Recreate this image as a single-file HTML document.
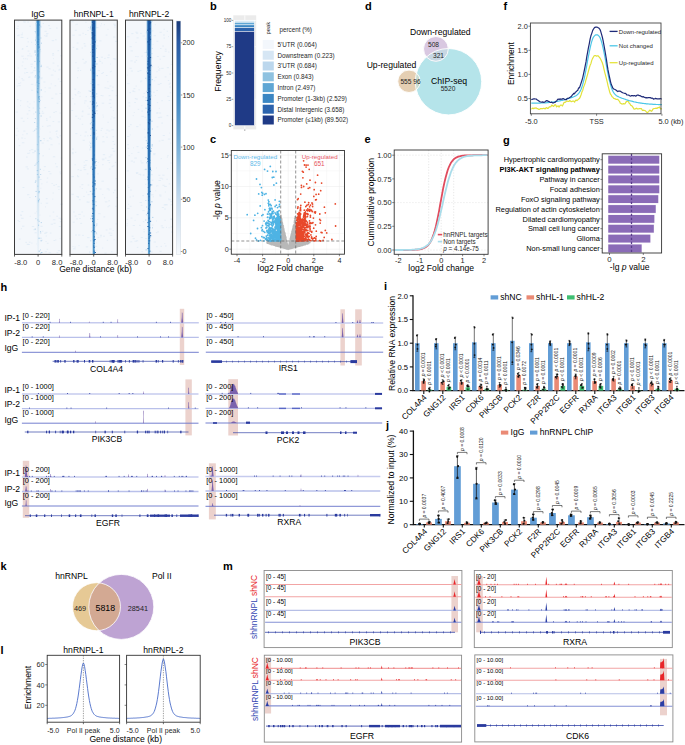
<!DOCTYPE html>
<html><head><meta charset="utf-8"><style>
html,body{margin:0;padding:0;background:#fff;}
body{width:685px;height:745px;overflow:hidden;}
svg{display:block;font-family:"Liberation Sans",sans-serif;}
</style></head><body>
<svg width="685" height="745" viewBox="0 0 685 745">
<defs><linearGradient id="sg0" x1="0" y1="0" x2="0" y2="1"><stop offset="0" stop-color="#3483c2"/><stop offset="0.15" stop-color="#5a9fd0"/><stop offset="0.35" stop-color="#98c6e4"/><stop offset="0.7" stop-color="#cbe1f1"/><stop offset="1" stop-color="#e8f0f8"/></linearGradient>
<linearGradient id="sg1" x1="0" y1="0" x2="0" y2="1"><stop offset="0" stop-color="#1b58a3"/><stop offset="0.6" stop-color="#2a70b4"/><stop offset="1" stop-color="#4f98cb"/></linearGradient>
<linearGradient id="hg0" x1="0" y1="0" x2="0" y2="1"><stop offset="0" stop-color="#9cc6e4"/><stop offset="0.4" stop-color="#d3e5f3"/><stop offset="1" stop-color="#f3f7fb"/></linearGradient>
<linearGradient id="hg1" x1="0" y1="0" x2="0" y2="1"><stop offset="0" stop-color="#86b9df"/><stop offset="1" stop-color="#c2dbef"/></linearGradient>
<linearGradient id="cb" x1="0" y1="0" x2="0" y2="1"><stop offset="0" stop-color="#1b3a78"/><stop offset="0.09" stop-color="#2a5aa3"/><stop offset="0.32" stop-color="#3f86c2"/><stop offset="0.55" stop-color="#7db3da"/><stop offset="0.77" stop-color="#c6dbee"/><stop offset="1" stop-color="#f7fafd"/></linearGradient>
<clipPath id="cbig"><circle cx="448.5" cy="81.7" r="33.2"/></clipPath>
<clipPath id="ctan"><circle cx="96.5" cy="606.7" r="24.0"/></clipPath></defs>
<rect width="685" height="745" fill="#fff"/>
<text x="0.5" y="10" font-size="11" font-weight="bold" fill="#000">a</text>
<rect x="14.5" y="20.1" width="47.3" height="234.3" fill="#f4f7fb"/>
<path d="M30.2 56.1h1.9M18.8 145.6h1.4M18.1 139h0.9M35.1 37.3h1M34.7 213.2h1M25.6 166.9h2.4M41.6 113.2h2.5M17.6 220.5h1.3M22 48.5h1.3M52.5 63.1h1.8M44.4 107.6h1.7M18.3 34.9h1.2M46.3 120.4h1.3M42 126.4h1.3M51.5 183.5h1.2M41.5 143.1h2.3M48.5 88h2.5M20.8 118.2h2.1M22.4 134.7h0.9M45.8 198.7h1.8M55.2 94h2M42.4 155.8h1.6M53.6 240.5h1.6M45.6 35.2h2M44.8 251.8h2.2M28.4 110.7h1.9M16.5 128.4h1.1M20.8 34.8h2.1M21.4 78.6h1.5M55 39.8h1.6M40.4 226.3h2.2M54.6 85.8h1.5M31.8 226.5h2.4M22.3 62h1.2M26.1 133.8h1.8M27.4 22.1h1.5M32.2 152.7h2.4M46.8 140.8h1.8M46.1 33.6h2.3M50.8 224.2h2.2M33.3 113.8h1M44.2 35.6h0.9M25 58.8h1.4M17.9 21.2h1.1M20.1 105.6h0.8M55.1 163.7h1.1M26.9 101.8h1.4M21.1 218.3h2.5M36.6 133.5h0.9M20.1 100.7h1.3M53 58.6h0.8M58.6 143.8h1M40.1 27.4h1.7M59.8 221.7h2M27.3 106.3h1.1M50.5 144.8h2.1M30.4 72.9h2.2M60.1 219.2h2.2M52.6 193h1.2M38.9 103.7h0.8M16.8 86h1.2M46.9 243.3h1.6M57.9 250.6h2.4M32 72.3h1.2M24.4 68.6h1.9M56.3 216.3h1.6M45.1 206.9h0.9M45.4 232.4h2.1M49.5 132.1h1.1M51.2 98.3h2.2M59.5 113.1h1.5M58.4 189.5h1.1M21.3 56.2h2.3M52 55.1h2.2M59.9 173.8h1.4M40.4 51.5h0.8M59.5 172h1.7M57.8 121.9h2.3M52.9 70.1h1.2M28.8 77h1.8M27.2 118.4h1M56.7 103.3h1.6M41.9 231.2h1.5M57.1 137.6h1.7M39.2 25.4h1.5M23.8 22h2.2M23.3 131.1h2M40.7 96.8h1.7M40.7 203.3h1M40.9 78.8h1.3M50.5 139h1.8M49.9 233.1h1.6M43.2 138.5h1.7M46.9 126.2h1.7M37.2 239.8h2M55.2 240h1.2M40.8 240.2h2.2M21.7 49.4h1.6M18.8 77h0.9M45.8 203.2h2.3M22.5 187.5h1.9M22 226.2h2.4M25.4 242.4h1.5M37.6 251h2.2M22.8 121.3h1.7M30.9 66.6h1.3M48.2 25.6h1.7M35.5 25.3h1.4M43.8 140.1h0.9M60.1 204.2h2.5M20.2 82.8h0.9M50.8 83.9h1M34.6 232.8h2.2M27.2 55.8h2.4M41.3 183.8h1M18.1 181h1.5M18.8 239.1h1.9M51.8 40.6h2.3M18.5 221.5h1.6M30.9 149.6h2.4M27.6 51.1h1.7M26.3 46.5h1.1M17.8 68h1.3M29.3 197.5h1.3M38.2 62.4h1.4M16.3 79.3h0.8M48.7 149.1h1.1M37 238.2h1M52.6 121.5h1.6M53.3 112.4h1.7M46.7 249.3h1.4M53.2 185.3h1.9M33.8 101.8h0.9M21.4 37.5h2.1M27.1 59h0.9M53.6 223.3h1.9M28.3 77.4h1.3M36.3 57.7h1.6M27.4 244.5h2.5M40.3 77.9h2.4M29.5 103.9h0.8M32.8 131.4h1.7M24.6 138.4h0.8M27.5 41.9h1.5M17.4 26.3h1.3M26 157.1h1.7M49.5 173.8h2M55.3 111.6h1.4M60.1 55.8h2M44.6 31.3h2.2M55.9 166.8h2M52.3 53.5h1.7M38.3 215.1h2.2M52.9 156.8h2.3M46.4 182.2h1.2M16.9 52h1.4M20.3 215.3h1.7M43.9 166.6h2M37.7 21.9h2.2M49.4 137.9h1.7M45.4 36.4h2.1M26.9 38.4h1.3M48.5 68.8h2.1M59.7 135.8h1.5M37.2 179.9h2.1M43.4 170.4h0.9M22.2 80.1h2.1M29.3 153h0.8M18.2 83.5h1.9M46.9 178.1h1.3M38.9 129h1.6M20.9 228.7h1.1M59.8 238.6h0.8M36.3 211.6h2.4M35.9 83.5h1.2M58.3 70h1.8M21.9 142.8h2.4M21.5 211.6h1.7M55.7 184.5h1.2M56.2 134h0.8M15.7 135.3h1.6M29.2 53.8h1.4M29.8 216.3h0.8M49.5 216h1M57.5 186.7h2.3M28.6 107.6h1.5M60.7 158h1.4M34.9 85h0.9M20.1 215h1.3M57.9 79h1.3M38.6 65.2h1.4M58.8 226.5h2.2M44.1 233.3h2.4M40.4 188.3h0.9M48.7 125.8h2.1M44.7 87.6h0.9M57.5 50.7h1.6M31.1 90.3h2.1M59.7 81.5h1.9M29.1 150.6h1.5M23.1 58.7h1.2M56.5 136.6h1.2M56.6 252.6h1.6M21.8 65.8h1M31 42.3h1.2M27.2 153.4h2.3M49.5 117h1.5M39.2 108.6h1.4M18.3 85.6h2.4M21.2 138h1.9M54.6 71.3h1.3M26.8 114h1.6M58.7 218.2h2.3M16.5 28.6h2M56.1 131h1.8M15.5 112.1h2.4M52.9 219.8h2.5M26.8 46.4h1.1M39.2 179.5h2.4M48.2 171.5h2.1M36.2 149.2h0.9M50.9 75.1h2.4M44.7 91.7h1M26.9 168.9h2M20.6 37.4h1.7M41.9 111.3h1.2M42.7 23.5h1.3M36.4 243.9h1.9M55.5 131.5h1.2M26.7 244.3h2M29.4 26.2h1.6M46.1 118.7h1.2M45.7 236h1.2M17 99.6h1.5M46.4 67.1h2.2M49 138.4h1.1M59.4 93.5h2.2M26 72.5h2.1M28.9 242.2h1.6M24 73h1.5M45.6 241.5h1M33.3 70.6h2.5M21.9 33.1h0.9M33.3 229.7h2.3M48.7 252.8h2.4M30.4 64.2h2.4M49.3 28.5h1.9M32.7 108h1.4M23.2 21.8h1.3M31.4 243.1h1M59.2 69.3h1.4M52.7 212.1h1.5M17.7 131.1h1.4M57.2 65.9h1.4M56.1 28.1h1.5M52.3 199.2h0.9M17.1 35.6h2.4M27.1 194.7h2.3M30.9 84.4h2.4M43.4 82h2" stroke="#e2ecf6" stroke-width="0.9"/>
<path d="M35.8 20.1 L40.5 20.1 L39.4 254.4 L36.9 254.4Z" fill="url(#hg0)"/>
<path d="M36.9 20.1 L39.4 20.1 L38.6 254.4 L37.6 254.4Z" fill="url(#sg0)"/>
<rect x="37.3" y="20.6" width="0.8" height="1" fill="#3a86c4"/>
<rect x="35.5" y="23.2" width="1.4" height="1" fill="#b9d5ec"/>
<rect x="38.3" y="24.5" width="1.4" height="1" fill="#3a86c4"/>
<rect x="39.9" y="25.8" width="1.4" height="1" fill="#b9d5ec"/>
<rect x="37.4" y="29.7" width="1.1" height="1" fill="#3a86c4"/>
<rect x="37.1" y="31" width="1.3" height="1" fill="#3a86c4"/>
<rect x="34.7" y="31" width="1.2" height="1" fill="#b9d5ec"/>
<rect x="37.1" y="32.3" width="1.1" height="1" fill="#3a86c4"/>
<rect x="35.3" y="32.3" width="0.9" height="1" fill="#b9d5ec"/>
<rect x="37.7" y="33.6" width="1.3" height="1" fill="#3a86c4"/>
<rect x="37.6" y="34.9" width="1.2" height="1" fill="#3a86c4"/>
<rect x="40.1" y="37.5" width="1.3" height="1" fill="#b9d5ec"/>
<rect x="38.2" y="38.8" width="0.9" height="1" fill="#3a86c4"/>
<rect x="35.3" y="38.8" width="1" height="1" fill="#b9d5ec"/>
<rect x="35.1" y="40.1" width="1.6" height="1" fill="#b9d5ec"/>
<rect x="37.2" y="41.4" width="1.4" height="1" fill="#3a86c4"/>
<rect x="41" y="42.7" width="1" height="1" fill="#b9d5ec"/>
<rect x="37.5" y="44" width="1.4" height="1" fill="#3a86c4"/>
<rect x="35.4" y="44" width="1.6" height="1" fill="#b9d5ec"/>
<rect x="38.5" y="46.6" width="1.1" height="1" fill="#3a86c4"/>
<rect x="37.9" y="49.2" width="1.2" height="1" fill="#6aaad6"/>
<rect x="40.2" y="49.2" width="0.8" height="1" fill="#b9d5ec"/>
<rect x="34.4" y="50.5" width="1.5" height="1" fill="#b9d5ec"/>
<rect x="37.5" y="51.8" width="1.2" height="1" fill="#6aaad6"/>
<rect x="34.5" y="51.8" width="1.2" height="1" fill="#b9d5ec"/>
<rect x="37" y="53.1" width="1.1" height="1" fill="#6aaad6"/>
<rect x="35.1" y="54.4" width="1" height="1" fill="#b9d5ec"/>
<rect x="36.9" y="57" width="1.3" height="1" fill="#6aaad6"/>
<rect x="36.8" y="58.3" width="1.3" height="1" fill="#6aaad6"/>
<rect x="38.6" y="60.9" width="1.1" height="1" fill="#6aaad6"/>
<rect x="34.4" y="60.9" width="1.1" height="1" fill="#b9d5ec"/>
<rect x="36.8" y="63.5" width="1.2" height="1" fill="#6aaad6"/>
<rect x="40.8" y="64.8" width="0.9" height="1" fill="#b9d5ec"/>
<rect x="37.1" y="66.1" width="0.9" height="1" fill="#6aaad6"/>
<rect x="40.4" y="66.1" width="1.4" height="1" fill="#b9d5ec"/>
<rect x="34.4" y="67.4" width="0.8" height="1" fill="#b9d5ec"/>
<rect x="38.2" y="71.3" width="1.3" height="1" fill="#6aaad6"/>
<rect x="37.7" y="75.2" width="1.2" height="1" fill="#6aaad6"/>
<rect x="35.1" y="75.2" width="0.9" height="1" fill="#b9d5ec"/>
<rect x="38.2" y="76.5" width="1.4" height="1" fill="#6aaad6"/>
<rect x="34.6" y="76.5" width="1.1" height="1" fill="#b9d5ec"/>
<rect x="37.7" y="77.8" width="1.4" height="1" fill="#6aaad6"/>
<rect x="37.5" y="80.4" width="1.1" height="1" fill="#6aaad6"/>
<rect x="36.8" y="81.7" width="1.5" height="1" fill="#6aaad6"/>
<rect x="38" y="83" width="1.4" height="1" fill="#6aaad6"/>
<rect x="37.5" y="85.6" width="1.1" height="1" fill="#6aaad6"/>
<rect x="37" y="88.2" width="1.4" height="1" fill="#6aaad6"/>
<rect x="40.6" y="89.5" width="1.4" height="1" fill="#b9d5ec"/>
<rect x="36.9" y="90.8" width="1.2" height="1" fill="#6aaad6"/>
<rect x="37" y="92.1" width="1.4" height="1" fill="#6aaad6"/>
<rect x="38.4" y="96" width="1.2" height="1" fill="#6aaad6"/>
<rect x="38" y="97.3" width="1.4" height="1" fill="#6aaad6"/>
<rect x="38.7" y="98.6" width="1.1" height="1" fill="#6aaad6"/>
<rect x="39.7" y="99.9" width="0.9" height="1" fill="#b9d5ec"/>
<rect x="38.6" y="101.2" width="1.3" height="1" fill="#6aaad6"/>
<rect x="38.3" y="102.5" width="0.9" height="1" fill="#a6cde9"/>
<rect x="38.7" y="107.7" width="1.2" height="1" fill="#a6cde9"/>
<rect x="38.3" y="111.6" width="1.1" height="1" fill="#a6cde9"/>
<rect x="35.2" y="111.6" width="1.2" height="1" fill="#b9d5ec"/>
<rect x="38.7" y="112.9" width="1.4" height="1" fill="#a6cde9"/>
<rect x="40.6" y="115.5" width="1.1" height="1" fill="#b9d5ec"/>
<rect x="37.2" y="118.1" width="1.3" height="1" fill="#a6cde9"/>
<rect x="34.8" y="118.1" width="1" height="1" fill="#b9d5ec"/>
<rect x="37.5" y="122" width="1.4" height="1" fill="#a6cde9"/>
<rect x="34.2" y="122" width="1" height="1" fill="#b9d5ec"/>
<rect x="36.9" y="123.3" width="1.2" height="1" fill="#a6cde9"/>
<rect x="36.8" y="125.9" width="1.3" height="1" fill="#a6cde9"/>
<rect x="38" y="127.2" width="1.1" height="1" fill="#a6cde9"/>
<rect x="35.6" y="128.5" width="1.2" height="1" fill="#b9d5ec"/>
<rect x="34.3" y="129.8" width="0.9" height="1" fill="#b9d5ec"/>
<rect x="37.6" y="132.4" width="1.2" height="1" fill="#a6cde9"/>
<rect x="38" y="136.3" width="1.5" height="1" fill="#a6cde9"/>
<rect x="39.9" y="140.2" width="1.6" height="1" fill="#b9d5ec"/>
<rect x="38" y="141.5" width="0.9" height="1" fill="#a6cde9"/>
<rect x="36.9" y="144.1" width="1.2" height="1" fill="#a6cde9"/>
<rect x="37.8" y="149.3" width="0.9" height="1" fill="#a6cde9"/>
<rect x="34.5" y="150.6" width="1.1" height="1" fill="#b9d5ec"/>
<rect x="38.6" y="153.2" width="1.2" height="1" fill="#a6cde9"/>
<rect x="38" y="161" width="0.9" height="1" fill="#a6cde9"/>
<rect x="36.8" y="162.3" width="0.9" height="1" fill="#a6cde9"/>
<rect x="35.6" y="163.6" width="0.9" height="1" fill="#b9d5ec"/>
<rect x="34.5" y="164.9" width="0.9" height="1" fill="#b9d5ec"/>
<rect x="39.8" y="168.8" width="1" height="1" fill="#b9d5ec"/>
<rect x="36.8" y="170.1" width="1.4" height="1" fill="#a6cde9"/>
<rect x="36.9" y="174" width="1.3" height="1" fill="#a6cde9"/>
<rect x="40.2" y="174" width="1" height="1" fill="#b9d5ec"/>
<rect x="38.3" y="176.6" width="1.4" height="1" fill="#a6cde9"/>
<rect x="35.1" y="180.5" width="1.4" height="1" fill="#b9d5ec"/>
<rect x="34.8" y="181.8" width="1" height="1" fill="#b9d5ec"/>
<rect x="37.4" y="185.7" width="0.9" height="1" fill="#a6cde9"/>
<rect x="38.4" y="190.9" width="1.5" height="1" fill="#a6cde9"/>
<rect x="35.5" y="190.9" width="1.3" height="1" fill="#b9d5ec"/>
<rect x="38.3" y="192.2" width="1.3" height="1" fill="#a6cde9"/>
<rect x="35.1" y="196.1" width="1" height="1" fill="#b9d5ec"/>
<rect x="38.7" y="198.7" width="1.2" height="1" fill="#a6cde9"/>
<rect x="37.9" y="200" width="1.3" height="1" fill="#a6cde9"/>
<rect x="37.9" y="201.3" width="1.2" height="1" fill="#a6cde9"/>
<rect x="35.4" y="218.2" width="0.9" height="1" fill="#b9d5ec"/>
<rect x="37.4" y="219.5" width="1" height="1" fill="#a6cde9"/>
<rect x="38.6" y="220.8" width="1" height="1" fill="#a6cde9"/>
<rect x="40.7" y="222.1" width="1.2" height="1" fill="#b9d5ec"/>
<rect x="38" y="224.7" width="1.1" height="1" fill="#a6cde9"/>
<rect x="34.6" y="228.6" width="1.3" height="1" fill="#b9d5ec"/>
<rect x="40" y="231.2" width="1.1" height="1" fill="#b9d5ec"/>
<rect x="40.4" y="232.5" width="0.8" height="1" fill="#b9d5ec"/>
<rect x="38.4" y="237.7" width="1.4" height="1" fill="#a6cde9"/>
<rect x="40.5" y="237.7" width="0.9" height="1" fill="#b9d5ec"/>
<rect x="40.5" y="240.3" width="1.4" height="1" fill="#b9d5ec"/>
<rect x="40.2" y="249.4" width="0.8" height="1" fill="#b9d5ec"/>
<rect x="38.6" y="250.7" width="1.2" height="1" fill="#a6cde9"/>
<rect x="40.8" y="252" width="1.6" height="1" fill="#b9d5ec"/>
<rect x="40.3" y="253.3" width="0.9" height="1" fill="#b9d5ec"/>
<rect x="14.5" y="20.1" width="47.3" height="234.3" fill="none" stroke="#3a3a3a" stroke-width="1"/>
<text x="38.1" y="16.6" font-size="8.6" text-anchor="middle">IgG</text>
<line x1="14.5" y1="254.4" x2="14.5" y2="256.6" stroke="#3a3a3a" stroke-width="0.8"/>
<text x="14.2" y="264.9" font-size="7.6" fill="#1f1f1f">-8.0</text>
<line x1="38.1" y1="254.4" x2="38.1" y2="256.6" stroke="#3a3a3a" stroke-width="0.8"/>
<text x="38.1" y="264.9" font-size="7.6" text-anchor="middle" fill="#1f1f1f">0</text>
<line x1="61.8" y1="254.4" x2="61.8" y2="256.6" stroke="#3a3a3a" stroke-width="0.8"/>
<text x="62.4" y="264.9" font-size="7.6" text-anchor="end" fill="#1f1f1f">8.0</text>
<rect x="70" y="20.1" width="47.3" height="234.3" fill="#f4f7fb"/>
<path d="M113.1 37.1h2.2M79.8 170.3h2M107.9 55.1h1.9M108.6 205.8h1.5M116.1 197.6h1.9M106.3 130.1h2.1M81.4 184.7h2M115.5 178.8h1.6M107.5 206.7h1.4M100.6 95.5h1.6M99.2 40.9h2.3M77.9 91.5h1.5M74.9 152.3h1.4M113.7 144.4h1.4M97.4 173.8h1.2M74.3 89.2h1.8M97.2 219.5h1.1M91.5 203.4h1.2M89.2 145.3h1.8M102.2 248.1h1M111.8 148.5h1.9M84.5 136h1.2M74.6 216.1h1.9M76.3 48.6h1.5M108.5 131h1.7M92.9 231.4h2M82.2 59.3h1.8M104.3 58.4h1.3M102.5 136.7h1.3M92.1 120h2.5M101.6 63h1.4M100.3 25.9h0.9M104.4 253.2h2.2M75.3 133.6h2.1M77.5 70.7h1.5M76.7 43h1.9M86.5 202h1.7M112.3 87.1h1.4M82.4 33.3h1.3M87.1 135.8h1.4M115.6 223.9h1.4M80.2 135.4h1M79.7 186.8h1M115.1 41.4h2.5M89.1 149.9h1.5M97 113.7h1M73.1 212h1.6M105.7 35.1h1.7M95.6 108.5h1M101.5 181.2h2.3M74.8 30.3h1.9M99.3 61.5h1.9M110.4 119h1M113.2 24.2h2.3M77.3 93h2M110.1 64h0.9M71.9 152.7h1.8M112.4 136.7h1.7M108.4 200.8h1.5M102.5 115.1h0.9M101.8 159.1h2.5M100.9 57.2h2.1M95.9 40.4h1.6M111.6 166.7h1.5M71.4 176.6h2.5M109.9 71.8h1M92.4 85.1h1.8M91.4 194h2.4M87.6 194.7h2M77.6 197.5h1.3M96.3 136.8h1.9M111.3 233.3h0.9M72.4 35.2h2.3M102.1 164.7h1.5M85.2 160.5h2.4M108.8 162.6h1.3M114 190.2h1.6M78.5 245.6h1M114.2 59.2h2.2M92.6 201.9h1.6M83.3 196.4h1.4M83.7 165.6h1.9M107.3 160.5h2.3M103.9 24.7h1.1M108.7 156.9h2.5M82.1 111.1h1.4M105.9 75.5h1.6M102.2 95.8h1.3M78.1 235h2.1M106.5 88.1h1M111.3 251.7h1M115.2 206.3h1.7M106.2 137.2h1.7M95.5 133.7h1.4M106.7 188.9h2.5M85 34.5h1.5M103.1 236.2h1.8M71.4 110.5h1.7M95.3 103.6h0.9M89 142.1h1.2M108.7 95.7h1.7M80.1 70.5h1M107.5 88.4h1.8M87.3 202.2h2.3M82.2 235.4h1.6M110.2 107.4h1.6M74.7 94.5h0.9M83.7 162.1h1M80.3 223.4h1.8M97.6 70.7h2.4M83.7 43.7h1.6M97.9 162.5h1M109.2 99.8h2.5M88.1 27.5h0.9M87.7 185h1.6M109.3 229h2.3M100 235.3h2M75.1 95.1h1.2M75.1 235h1.7M79.3 218.5h1.4M81.7 188.5h1.1M113.7 239.7h0.9M96 27.6h2.4M82.7 140.3h2.1M105.5 133.4h1M85.4 22.4h1.1M104.9 158.1h1.6M100.6 130.4h1.4M88.7 108.2h1.4M91 208.7h2.4M111.4 129.8h2.4M107.2 57.6h2.2M74.5 164.8h1.4M104.9 201.9h2.4M112.9 110.6h0.8M74.4 247h1.3M81.6 48h1.4M86 192.1h1.1M91.4 227.7h1.5M77.8 118.3h1.2M72.2 153.7h1.3M107.4 81.7h1M91.7 133.2h1.1M94.3 167.7h2.1M112.9 151.2h2.2M76.4 196.5h2.5M90.6 81.9h1.2M81.8 111.7h1.5M78.3 214.4h2.5M77.5 169.7h1.6M94 139.8h1.6M106.8 240.3h1.3M87.3 30.5h1.5M83.5 63.1h2.2M94.6 74.6h1.1M98.2 213.7h2.3M104.1 197.9h1.1M77.2 176.7h1.9M79.7 92.7h0.8M102.4 141.8h2.2M112.5 141.5h1.4M83.8 169.6h2.4M75.1 116.2h2.1M77 175.7h1.2M96.5 250.1h0.9M102.8 154.7h2.3M87.1 237.6h2.4M74.2 104h1.2M108.6 233.1h2.1M110.3 155h2.3M84.2 46.1h2M91.2 27.1h2.2M77.1 77.7h1M99 60.1h1.3M96.2 243h0.8M113 192.7h1.2M108.9 169h1.6M81.8 124.3h1.4M75.3 62.7h1.3M92.1 157.2h2.1M76 49.3h2.3M95.5 73.9h1.2M101.3 128.4h1.5M114 25.4h1.9M102.4 159.8h1.8M72.6 246.5h0.9M87.5 114.2h2.2M103.4 216.9h1.8M115.7 95.6h1.5M96.4 96.6h1M101.8 103.2h2.3M101 23.8h1M79.5 96.4h1.1M101.3 73.5h1.5M89 252.8h1.6M73.1 248.8h2.5M72.8 222.2h1.9M112.6 165.9h1.9M107.5 29.4h1M76.5 24.3h1.2M72.8 47.4h1.4M78.6 35.1h2.4M112.7 230.5h0.9M97.7 237.6h1.5M94.2 226.7h2.4M97.2 84.8h2.1M104.5 87.8h1.6M102.5 72.6h1.5M95.9 106.3h2.3M84.8 132.1h2.2M72.4 98.6h1.1M95.7 246.3h1.5M112.9 58.8h2.4M85.7 96.7h1.3M110.8 71.3h0.9M72 149.1h1.8M86.8 173.9h1.7M108.8 103.4h2.1M94.6 250.9h2M113.3 117.9h1.9M77.4 68.1h1.8M83.5 216h1M109.8 235.3h2.5M83.2 167.6h1.9M102.9 117h1M89.6 148.9h1M89 251.8h1.1M109.5 86h1.9M76 218.9h2M84 103h1.4M94.8 159.4h1.9M71.3 194.3h2.5M88.2 90.8h1.7M107.4 122.3h1.4M81.5 212h1.4M114.9 162.4h1.2M85.8 246.9h2.3M114.3 27h1.2M111.6 90.7h1.7M85.2 165.1h1.5M108.4 190h1.5M92 30.6h1.9M91.5 23.5h0.9M81.4 116.2h1.7M100.4 236.8h1.1M79.5 119h1.5M105.8 230h1.8M102.3 194.5h1M87.4 106.3h0.9M85.1 61.9h1.9M84.4 100.9h2.4M94.1 246.7h1.9M94.7 210.7h1.2M111.5 116.9h0.9M96.6 45.9h1.8M99.6 189h2M71.5 21.7h2M96 234.1h1.5M75.5 24.7h0.9M78.9 199.7h1.8" stroke="#e2ecf6" stroke-width="0.9"/>
<path d="M91.2 20.1 L96.2 20.1 L95 254.4 L92.4 254.4Z" fill="url(#hg1)"/>
<path d="M92.1 20.1 L95.2 20.1 L94.5 254.4 L92.9 254.4Z" fill="url(#sg1)"/>
<rect x="92.1" y="21.9" width="1" height="1" fill="#1a4f96"/>
<rect x="93.2" y="23.2" width="1.3" height="1" fill="#1a4f96"/>
<rect x="90.9" y="23.2" width="1.2" height="1" fill="#b9d5ec"/>
<rect x="90.1" y="25.8" width="1.3" height="1" fill="#b9d5ec"/>
<rect x="92.3" y="27.1" width="1.1" height="1" fill="#1a4f96"/>
<rect x="89.9" y="27.1" width="1.6" height="1" fill="#b9d5ec"/>
<rect x="92.2" y="28.4" width="1.4" height="1" fill="#1a4f96"/>
<rect x="89.8" y="28.4" width="1.3" height="1" fill="#b9d5ec"/>
<rect x="90.9" y="31" width="1.3" height="1" fill="#b9d5ec"/>
<rect x="91.7" y="32.3" width="1.7" height="1" fill="#1a4f96"/>
<rect x="92.4" y="33.6" width="1.7" height="1" fill="#1a4f96"/>
<rect x="93.6" y="34.9" width="1.5" height="1" fill="#1a4f96"/>
<rect x="92.8" y="36.2" width="1.5" height="1" fill="#1a4f96"/>
<rect x="91" y="36.2" width="0.9" height="1" fill="#b9d5ec"/>
<rect x="91.7" y="37.5" width="1.7" height="1" fill="#1a4f96"/>
<rect x="92.6" y="38.8" width="1.7" height="1" fill="#1a4f96"/>
<rect x="94.3" y="41.4" width="1.4" height="1" fill="#1a4f96"/>
<rect x="92.6" y="42.7" width="1.2" height="1" fill="#1a4f96"/>
<rect x="94" y="44" width="1" height="1" fill="#1a4f96"/>
<rect x="90.7" y="44" width="1.5" height="1" fill="#b9d5ec"/>
<rect x="92.9" y="45.3" width="1.6" height="1" fill="#1a4f96"/>
<rect x="92.7" y="46.6" width="1.5" height="1" fill="#1a4f96"/>
<rect x="95.9" y="47.9" width="1" height="1" fill="#b9d5ec"/>
<rect x="92" y="49.2" width="1.5" height="1" fill="#1a4f96"/>
<rect x="92.4" y="51.8" width="1.4" height="1" fill="#1a4f96"/>
<rect x="90.1" y="51.8" width="0.9" height="1" fill="#b9d5ec"/>
<rect x="90.7" y="54.4" width="1.1" height="1" fill="#b9d5ec"/>
<rect x="92.2" y="55.7" width="1.7" height="1" fill="#1a4f96"/>
<rect x="96.4" y="57" width="1.4" height="1" fill="#b9d5ec"/>
<rect x="93.7" y="58.3" width="0.9" height="1" fill="#1a4f96"/>
<rect x="94.1" y="60.9" width="1.3" height="1" fill="#1a4f96"/>
<rect x="96.2" y="63.5" width="1.3" height="1" fill="#b9d5ec"/>
<rect x="92.8" y="64.8" width="1.5" height="1" fill="#1a4f96"/>
<rect x="94.1" y="66.1" width="1.2" height="1" fill="#1a4f96"/>
<rect x="92" y="67.4" width="1.7" height="1" fill="#1a4f96"/>
<rect x="90.2" y="68.7" width="1.1" height="1" fill="#b9d5ec"/>
<rect x="90.3" y="70" width="1.3" height="1" fill="#b9d5ec"/>
<rect x="93.1" y="72.6" width="1.3" height="1" fill="#1a4f96"/>
<rect x="96.5" y="75.2" width="1.5" height="1" fill="#b9d5ec"/>
<rect x="92.6" y="79.1" width="1.6" height="1" fill="#1a4f96"/>
<rect x="90.6" y="83" width="1.6" height="1" fill="#b9d5ec"/>
<rect x="92.6" y="84.3" width="1.3" height="1" fill="#1a4f96"/>
<rect x="93.6" y="86.9" width="1" height="1" fill="#1a4f96"/>
<rect x="92.2" y="89.5" width="1.8" height="1" fill="#1a4f96"/>
<rect x="89.7" y="90.8" width="1.3" height="1" fill="#b9d5ec"/>
<rect x="92.4" y="92.1" width="0.9" height="1" fill="#1a4f96"/>
<rect x="92.2" y="93.4" width="1.1" height="1" fill="#1a4f96"/>
<rect x="96.2" y="93.4" width="1" height="1" fill="#b9d5ec"/>
<rect x="93.1" y="94.7" width="1.2" height="1" fill="#1a4f96"/>
<rect x="92.5" y="96" width="1.7" height="1" fill="#1a4f96"/>
<rect x="90.6" y="96" width="1.5" height="1" fill="#b9d5ec"/>
<rect x="93.9" y="97.3" width="1" height="1" fill="#1a4f96"/>
<rect x="92.5" y="101.2" width="1.2" height="1" fill="#1a4f96"/>
<rect x="89.8" y="101.2" width="1" height="1" fill="#b9d5ec"/>
<rect x="92.5" y="102.5" width="1.8" height="1" fill="#1a4f96"/>
<rect x="95.9" y="102.5" width="1.1" height="1" fill="#b9d5ec"/>
<rect x="91.9" y="103.8" width="0.8" height="1" fill="#1a4f96"/>
<rect x="96.6" y="105.1" width="1.3" height="1" fill="#b9d5ec"/>
<rect x="93.1" y="106.4" width="1.2" height="1" fill="#1a4f96"/>
<rect x="95.2" y="106.4" width="1.5" height="1" fill="#b9d5ec"/>
<rect x="92.4" y="110.3" width="0.9" height="1" fill="#1a4f96"/>
<rect x="96.4" y="110.3" width="1" height="1" fill="#b9d5ec"/>
<rect x="93.5" y="111.6" width="1.6" height="1" fill="#1a4f96"/>
<rect x="93.9" y="112.9" width="1.6" height="1" fill="#1a4f96"/>
<rect x="92.2" y="114.2" width="1.6" height="1" fill="#1a4f96"/>
<rect x="93.2" y="115.5" width="1.2" height="1" fill="#1a4f96"/>
<rect x="91.8" y="116.8" width="1.4" height="1" fill="#1a4f96"/>
<rect x="93.1" y="120.7" width="1" height="1" fill="#1a4f96"/>
<rect x="90.9" y="122" width="1.2" height="1" fill="#b9d5ec"/>
<rect x="89.9" y="123.3" width="1.2" height="1" fill="#b9d5ec"/>
<rect x="92.7" y="124.6" width="0.8" height="1" fill="#1a4f96"/>
<rect x="91.9" y="127.2" width="0.9" height="1" fill="#1a4f96"/>
<rect x="90.2" y="128.5" width="1.5" height="1" fill="#b9d5ec"/>
<rect x="95.2" y="129.8" width="1.4" height="1" fill="#b9d5ec"/>
<rect x="93.2" y="132.4" width="1.3" height="1" fill="#1a4f96"/>
<rect x="93.5" y="133.7" width="1" height="1" fill="#1a4f96"/>
<rect x="90.1" y="135" width="1.1" height="1" fill="#b9d5ec"/>
<rect x="92.7" y="137.6" width="1.5" height="1" fill="#2a6fb3"/>
<rect x="95.9" y="137.6" width="1.3" height="1" fill="#b9d5ec"/>
<rect x="96.2" y="138.9" width="0.9" height="1" fill="#b9d5ec"/>
<rect x="92.9" y="142.8" width="1.1" height="1" fill="#2a6fb3"/>
<rect x="90.3" y="142.8" width="0.9" height="1" fill="#b9d5ec"/>
<rect x="93.2" y="145.4" width="1.1" height="1" fill="#2a6fb3"/>
<rect x="90" y="146.7" width="1.5" height="1" fill="#b9d5ec"/>
<rect x="93.1" y="150.6" width="1.3" height="1" fill="#2a6fb3"/>
<rect x="93.6" y="154.5" width="1.3" height="1" fill="#2a6fb3"/>
<rect x="93" y="155.8" width="0.9" height="1" fill="#2a6fb3"/>
<rect x="91.8" y="158.4" width="1.5" height="1" fill="#2a6fb3"/>
<rect x="92" y="159.7" width="0.9" height="1" fill="#2a6fb3"/>
<rect x="94.5" y="161" width="1" height="1" fill="#2a6fb3"/>
<rect x="95.4" y="161" width="1.4" height="1" fill="#b9d5ec"/>
<rect x="93.9" y="162.3" width="1.5" height="1" fill="#2a6fb3"/>
<rect x="92.7" y="163.6" width="1.5" height="1" fill="#2a6fb3"/>
<rect x="95.3" y="164.9" width="1.2" height="1" fill="#b9d5ec"/>
<rect x="90.8" y="166.2" width="1" height="1" fill="#b9d5ec"/>
<rect x="94.1" y="167.5" width="1.4" height="1" fill="#2a6fb3"/>
<rect x="90.4" y="167.5" width="0.9" height="1" fill="#b9d5ec"/>
<rect x="92.1" y="168.8" width="1.7" height="1" fill="#2a6fb3"/>
<rect x="92.9" y="174" width="0.8" height="1" fill="#2a6fb3"/>
<rect x="93.1" y="175.3" width="0.8" height="1" fill="#2a6fb3"/>
<rect x="93.4" y="176.6" width="1.4" height="1" fill="#2a6fb3"/>
<rect x="94.4" y="180.5" width="1.3" height="1" fill="#2a6fb3"/>
<rect x="92.6" y="181.8" width="0.9" height="1" fill="#2a6fb3"/>
<rect x="94" y="183.1" width="1.5" height="1" fill="#2a6fb3"/>
<rect x="94.4" y="184.4" width="1.1" height="1" fill="#2a6fb3"/>
<rect x="92.3" y="185.7" width="1" height="1" fill="#2a6fb3"/>
<rect x="95.6" y="188.3" width="1.2" height="1" fill="#b9d5ec"/>
<rect x="93.3" y="189.6" width="1.3" height="1" fill="#2a6fb3"/>
<rect x="89.8" y="190.9" width="1.4" height="1" fill="#b9d5ec"/>
<rect x="92.5" y="193.5" width="1.6" height="1" fill="#2a6fb3"/>
<rect x="93.9" y="196.1" width="1.5" height="1" fill="#2a6fb3"/>
<rect x="92.6" y="200" width="1.1" height="1" fill="#2a6fb3"/>
<rect x="92.7" y="201.3" width="1" height="1" fill="#2a6fb3"/>
<rect x="95.4" y="201.3" width="1" height="1" fill="#b9d5ec"/>
<rect x="92.8" y="203.9" width="1.6" height="1" fill="#2a6fb3"/>
<rect x="95.5" y="205.2" width="1.3" height="1" fill="#b9d5ec"/>
<rect x="92.2" y="207.8" width="1.7" height="1" fill="#2a6fb3"/>
<rect x="92.7" y="209.1" width="1.3" height="1" fill="#2a6fb3"/>
<rect x="92.2" y="213" width="1.7" height="1" fill="#2a6fb3"/>
<rect x="91.7" y="215.6" width="0.8" height="1" fill="#2a6fb3"/>
<rect x="91.9" y="218.2" width="1" height="1" fill="#2a6fb3"/>
<rect x="90.2" y="218.2" width="0.9" height="1" fill="#b9d5ec"/>
<rect x="92" y="220.8" width="1" height="1" fill="#2a6fb3"/>
<rect x="96.5" y="223.4" width="0.8" height="1" fill="#b9d5ec"/>
<rect x="93.4" y="224.7" width="1.6" height="1" fill="#2a6fb3"/>
<rect x="96.3" y="224.7" width="0.9" height="1" fill="#b9d5ec"/>
<rect x="92.6" y="229.9" width="1.5" height="1" fill="#2a6fb3"/>
<rect x="93.7" y="231.2" width="1.6" height="1" fill="#2a6fb3"/>
<rect x="90.9" y="231.2" width="0.9" height="1" fill="#b9d5ec"/>
<rect x="95.8" y="232.5" width="1.2" height="1" fill="#b9d5ec"/>
<rect x="93.8" y="236.4" width="1.1" height="1" fill="#2a6fb3"/>
<rect x="93.9" y="239" width="1.8" height="1" fill="#2a6fb3"/>
<rect x="93.2" y="240.3" width="1.7" height="1" fill="#2a6fb3"/>
<rect x="90.3" y="240.3" width="0.9" height="1" fill="#b9d5ec"/>
<rect x="93.5" y="242.9" width="1.2" height="1" fill="#2a6fb3"/>
<rect x="93.2" y="245.5" width="1" height="1" fill="#2a6fb3"/>
<rect x="93.4" y="246.8" width="1.5" height="1" fill="#2a6fb3"/>
<rect x="93.7" y="250.7" width="1.2" height="1" fill="#2a6fb3"/>
<rect x="94.3" y="252" width="1.7" height="1" fill="#2a6fb3"/>
<rect x="93.9" y="253.3" width="0.8" height="1" fill="#2a6fb3"/>
<rect x="70" y="20.1" width="47.3" height="234.3" fill="none" stroke="#3a3a3a" stroke-width="1"/>
<text x="93.7" y="16.6" font-size="8.6" text-anchor="middle">hnRNPL-1</text>
<line x1="70" y1="254.4" x2="70" y2="256.6" stroke="#3a3a3a" stroke-width="0.8"/>
<text x="69.7" y="264.9" font-size="7.6" fill="#1f1f1f">-8.0</text>
<line x1="93.7" y1="254.4" x2="93.7" y2="256.6" stroke="#3a3a3a" stroke-width="0.8"/>
<text x="93.7" y="264.9" font-size="7.6" text-anchor="middle" fill="#1f1f1f">0</text>
<line x1="117.3" y1="254.4" x2="117.3" y2="256.6" stroke="#3a3a3a" stroke-width="0.8"/>
<text x="117.9" y="264.9" font-size="7.6" text-anchor="end" fill="#1f1f1f">8.0</text>
<rect x="125.5" y="20.1" width="47.1" height="234.3" fill="#f4f7fb"/>
<path d="M127.2 208.5h2.4M156.9 102.6h1.2M143.5 231.8h1.4M156.1 221h0.9M127.4 185.9h1.2M142.5 96.8h1.5M139.1 225.4h1.6M170.8 204.8h1.6M168.6 199.8h2.4M132.7 90.8h1M126.7 223.7h1.2M140.9 162.9h2.4M136.1 33.2h2.1M164.9 192h0.9M161.4 123.1h1.5M132.8 238.6h2M162.8 56.4h2.4M132.5 91.4h1.7M142.4 195.6h1.6M144.4 117.3h1.9M156.5 113.2h1.4M166.9 157.1h1.1M154.8 24.7h1M153.3 154.6h2M159.4 32.3h2.3M129.4 46.7h2.4M170.3 143.2h0.8M136.6 146.6h1.9M151.1 251.9h1.7M164.4 243.5h0.9M170.3 219.3h2.5M136.6 37.9h2M127.2 83.6h2.4M135.4 32.2h2.1M169.4 83.2h1.4M128.4 126.5h1.3M141.4 116.4h2.5M160.1 83.5h1.5M150.9 110.1h1.1M160.8 225.9h2.2M167 168.6h1.2M149.1 250.8h2M159.4 251.3h2.2M156.4 41.3h1.9M128 187.5h1.5M151.7 180.2h1.6M156.6 126.9h1.8M147.9 171.5h1.6M141.9 148h1.4M163.7 204.9h2.3M142.5 36h2.5M138.5 174.3h2.2M129.7 206.3h1.9M168.2 198.9h1.2M164.4 220.3h1.4M153.1 153.7h2.5M129.5 197h1.4M135.7 60.4h1.4M156.9 56.5h1.9M134.5 241.2h2.3M155.9 232.6h1.3M142.8 221.7h1.5M145 184.3h1.4M143 175.1h1.7M140.1 174.9h1.3M139.6 124.8h1M155.1 190.8h1.1M149.8 22.5h1M148.5 174.5h1.9M150.1 207.3h1.2M151.6 21.3h1.2M153.1 92.3h1.7M167.9 80.5h1.3M146.3 143.1h1.6M130.5 50.9h2.4M139.6 202.5h2.4M158.9 108.4h0.9M160.5 246.4h1.5M153.9 80.8h1.2M164.8 51.2h1.9M170.6 219h1.8M129.4 68.3h2.3M130.1 124.6h1.5M145.2 238.5h1.9M162.2 46.1h1.8M168.7 183.9h1.5M171.4 62h0.9M144.4 52.5h2.1M126.9 75.1h1.1M150.9 236.2h1.3M141.4 111.1h1.6M130.6 218.1h1.8M127.2 136.5h2.2M136.2 126.6h2.2M135.5 99.1h2.3M151.3 194.8h2.2M132.8 115.6h0.9M154.8 95.5h1.1M170.8 64.3h1.7M150 41.2h1.5M156.4 90.5h1.5M166.4 179.3h1.3M137.7 109.4h1.5M150.8 91.9h1M135.9 172.6h2.4M156.1 186h1M168.5 100.5h1.6M158.4 175.3h2M126.9 36.8h2.4M163.6 29.3h1.2M146.3 67.7h1.2M170.4 163h1.5M159.3 68.5h1.1M134.6 220.4h1M132.7 225.5h2.2M148.9 24.4h2M159.7 59.2h1.2M159 195h2.2M150.6 58h2.1M158.8 141h1.6M135.6 42.4h0.9M136.6 214.7h2M146.5 119.7h2.3M168.2 52.1h1.1M146.6 197.2h2.3M162.5 185.3h2M140.5 81h1.7M136.2 240.8h1.9M136.9 247.4h1.4M133.5 88.7h1.9M157.8 67.1h1.1M134.8 98.5h1.5M128.3 102.8h1.9M136 173.5h1.7M129.8 134.9h0.8M161.7 227.7h2.4M135.5 86.1h1.3M152.8 196.8h1.1M147.7 199.5h2.1M167.3 155.6h1.3M152.7 44.5h0.8M135.3 56.5h1.3M134.3 102.5h1.6M141.4 105.7h1M164 209h2M147 194.6h1M133.8 112.5h0.9M128.3 155.7h1.5M157.9 117.6h2.2M129.9 190.1h2M142.7 175.1h1M126.7 170.9h2.2M140.2 81.8h1M137.3 56.7h1.3M150.9 96.4h1.2M152.1 30.9h1.2M169.3 87h1.7M171.1 232.1h2M150.6 76.8h1M131.3 33.6h2.1M158.1 70.1h2.1M130.4 60.9h2.2M171.5 119.6h1.9M131.4 153.5h1M156.4 71.7h1.2M161.5 140.3h2.2M163.5 38.1h1.4M130.9 71h2.1M134.4 91.6h0.9M160.7 158.6h1.1M140.8 237.5h2.1M128 204.3h1.1M149.6 59.9h2.2M161.2 68.4h2.4M157.4 185.7h0.9M126.6 225.7h0.9M150.2 97.8h0.9M153.7 35.7h2.3M128.8 106h1.5M155.9 246.7h1.8M162.7 135.5h2.1M148.9 81.3h2M140.2 33.4h1.6M162.1 179.1h1.1M143.9 169.7h2.4M149.6 194.9h1.8M156 168h0.9M161.8 207.5h2.1M164.7 76.9h1.8M151.8 225h1.8M168.6 227.7h0.9M156.4 112.8h1.9M161.4 100.7h1.4M169.3 74.1h1.9M162.2 175.2h2.3M145.7 91.9h1.3M153.7 242h2.3M147.9 116.5h1.3M133.1 147.8h0.9M144.3 129.3h0.9M141.6 251.6h1.1M166.6 115.7h1.7M137.4 71.4h1.9M143.4 229.4h1.5M141.5 56.2h1.1M142.4 210.6h2.3M169.8 92.8h1.3M166 204.8h1.8M165.1 246h1.5M126.9 219.4h1M137.6 152.4h1.9M159.7 178.2h2.5M159.6 196.1h1.9M132.6 196.1h1.2M145.3 140.6h1.4M138.5 89.8h1.3M158.5 180.5h2.4M163 35h1.9M148.7 181.8h0.8M166 227.4h1M143.5 93.4h1.7M133.4 162.1h1.6M169.3 133.2h0.8M168.7 84.2h1.1M167.9 139.1h2.5M134.3 158.1h2.5M154.8 77.3h2.1M127.7 148.4h1.5M130.3 241.8h1.9M148.7 247.5h1.4M167.2 96.4h2.2M148.9 32.3h1.7M166.8 67.7h2.2M129.3 92.6h1.7M157.2 231.9h1.8M170.3 201.6h1.4M157.8 84.4h2.3M147.9 165.3h2.4M144.7 179.4h1.4M140.9 205.4h1.6M131.6 236.2h1.9M149.1 115.9h1.1M166.7 31.3h1.3M150.7 174.7h2.2M145.1 38.9h1.5M158.9 113h2.2M164.9 49.2h1.6M127 144.7h2M140.3 161h1.4M170.7 226.9h2.3M130.8 161.1h2.2M164.1 186.4h2.4M134 62.1h2M160 48.5h1.5M164.5 204.6h2.2M144.5 137.2h1.4M165.5 186.5h1M159.7 117.2h2.4M139.5 70.6h2M168.2 36.6h0.8" stroke="#e2ecf6" stroke-width="0.9"/>
<path d="M146.6 20.1 L151.6 20.1 L150.4 254.4 L147.8 254.4Z" fill="url(#hg1)"/>
<path d="M147.5 20.1 L150.7 20.1 L149.9 254.4 L148.2 254.4Z" fill="url(#sg1)"/>
<rect x="151.2" y="20.6" width="1.3" height="1" fill="#b9d5ec"/>
<rect x="149.5" y="21.9" width="1.6" height="1" fill="#1a4f96"/>
<rect x="149" y="23.2" width="1.6" height="1" fill="#1a4f96"/>
<rect x="149.1" y="28.4" width="1.5" height="1" fill="#1a4f96"/>
<rect x="147.2" y="29.7" width="1.4" height="1" fill="#1a4f96"/>
<rect x="147.7" y="31" width="1" height="1" fill="#1a4f96"/>
<rect x="146" y="31" width="1.4" height="1" fill="#b9d5ec"/>
<rect x="149.5" y="32.3" width="1.1" height="1" fill="#1a4f96"/>
<rect x="145.9" y="32.3" width="1.2" height="1" fill="#b9d5ec"/>
<rect x="150.7" y="34.9" width="1" height="1" fill="#b9d5ec"/>
<rect x="148.7" y="37.5" width="1" height="1" fill="#1a4f96"/>
<rect x="149.5" y="38.8" width="1.6" height="1" fill="#1a4f96"/>
<rect x="149.3" y="40.1" width="0.8" height="1" fill="#1a4f96"/>
<rect x="147.2" y="41.4" width="1.4" height="1" fill="#1a4f96"/>
<rect x="148.8" y="44" width="1" height="1" fill="#1a4f96"/>
<rect x="151.4" y="47.9" width="1.1" height="1" fill="#b9d5ec"/>
<rect x="146.4" y="50.5" width="0.9" height="1" fill="#b9d5ec"/>
<rect x="145.9" y="51.8" width="1" height="1" fill="#b9d5ec"/>
<rect x="150.9" y="53.1" width="1.4" height="1" fill="#b9d5ec"/>
<rect x="146.5" y="55.7" width="1" height="1" fill="#b9d5ec"/>
<rect x="149.6" y="57" width="1.5" height="1" fill="#1a4f96"/>
<rect x="148.1" y="58.3" width="1" height="1" fill="#1a4f96"/>
<rect x="147.6" y="60.9" width="1.2" height="1" fill="#1a4f96"/>
<rect x="147.4" y="63.5" width="1" height="1" fill="#1a4f96"/>
<rect x="149.9" y="64.8" width="1.7" height="1" fill="#1a4f96"/>
<rect x="149.4" y="66.1" width="0.9" height="1" fill="#1a4f96"/>
<rect x="151.3" y="66.1" width="1" height="1" fill="#b9d5ec"/>
<rect x="147.1" y="67.4" width="1.7" height="1" fill="#1a4f96"/>
<rect x="149.2" y="70" width="1.2" height="1" fill="#1a4f96"/>
<rect x="146.4" y="71.3" width="1.4" height="1" fill="#b9d5ec"/>
<rect x="147.1" y="72.6" width="1.6" height="1" fill="#1a4f96"/>
<rect x="149.3" y="73.9" width="1" height="1" fill="#1a4f96"/>
<rect x="148.7" y="76.5" width="1.3" height="1" fill="#1a4f96"/>
<rect x="145.2" y="77.8" width="1.1" height="1" fill="#b9d5ec"/>
<rect x="148.8" y="79.1" width="0.9" height="1" fill="#1a4f96"/>
<rect x="151.4" y="79.1" width="1.5" height="1" fill="#b9d5ec"/>
<rect x="148.9" y="84.3" width="1.7" height="1" fill="#1a4f96"/>
<rect x="148.5" y="88.2" width="1.2" height="1" fill="#1a4f96"/>
<rect x="148.7" y="90.8" width="1.5" height="1" fill="#1a4f96"/>
<rect x="146.2" y="90.8" width="1.5" height="1" fill="#b9d5ec"/>
<rect x="147.1" y="92.1" width="1.3" height="1" fill="#1a4f96"/>
<rect x="150.9" y="94.7" width="0.9" height="1" fill="#b9d5ec"/>
<rect x="149.2" y="96" width="0.9" height="1" fill="#1a4f96"/>
<rect x="145.6" y="97.3" width="1.1" height="1" fill="#b9d5ec"/>
<rect x="149.8" y="98.6" width="1.2" height="1" fill="#1a4f96"/>
<rect x="147.1" y="99.9" width="1.4" height="1" fill="#1a4f96"/>
<rect x="145.5" y="99.9" width="1.3" height="1" fill="#b9d5ec"/>
<rect x="147.6" y="103.8" width="1.3" height="1" fill="#1a4f96"/>
<rect x="149.1" y="105.1" width="1.5" height="1" fill="#1a4f96"/>
<rect x="148.6" y="107.7" width="1.5" height="1" fill="#1a4f96"/>
<rect x="145.3" y="107.7" width="1.5" height="1" fill="#b9d5ec"/>
<rect x="148.1" y="109" width="1.1" height="1" fill="#1a4f96"/>
<rect x="148.8" y="110.3" width="1.8" height="1" fill="#1a4f96"/>
<rect x="147.3" y="111.6" width="0.9" height="1" fill="#1a4f96"/>
<rect x="148.2" y="114.2" width="1.4" height="1" fill="#1a4f96"/>
<rect x="149" y="119.4" width="1.6" height="1" fill="#1a4f96"/>
<rect x="151.2" y="120.7" width="1.4" height="1" fill="#b9d5ec"/>
<rect x="147.9" y="122" width="1.1" height="1" fill="#1a4f96"/>
<rect x="148.3" y="123.3" width="1.8" height="1" fill="#1a4f96"/>
<rect x="148.2" y="128.5" width="0.8" height="1" fill="#1a4f96"/>
<rect x="151.9" y="128.5" width="1.1" height="1" fill="#b9d5ec"/>
<rect x="147.4" y="132.4" width="1.6" height="1" fill="#1a4f96"/>
<rect x="149.9" y="135" width="1" height="1" fill="#1a4f96"/>
<rect x="146.2" y="140.2" width="1.4" height="1" fill="#b9d5ec"/>
<rect x="147.4" y="142.8" width="1.7" height="1" fill="#2a6fb3"/>
<rect x="151.7" y="144.1" width="1" height="1" fill="#b9d5ec"/>
<rect x="147.1" y="145.4" width="1.5" height="1" fill="#2a6fb3"/>
<rect x="151.5" y="145.4" width="1.3" height="1" fill="#b9d5ec"/>
<rect x="145.7" y="146.7" width="1.4" height="1" fill="#b9d5ec"/>
<rect x="147.2" y="148" width="0.9" height="1" fill="#2a6fb3"/>
<rect x="150.7" y="148" width="1.2" height="1" fill="#b9d5ec"/>
<rect x="149.6" y="150.6" width="1.7" height="1" fill="#2a6fb3"/>
<rect x="149.1" y="153.2" width="1" height="1" fill="#2a6fb3"/>
<rect x="148" y="155.8" width="1" height="1" fill="#2a6fb3"/>
<rect x="145.3" y="157.1" width="1.3" height="1" fill="#b9d5ec"/>
<rect x="147.1" y="158.4" width="1" height="1" fill="#2a6fb3"/>
<rect x="149" y="159.7" width="1.4" height="1" fill="#2a6fb3"/>
<rect x="147.5" y="161" width="0.9" height="1" fill="#2a6fb3"/>
<rect x="148.9" y="162.3" width="1.4" height="1" fill="#2a6fb3"/>
<rect x="146.1" y="162.3" width="1" height="1" fill="#b9d5ec"/>
<rect x="148.6" y="164.9" width="1" height="1" fill="#2a6fb3"/>
<rect x="149" y="167.5" width="1.7" height="1" fill="#2a6fb3"/>
<rect x="149.3" y="168.8" width="1.7" height="1" fill="#2a6fb3"/>
<rect x="145.2" y="168.8" width="1.4" height="1" fill="#b9d5ec"/>
<rect x="150.9" y="170.1" width="0.8" height="1" fill="#b9d5ec"/>
<rect x="148.1" y="171.4" width="1.2" height="1" fill="#2a6fb3"/>
<rect x="148.5" y="172.7" width="0.9" height="1" fill="#2a6fb3"/>
<rect x="148.2" y="174" width="1.3" height="1" fill="#2a6fb3"/>
<rect x="147.6" y="176.6" width="1.1" height="1" fill="#2a6fb3"/>
<rect x="148" y="177.9" width="0.9" height="1" fill="#2a6fb3"/>
<rect x="147.7" y="179.2" width="1.4" height="1" fill="#2a6fb3"/>
<rect x="148.3" y="181.8" width="0.9" height="1" fill="#2a6fb3"/>
<rect x="148" y="183.1" width="0.9" height="1" fill="#2a6fb3"/>
<rect x="149.8" y="184.4" width="1.6" height="1" fill="#2a6fb3"/>
<rect x="151.5" y="184.4" width="0.9" height="1" fill="#b9d5ec"/>
<rect x="149.3" y="185.7" width="0.9" height="1" fill="#2a6fb3"/>
<rect x="147.8" y="187" width="1.3" height="1" fill="#2a6fb3"/>
<rect x="148.9" y="190.9" width="1.6" height="1" fill="#2a6fb3"/>
<rect x="148.1" y="192.2" width="1.2" height="1" fill="#2a6fb3"/>
<rect x="147.2" y="193.5" width="1.7" height="1" fill="#2a6fb3"/>
<rect x="148.4" y="196.1" width="1.5" height="1" fill="#2a6fb3"/>
<rect x="148" y="200" width="1" height="1" fill="#2a6fb3"/>
<rect x="145.5" y="200" width="0.8" height="1" fill="#b9d5ec"/>
<rect x="151.1" y="201.3" width="1.5" height="1" fill="#b9d5ec"/>
<rect x="149.7" y="203.9" width="1" height="1" fill="#2a6fb3"/>
<rect x="149.3" y="205.2" width="1.1" height="1" fill="#2a6fb3"/>
<rect x="146" y="206.5" width="1.3" height="1" fill="#b9d5ec"/>
<rect x="148.1" y="207.8" width="1" height="1" fill="#2a6fb3"/>
<rect x="148.8" y="209.1" width="1.1" height="1" fill="#2a6fb3"/>
<rect x="147.7" y="211.7" width="0.9" height="1" fill="#2a6fb3"/>
<rect x="147.4" y="213" width="1.3" height="1" fill="#2a6fb3"/>
<rect x="145.9" y="214.3" width="0.9" height="1" fill="#b9d5ec"/>
<rect x="148.7" y="216.9" width="1" height="1" fill="#2a6fb3"/>
<rect x="152" y="216.9" width="1.4" height="1" fill="#b9d5ec"/>
<rect x="148.3" y="218.2" width="1.6" height="1" fill="#2a6fb3"/>
<rect x="145.2" y="219.5" width="1.1" height="1" fill="#b9d5ec"/>
<rect x="149.5" y="220.8" width="1.6" height="1" fill="#2a6fb3"/>
<rect x="147.4" y="222.1" width="1" height="1" fill="#2a6fb3"/>
<rect x="147.3" y="226" width="1.7" height="1" fill="#2a6fb3"/>
<rect x="149.1" y="227.3" width="1.1" height="1" fill="#2a6fb3"/>
<rect x="152" y="227.3" width="1" height="1" fill="#b9d5ec"/>
<rect x="149" y="229.9" width="1" height="1" fill="#2a6fb3"/>
<rect x="149.3" y="232.5" width="1.8" height="1" fill="#2a6fb3"/>
<rect x="148" y="233.8" width="1.8" height="1" fill="#2a6fb3"/>
<rect x="149.9" y="235.1" width="1.3" height="1" fill="#2a6fb3"/>
<rect x="149.2" y="236.4" width="1.2" height="1" fill="#2a6fb3"/>
<rect x="148.5" y="237.7" width="1.2" height="1" fill="#2a6fb3"/>
<rect x="148.5" y="240.3" width="1.7" height="1" fill="#2a6fb3"/>
<rect x="148" y="242.9" width="1.3" height="1" fill="#2a6fb3"/>
<rect x="147.4" y="248.1" width="1.4" height="1" fill="#2a6fb3"/>
<rect x="145.5" y="249.4" width="1.6" height="1" fill="#b9d5ec"/>
<rect x="149.3" y="250.7" width="1.1" height="1" fill="#2a6fb3"/>
<rect x="125.5" y="20.1" width="47.1" height="234.3" fill="none" stroke="#3a3a3a" stroke-width="1"/>
<text x="149.1" y="16.6" font-size="8.6" text-anchor="middle">hnRNPL-2</text>
<line x1="125.5" y1="254.4" x2="125.5" y2="256.6" stroke="#3a3a3a" stroke-width="0.8"/>
<text x="125.2" y="264.9" font-size="7.6" fill="#1f1f1f">-8.0</text>
<line x1="149.1" y1="254.4" x2="149.1" y2="256.6" stroke="#3a3a3a" stroke-width="0.8"/>
<text x="149.1" y="264.9" font-size="7.6" text-anchor="middle" fill="#1f1f1f">0</text>
<line x1="172.6" y1="254.4" x2="172.6" y2="256.6" stroke="#3a3a3a" stroke-width="0.8"/>
<text x="173.2" y="264.9" font-size="7.6" text-anchor="end" fill="#1f1f1f">8.0</text>
<text x="95.5" y="272.3" font-size="8.6" text-anchor="middle">Gene distance (kb)</text>
<rect x="176.3" y="21" width="4.5" height="233.6" fill="url(#cb)" stroke="#cfd6df" stroke-width="0.4"/>
<line x1="180.8" y1="251.5" x2="182.3" y2="251.5" stroke="#555" stroke-width="0.6"/>
<text x="182.6" y="254" font-size="7.2" fill="#1f1f1f">0</text>
<line x1="180.8" y1="199.3" x2="182.3" y2="199.3" stroke="#555" stroke-width="0.6"/>
<text x="182.6" y="201.8" font-size="7.2" fill="#1f1f1f">50</text>
<line x1="180.8" y1="147.1" x2="182.3" y2="147.1" stroke="#555" stroke-width="0.6"/>
<text x="182.6" y="149.6" font-size="7.2" fill="#1f1f1f">100</text>
<line x1="180.8" y1="95" x2="182.3" y2="95" stroke="#555" stroke-width="0.6"/>
<text x="182.6" y="97.5" font-size="7.2" fill="#1f1f1f">150</text>
<line x1="180.8" y1="42.8" x2="182.3" y2="42.8" stroke="#555" stroke-width="0.6"/>
<text x="182.6" y="45.3" font-size="7.2" fill="#1f1f1f">200</text>
<text x="210" y="10" font-size="11" font-weight="bold" fill="#000">b</text>
<rect x="233.3" y="15.3" width="22.9" height="114.1" fill="#ebebeb"/>
<line x1="244.8" y1="15.3" x2="244.8" y2="129.4" stroke="#ffffff" stroke-width="0.8"/>
<line x1="233.3" y1="125.6" x2="256.2" y2="125.6" stroke="#ffffff" stroke-width="0.6"/>
<line x1="233.3" y1="99.3" x2="256.2" y2="99.3" stroke="#ffffff" stroke-width="0.6"/>
<line x1="233.3" y1="73" x2="256.2" y2="73" stroke="#ffffff" stroke-width="0.6"/>
<line x1="233.3" y1="46.7" x2="256.2" y2="46.7" stroke="#ffffff" stroke-width="0.6"/>
<line x1="233.3" y1="20.4" x2="256.2" y2="20.4" stroke="#ffffff" stroke-width="0.6"/>
<rect x="234.7" y="20.4" width="19.6" height="0.1" fill="#f3f7fc" stroke="#ffffff" stroke-width="0.5"/>
<rect x="234.7" y="20.5" width="19.6" height="0.2" fill="#d6e6f4" stroke="#ffffff" stroke-width="0.5"/>
<rect x="234.7" y="20.7" width="19.6" height="0.7" fill="#bcd7ed" stroke="#ffffff" stroke-width="0.5"/>
<rect x="234.7" y="21.4" width="19.6" height="0.9" fill="#8fc2e0" stroke="#ffffff" stroke-width="0.5"/>
<rect x="234.7" y="22.3" width="19.6" height="2.6" fill="#5fa6d4" stroke="#ffffff" stroke-width="0.5"/>
<rect x="234.7" y="24.9" width="19.6" height="2.7" fill="#3b86c3" stroke="#ffffff" stroke-width="0.5"/>
<rect x="234.7" y="27.6" width="19.6" height="3.8" fill="#2c63ad" stroke="#ffffff" stroke-width="0.5"/>
<rect x="234.7" y="31.4" width="19.6" height="94.2" fill="#1f3a86" stroke="#ffffff" stroke-width="0.5"/>
<line x1="231.8" y1="125.6" x2="233.3" y2="125.6" stroke="#444" stroke-width="0.5"/>
<text x="231.4" y="127.2" font-size="4.6" text-anchor="end" fill="#1f1f1f">0</text>
<line x1="231.8" y1="99.3" x2="233.3" y2="99.3" stroke="#444" stroke-width="0.5"/>
<text x="231.4" y="100.9" font-size="4.6" text-anchor="end" fill="#1f1f1f">25</text>
<line x1="231.8" y1="73" x2="233.3" y2="73" stroke="#444" stroke-width="0.5"/>
<text x="231.4" y="74.6" font-size="4.6" text-anchor="end" fill="#1f1f1f">50</text>
<line x1="231.8" y1="46.7" x2="233.3" y2="46.7" stroke="#444" stroke-width="0.5"/>
<text x="231.4" y="48.3" font-size="4.6" text-anchor="end" fill="#1f1f1f">75</text>
<line x1="231.8" y1="20.4" x2="233.3" y2="20.4" stroke="#444" stroke-width="0.5"/>
<text x="231.4" y="22" font-size="4.6" text-anchor="end" fill="#1f1f1f">100</text>
<line x1="244.8" y1="129.4" x2="244.8" y2="130.9" stroke="#444" stroke-width="0.5"/>
<text x="221.3" y="71.5" font-size="8.6" text-anchor="middle" transform="rotate(-90 221.3 71.5)">Frequency</text>
<text x="270.3" y="28.2" font-size="5.8" text-anchor="middle" fill="#1f1f1f" transform="rotate(-90 270.3 28.2)">peak</text>
<text x="279.4" y="32.4" font-size="6.3" fill="#1f1f1f">percent (%)</text>
<rect x="262.7" y="39.9" width="11.1" height="9" fill="#f3f7fc"/>
<text x="277.5" y="46.7" font-size="6.3" fill="#1f1f1f">5'UTR (0.064)</text>
<rect x="262.7" y="50.7" width="11.1" height="9" fill="#d6e6f4"/>
<text x="277.5" y="57.5" font-size="6.3" fill="#1f1f1f">Downstream (0.223)</text>
<rect x="262.7" y="61.5" width="11.1" height="9" fill="#bcd7ed"/>
<text x="277.5" y="68.3" font-size="6.3" fill="#1f1f1f">3'UTR (0.684)</text>
<rect x="262.7" y="72.3" width="11.1" height="9" fill="#8fc2e0"/>
<text x="277.5" y="79.1" font-size="6.3" fill="#1f1f1f">Exon (0.843)</text>
<rect x="262.7" y="83.1" width="11.1" height="9" fill="#5fa6d4"/>
<text x="277.5" y="89.9" font-size="6.3" fill="#1f1f1f">Intron (2.497)</text>
<rect x="262.7" y="93.9" width="11.1" height="9" fill="#3b86c3"/>
<text x="277.5" y="100.7" font-size="6.3" fill="#1f1f1f">Promoter (1-3kb) (2.529)</text>
<rect x="262.7" y="104.7" width="11.1" height="9" fill="#2c63ad"/>
<text x="277.5" y="111.5" font-size="6.3" fill="#1f1f1f">Distal Intergenic (3.658)</text>
<rect x="262.7" y="115.5" width="11.1" height="9" fill="#1f3a86"/>
<text x="277.5" y="122.3" font-size="6.3" fill="#1f1f1f">Promoter (≤1kb) (89.502)</text>
<text x="210" y="142.5" font-size="11" font-weight="bold" fill="#000">c</text>
<rect x="231.3" y="150.5" width="113.2" height="103.7" fill="#ffffff"/>
<line x1="237" y1="150.5" x2="237" y2="254.2" stroke="#ebebeb" stroke-width="0.5"/>
<line x1="249.8" y1="150.5" x2="249.8" y2="254.2" stroke="#f4f4f4" stroke-width="0.5"/>
<line x1="262.6" y1="150.5" x2="262.6" y2="254.2" stroke="#ebebeb" stroke-width="0.5"/>
<line x1="275.4" y1="150.5" x2="275.4" y2="254.2" stroke="#f4f4f4" stroke-width="0.5"/>
<line x1="288.2" y1="150.5" x2="288.2" y2="254.2" stroke="#ebebeb" stroke-width="0.5"/>
<line x1="301" y1="150.5" x2="301" y2="254.2" stroke="#f4f4f4" stroke-width="0.5"/>
<line x1="313.8" y1="150.5" x2="313.8" y2="254.2" stroke="#ebebeb" stroke-width="0.5"/>
<line x1="326.6" y1="150.5" x2="326.6" y2="254.2" stroke="#f4f4f4" stroke-width="0.5"/>
<line x1="339.4" y1="150.5" x2="339.4" y2="254.2" stroke="#ebebeb" stroke-width="0.5"/>
<line x1="231.3" y1="249.2" x2="344.5" y2="249.2" stroke="#ebebeb" stroke-width="0.5"/>
<line x1="231.3" y1="233.5" x2="344.5" y2="233.5" stroke="#f4f4f4" stroke-width="0.5"/>
<line x1="231.3" y1="217.8" x2="344.5" y2="217.8" stroke="#ebebeb" stroke-width="0.5"/>
<line x1="231.3" y1="202.2" x2="344.5" y2="202.2" stroke="#f4f4f4" stroke-width="0.5"/>
<line x1="231.3" y1="186.5" x2="344.5" y2="186.5" stroke="#ebebeb" stroke-width="0.5"/>
<line x1="231.3" y1="170.8" x2="344.5" y2="170.8" stroke="#f4f4f4" stroke-width="0.5"/>
<line x1="231.3" y1="155.1" x2="344.5" y2="155.1" stroke="#ebebeb" stroke-width="0.5"/>
<path d="M289.7 247.9h0M292.9 245.6h0M296.7 242.8h0M282 245.1h0M294.9 228h0M288.1 248.2h0M289.2 247.5h0M295.6 245.7h0M287.1 245.8h0M284.2 246.1h0M295.3 241.4h0M288.5 248.9h0M277.1 242.1h0M281.9 247.3h0M283.1 247.4h0M283.1 247.5h0M286.1 248.1h0M286.9 248h0M297.2 244.3h0M297.1 245.4h0M279.2 245h0M294.1 242.4h0M286.8 245.1h0M287 247.7h0M304.6 241.6h0M280.6 243.7h0M280.8 235.3h0M295.5 246.3h0M283.7 247.4h0M294.8 245.4h0M295.1 243.5h0M278.3 243.6h0M281.3 220.7h0M295.6 230.7h0M284.3 245.8h0M291.1 246.1h0M271 243.5h0M290.4 247.9h0M283.7 246.2h0M293.5 247.7h0M297.3 245.7h0M285.4 241.5h0M280.4 245.6h0M291.4 242.1h0M297.8 245.9h0M290.2 243.9h0M290.9 239.5h0M288.9 248.8h0M288.6 247.8h0M292.5 247.2h0M295.9 245.5h0M292.2 234.9h0M294.2 247.2h0M294.1 246h0M289.2 245.8h0M286.3 245.6h0M286.3 246.4h0M285.4 245.2h0M284.4 248h0M293.3 226.2h0M294.3 244.6h0M287.9 248.2h0M282.4 241.6h0M288.1 249h0M296.8 245.6h0M289.1 247h0M297.8 245.8h0M293.5 247.7h0M301.3 244.7h0M293.6 241.9h0M285.4 248.1h0M286.1 246.6h0M294 246.5h0M282.8 246.2h0M293.3 236.1h0M290.1 244.5h0M299.1 245.5h0M294.3 235.9h0M289 248.6h0M286.8 246h0M288.7 247.8h0M298.3 241.4h0M285.1 247.5h0M283.9 243.5h0M290.5 238.6h0M288.2 248.9h0M296.4 245.6h0M281.3 243.2h0M283.8 246.9h0M289.3 246.9h0M283.4 236.6h0M285 247.3h0M289.1 248.7h0M286.9 247.1h0M283.5 247.8h0M286.1 248h0M295 241h0M295 223.3h0M291.5 238h0M282.5 247.5h0M283.7 230.2h0M291.5 235h0M294.5 245.7h0M289.7 248.6h0M292.6 234.3h0M276.9 243.8h0M274.3 244.5h0M285.9 247.9h0M293.6 227.9h0M277 245.3h0M279.7 245.4h0M293.5 245.5h0M282.8 246h0M274.7 245.2h0M278.5 245.9h0M291.7 248.1h0M295.1 238.3h0M290.9 248.2h0M288.8 248.2h0M286.6 243.1h0M295.4 244.8h0M290.7 244.4h0M286.9 247.9h0M287.8 248.6h0M286.7 247.9h0M284.8 247.7h0M291.6 238.4h0M292.7 240.4h0M296.4 246.1h0M288.6 248.9h0M295.9 245.6h0M292.8 243.7h0M287.5 248h0M286.6 247.3h0M284.2 241.1h0M283.9 245.5h0M276 243.1h0M299.5 245.5h0M288.7 248.5h0M285.2 247.7h0M290.4 248.2h0M280.9 245.3h0M292.9 246.5h0M287.3 246.4h0M300.5 241.1h0M296.6 246.1h0M283 247.4h0M289.3 245.4h0M294.1 244.5h0M285.4 247.4h0M292.5 234.1h0M291 247.5h0M288.6 248.8h0M287.8 248.8h0M295.1 246.7h0M293.3 239.3h0M298.3 245.3h0M290 247.1h0M286.7 246.8h0M294.5 229.6h0M287.8 249h0M294.3 246.9h0M290.4 246.4h0M292.9 239.5h0M293.5 246.9h0M289.7 246.1h0M293.4 247.4h0M281.9 246.7h0M292.2 247.3h0M295.6 246.9h0M289.3 246.8h0M300.2 245h0M289 248.8h0M288.1 248.4h0M292.4 235.1h0M285.7 247.9h0M283.4 247.1h0M292.7 246.5h0M292.7 247h0M281.8 229.3h0M286.6 245h0M294.8 241.8h0M292.4 246.5h0M287 247.9h0M287.6 248.5h0M288.3 248.8h0M283.2 247.6h0M278 244h0M289.9 247.5h0M281.6 224h0M285.4 247.9h0M286.4 248.2h0M291.4 241.7h0M293.8 246.7h0M295.1 246.8h0M287 244h0M286.9 248.5h0M289 248.3h0M292.8 247.7h0M275.9 243.7h0M282.6 234h0M278.3 245.6h0M285.7 243.2h0M285.5 247.7h0M285.4 245.9h0M286.2 247.3h0M291.9 244.7h0M287.8 248.9h0M290.4 246.4h0M285.4 248.1h0M289 246.9h0M289.1 248.3h0M290.6 240.9h0M275.8 245.7h0M290.2 246.5h0M284.6 244.6h0M282.8 247.2h0M280.3 246.2h0M289.3 247.3h0M291.6 244h0M289.2 248.2h0M277.1 242h0M281.2 245.1h0M298.8 243.4h0M288.3 249.1h0M279.8 244.6h0M290.2 247.5h0M288.2 248.4h0M291.6 242.2h0M282.9 227.5h0M281.4 219.4h0M288.2 249.1h0M296.8 241.6h0M289.3 247.5h0M295.6 236h0M284.5 247.2h0M289.8 247.9h0M291.4 247.7h0M291.7 247.8h0M291.6 247.7h0M283.9 248h0M278.3 244.9h0M280.9 247h0M282.9 233.1h0M286.1 248.2h0M291.5 236.1h0M284.7 237.1h0M295.2 246.7h0M284.7 247.1h0M285.8 247.1h0M281.3 238.2h0M289.4 247.3h0M291.2 248h0M288.2 248.6h0M282.5 247.1h0M281.9 237.1h0M286.3 248.5h0M281.3 226.2h0M277 245.6h0M271.1 243.6h0M276.4 243h0M288.7 246.9h0M285.5 247.9h0M287.3 248.6h0M287.6 247.6h0M281.3 220.9h0M277.8 244.3h0M285.2 237.7h0M289.8 247.6h0M292.1 247.8h0M292.6 235.7h0M291.8 243h0M292.8 241.4h0M282.7 246.9h0M300.6 245.7h0M284.2 238.4h0M287.3 248.2h0M299.6 244.2h0M290.9 247.7h0M296.6 241.8h0M282.1 247.4h0M294.5 234.4h0M282 244h0M288.3 248.2h0M290.5 246.8h0M292.7 241.1h0M286.9 245.4h0M277.9 246.1h0M283.2 246.1h0M302.9 244.1h0M297.2 243h0M281.8 247h0M286.7 247.9h0M281.1 246.5h0M294.5 239.1h0M288.2 248.4h0M283.9 247.7h0M287.1 245.1h0M294.3 246.4h0M291 246.9h0M289.8 248h0M289.3 248.8h0M296.9 246.3h0M293.7 239.4h0M298.3 241.4h0M291.5 239.4h0M287.2 247.2h0M277.9 245.8h0M282.6 238.7h0M283 246.7h0M286 246.7h0M286.9 247h0M279.8 243.5h0M292.1 247.3h0M282.1 227.3h0M287.5 245.7h0M293.2 246.9h0M285.3 245.4h0M285 248.1h0M280.1 246.4h0M302.1 245h0M288.5 248.8h0M281.1 237.1h0M288.4 247.5h0M298.6 243.2h0M294 233.5h0M294 247.3h0M287.6 248.5h0M289.6 243.7h0M291.5 239.8h0M294.5 228.1h0M286.6 242.2h0M290.6 242.9h0M292.4 244.6h0M282.1 242.1h0M293.8 245.3h0M284.2 241.8h0M283.3 247.7h0M290.7 245.6h0M293.6 246.1h0M281.6 220.6h0M285.7 248.3h0M276 245.2h0M282.7 238.8h0M285.5 243.2h0M288.3 248h0M303.2 243.7h0M294.3 243.5h0M289.6 248.1h0M295.7 245.7h0M285.6 241h0M285.1 239.8h0M285.9 244.7h0M282.5 235.8h0M295.2 228.2h0M282.2 244.9h0M283.4 246.1h0M291.7 247.9h0M299.4 245.3h0M288.3 248.9h0M292.9 239.5h0M276.9 242.5h0M283.7 238.9h0M294.2 246.4h0M285.1 245.9h0M285.2 241.4h0M275.5 244.1h0M296.7 246.4h0M287.6 248.7h0M276 245.9h0M301.8 244.8h0M280.7 246.1h0M292.4 233.7h0M286.7 242.5h0M296.5 245.1h0M283.1 246.8h0M286.2 244.7h0M279.3 246.2h0M285.8 247.9h0M294.5 233h0M280 245.2h0M290.7 247.6h0M285.4 246.7h0M293.3 244.8h0M281.2 217h0M296.2 246.1h0M281.5 224.7h0M296.3 246.6h0M278.6 246.2h0M286.9 245.5h0M281 226.5h0M287.4 248h0M291 247.6h0M297.5 246.2h0M283.8 233.4h0M295.6 218.7h0M289.8 241.9h0M293 235.8h0M280.2 245.2h0M295.4 229h0M294 242.2h0M280.9 243h0M284.1 244.6h0M287.7 248.8h0M292.6 233.7h0M292.4 246.1h0M277.2 243.2h0M285.8 247.8h0M281.9 245.3h0M293.5 241.9h0M291.1 247.4h0M290.9 246.6h0M280.8 241.3h0M290.1 244.5h0M287.2 245.1h0M289.4 246.1h0M292.8 239.8h0M285.6 248.1h0M305.3 243.9h0M287.4 246.1h0M294.4 245.2h0M290.7 242.4h0M294.1 239.4h0M285 245.6h0M287.4 248.1h0M285.8 246.9h0M293 247.1h0M290.3 240.2h0M291.4 247.4h0M285 240.5h0M285.4 248.1h0M287.3 247.5h0M294.4 237.1h0M294.7 245.9h0M285.2 238.1h0M294 234.1h0M290.7 237.8h0M278.2 243.3h0M295.7 236.5h0M296.4 246.1h0M284.8 245h0M289.9 242.8h0M276.8 241.1h0M282.9 247.1h0M286.2 247.2h0M286.9 248.5h0M286.9 245.1h0M278.6 246.2h0M292.2 247.9h0M292.3 245.7h0M283 243.9h0M291.5 234.6h0M289.2 247.1h0M284.8 247.6h0M287.3 247h0M282.5 245.2h0M289.4 246h0M288.8 248.9h0M282.3 246.3h0M289.7 248.3h0M285.9 248.2h0M281.9 246.8h0M288.1 248.9h0M300.4 241.2h0M289.6 247.1h0M282.5 231.9h0M285.5 245.7h0M288.7 248.9h0M287.3 247.8h0M290.6 247.9h0M278 245.3h0M291.9 244.6h0M291.7 247.8h0M292.9 242.4h0M292.9 243.8h0M294.1 240.7h0M295.3 245.4h0M295.3 237.2h0M291.8 247.6h0M300.1 243.2h0M297 246.3h0M291.2 247.4h0M298.4 243.2h0M274.4 241.9h0M295.9 243h0M292.6 245.3h0M277.8 245h0M289.4 248.5h0M282.6 224.1h0M283.1 239.5h0M284.8 242.5h0M284.8 234.3h0M283.5 243.6h0M292.2 245h0M289.1 248.5h0M288.4 248.2h0M280.8 240.9h0M284 241h0M283.1 229h0M290.2 245.6h0M284.1 244.2h0M287.3 248.3h0M281.5 246.8h0M292.3 239.6h0M287.6 245.6h0M280.3 246.4h0M281.4 245.8h0M291.9 247.3h0M283.6 246.1h0M284.6 246.2h0M290.9 237.8h0M285.8 248.3h0M289.6 248.1h0M291.7 247.8h0M287.5 247.4h0M283.9 234.2h0M284.7 245.3h0M285.3 240.9h0M282.8 227h0M284.3 246.5h0M304.8 244.7h0M293.6 245.3h0M285.1 246.3h0M288 248.1h0M285.4 245.3h0M285.4 247.2h0M285.1 244.9h0M292.7 231.5h0M300.1 245.4h0M286.5 247.5h0M286 243.3h0M284.5 247.5h0M288.3 248.9h0M283 246.7h0M294.4 245.9h0M288.6 248.2h0M296 243.8h0M284.6 247.6h0M287.4 248.6h0M275.4 244h0M285.7 248.4h0M278.9 246.3h0M280.9 241h0M289.8 243.1h0M283.9 233.8h0M304.5 242.5h0M286.1 244.8h0M292.6 245.8h0M295.2 236.5h0M299.2 243.8h0M289.2 248.7h0M289.7 243.2h0M288.1 248.3h0M293.9 244.9h0M287.9 248.5h0M275.4 242.8h0M283.1 247h0M280 246.5h0M291 239.6h0M290.7 247.4h0M286.1 240.3h0M293.7 246.8h0M293.3 246.9h0M292 231.5h0M288.3 249.1h0M288.8 248.6h0M270.3 243.3h0M286.2 240.1h0M291.1 247.3h0M283.4 247.1h0M291.4 246.9h0M287.3 245.3h0M276.7 245.1h0M285.2 245.3h0M281.1 233.2h0M292.7 232.7h0M293 241.1h0M284.1 246.9h0M292.8 232.2h0M292.2 232.4h0M284.8 239.5h0M291.4 247.9h0M283.4 244.9h0M304.5 243.7h0M299.5 241.7h0M290.6 248.4h0M291.9 247.9h0M285.1 248h0M296.9 246.3h0M287.4 248.7h0M295.7 247h0M284.5 247.8h0M289.7 247.8h0M289.2 245.7h0M281 245.5h0M281 244.4h0M276.5 245.5h0M296.4 241.4h0M292.8 244.1h0M288.5 249.1h0M292.5 246.8h0M281.4 233.3h0M281.8 245.8h0M286 248.3h0M274.3 241.9h0M293 247.2h0M291.8 247.9h0M278.7 245.9h0M291.6 242.5h0M284.3 242.7h0M282 246.4h0M293.6 227.3h0M293.7 245.3h0M297.9 244.4h0M287.5 248.2h0M293.5 232.3h0M287.2 246h0M286.9 248h0M291.7 248h0M293.3 244.5h0M275.8 245.3h0M291.5 244.8h0M287 246.8h0M293.6 227h0M294.9 246h0M289.7 245.2h0M283.9 247.7h0M280.9 237.4h0M293.1 246.8h0M283.4 245.4h0M291.1 242.7h0M289.7 243h0M281.1 243.5h0M286.4 248.4h0M287.7 249h0M284.6 247.1h0M287.9 248.3h0M283.2 241h0M274.3 244.3h0M284.7 247.9h0M288.3 248.6h0M287.3 245.5h0M281.7 242.2h0M286.2 245.4h0M284.8 246.1h0M293.2 241.2h0M285.2 247h0M278.2 246.2h0M282.9 240h0M287.5 248.6h0M288.6 248.6h0M287.4 247.7h0M296.8 244h0M281.8 246.5h0M304.1 243.9h0M282.2 247.3h0M286.7 248.1h0M294.8 246.7h0M298.6 245.9h0M293.5 246.7h0M274.8 244.5h0M294.2 240.4h0M269 242.4h0M285.6 246.6h0M293.1 247.3h0M274.6 242.5h0M286.7 246h0M289.6 247.9h0M287.4 248.3h0M285.7 245.3h0M298.2 241.2h0M284.2 233.1h0M268.5 243.3h0M284.3 238.2h0M283.1 225.6h0M281.6 246.6h0M288.6 249h0M285.8 247.1h0M293.9 226.8h0M278.4 245.4h0M277.8 245.8h0M281.1 246h0M289.5 243h0M294.3 245.7h0M290.4 244h0M283.6 240.2h0M294.5 244.3h0M277.4 242.5h0M291.5 238.8h0M287.7 249h0M294.3 236.3h0M288 248.2h0M299.4 245.6h0M289.2 248.6h0M282.2 246.8h0M302.5 244.2h0M287.8 247.8h0M290.4 247.5h0M279.6 246.2h0M294.8 243.2h0M284.4 247.3h0M292.5 247h0M285.2 241.9h0M291.1 247.5h0M292.4 237.3h0M291.2 247.6h0M291.3 246h0M292.4 232.2h0M288.6 248.9h0M292.4 247.5h0M290.6 243.2h0M284.1 240.7h0M283 243.5h0M292.2 248h0M282.5 246.6h0M289.7 247.9h0M267.2 242.6h0M277.3 246h0M286.9 248.2h0M283.8 244.7h0M291.3 246.4h0M289.7 245.9h0M295.3 245.1h0M291.2 244.2h0M278.3 245.6h0M291.9 235.1h0M283.2 244.8h0M290 242.6h0M286.9 248h0M281.2 246.4h0M285.8 248.3h0M287.3 248.5h0M295.6 246h0M277.7 241.7h0M297 245.4h0M295.1 240.9h0M289.1 247.5h0M291.5 240.7h0M282.5 226.6h0M293.3 228.5h0M291.7 247.4h0M288.5 248.5h0M295.8 242.2h0M301.4 243.3h0M283.2 245.8h0M292.1 240.1h0M291.2 247.1h0M286.3 244.9h0M290 247.1h0M291.8 246.6h0M284.3 243.8h0M299.2 245.9h0M290.5 247.3h0M283 246.9h0M284.5 236.3h0M292.7 246.8h0M291.3 245.4h0M284.8 246.9h0M295.5 225.1h0M287.7 248.6h0M288.3 248.7h0M286.4 241.6h0M287.2 248.5h0M295.1 243.8h0M271.3 242.4h0M275.9 245.6h0M287 248.8h0M290.8 246.7h0M289.6 244.1h0M295.4 244.6h0M294.2 226.1h0M287.1 245.7h0M289.5 248.7h0M291.3 246.9h0M282.1 231.1h0M289.6 246.1h0M291.3 247.8h0M285.4 245.7h0M305.5 243.7h0M286.2 245.6h0M291.2 242.8h0M275.7 245.4h0M268.4 241.4h0M288.5 248.1h0M282.7 239.3h0M290.6 246.1h0M286.6 247.6h0M299.5 244.2h0M292.9 240h0M285.3 246.1h0M288.8 247.2h0M290.1 247.9h0M292.2 247.6h0M282.2 242.8h0M289 246.5h0M288.9 246.8h0M293.6 239.7h0M286.6 248h0M289.7 244h0M285.9 241.4h0M283.6 239.5h0M292.2 247.9h0M301.9 241.9h0M294.2 247.1h0M290.7 243.6h0M283.7 240.3h0M285.3 248.1h0M283.3 234.8h0M283.2 246.6h0M298.4 241.6h0M279.9 243.7h0M288.5 248.4h0M288.4 249h0M295.1 241.7h0M294 240h0M300.2 245.4h0M286.6 242.9h0M295.5 219h0M286.3 248.3h0M289.1 247.6h0M286.4 246.3h0M286 243.6h0M289.5 248h0M269.9 243.1h0M300.3 241.6h0M294.8 245.1h0M290.3 247.5h0M286.2 248.2h0M280.3 246.4h0M291.3 247.7h0M293.3 245.4h0M283.7 245.4h0M284.1 244.3h0M290.3 244.7h0M292.5 235.8h0M292.4 243.1h0M293 246.9h0M287.1 248.1h0M282.7 242.7h0M284 247.9h0M285 245.1h0M281.1 246.4h0M289.1 248.5h0M302.4 245.2h0M295.4 240.6h0M291 245.6h0M297.8 244.3h0M292.1 247h0M285.5 240.7h0M274.7 242.2h0M278 245.7h0M287.6 248.7h0M274.4 244.2h0M286.3 240.1h0M290.3 248.3h0M306.4 243.6h0M285.4 247.9h0M276.2 243.1h0M295.6 228h0M286.4 248.1h0M292.8 245.2h0M273.7 243.6h0M293.2 239.7h0M286.6 247.7h0M287 247.3h0M292.3 247.4h0M297.3 246.2h0M293.3 245.4h0M282.8 246.7h0M283.7 246h0M280 244.2h0M286.5 246.1h0M296.7 246.2h0M288 248.7h0M288.8 246.6h0M293.9 246.9h0M282.7 246.9h0M283.6 247.7h0M286.3 242.8h0M286.2 245.7h0M276.9 244.6h0M283.7 246.2h0M288.6 248.7h0M277.3 245.7h0M285.4 247.7h0M289.2 247.5h0M281.9 247h0M297.2 245.9h0M280 246.7h0M300.7 244.1h0M289.4 247.6h0M288.7 248.1h0M280.8 247.1h0M291.7 245.7h0M287.9 249h0M297.2 245.8h0M290.7 247.8h0M290.9 236.9h0M287.7 248.2h0M283.4 244.5h0M280.9 215.3h0M296.8 241.3h0M289.6 248h0M291 242.9h0M294.6 232.3h0M294.1 247.3h0M294.8 234.2h0M291 244.9h0M283 246.5h0M285.8 240.2h0M298.6 245.9h0M287.8 247.1h0M285.2 243h0M284 247.8h0M291.9 242.8h0M292.8 236.2h0M288.2 248.2h0M305.3 241.5h0M293.2 242.4h0M290.6 247.4h0M292.6 236.1h0M270.2 243.6h0M280.7 245.3h0M287.2 248.6h0M293.8 247.2h0M283.1 247.2h0M289.3 248.4h0M291.6 235.2h0M287.2 246.8h0M300.1 245.2h0M294 232.3h0M286.8 248h0M282 235.3h0M284.5 238.2h0M287.6 248.8h0M289.8 248.2h0M294.3 247.2h0M283.7 230.4h0M289.1 245.7h0M289.9 247.9h0M279.4 246.6h0M284.1 247.2h0M292.6 242.8h0M291.5 248.2h0M285.8 248.1h0M290.4 248h0M291.5 243.5h0M293.9 245.3h0M287.3 248.4h0M287.7 248.1h0M289.8 244.5h0M288.2 249.1h0M293 241.7h0M283.2 247.1h0M289 247.1h0M282.5 245.3h0M286.4 241.2h0M271.8 244.1h0M293.7 246.3h0M287.3 247.9h0M283.9 241.3h0M294.2 245.9h0M288.4 248.6h0M284.7 247.6h0M304.2 241.9h0M287 247.4h0M284.3 240.3h0M293.6 246.8h0M294.6 232.2h0M287.4 248.7h0M278.5 244.4h0M290.6 248.2h0M290 241.1h0M293.2 229.3h0M292.4 230.7h0M286 247.1h0M293.6 241.5h0M284.7 243h0M286.9 247.5h0M282.4 246.1h0M289.9 248.3h0M297.6 243.7h0M287.3 248.1h0M295.2 229.5h0M289.3 248.2h0M283.6 237.2h0M293.1 244.8h0M288.7 248.2h0M290.3 243.9h0M281.3 232.5h0M300.5 245h0M285.7 239.3h0M286.1 246.1h0M288.5 248.7h0M295.1 246.6h0M294 228.1h0M290.7 246.7h0M290.6 237.8h0M288.5 248.5h0M281 240.8h0M285.4 247.8h0M282.8 242.3h0M296 244.2h0M292.9 237h0M283.7 247.1h0M289 248.6h0M283.3 240.2h0M287.8 247.3h0M278.5 245h0M292.8 242h0M283.1 246.8h0M285.1 235.4h0M282.8 234.3h0M286.4 247.2h0M279.1 241.6h0M299.3 243.9h0M296.6 246.2h0M284.8 246.9h0M284.8 234.7h0M281.3 220.2h0M288.9 248.8h0M283.1 246.9h0M298.4 246.1h0M290.5 238.5h0M293.1 244.3h0M286.8 246.9h0M284.7 244.3h0M298.1 246h0M287 248.1h0M289.9 247.5h0M292.8 246.3h0M294.5 247.2h0M292.1 247h0M292.3 234.5h0M283.1 247.3h0M289.9 248.5h0M291 247.3h0M282.7 247.1h0M276.1 245h0M278.9 246.1h0M294.6 243.5h0M289.2 248.5h0M291.2 241.7h0M285.9 243.5h0M284.9 245.9h0M294.4 238.1h0M286.5 247h0M294.2 235.8h0M296.3 246.1h0M275.3 243.9h0M277.7 245.8h0M283.2 245.2h0M291.5 235.4h0M292.4 241.3h0M288 248.6h0M284.8 246.6h0M292.5 238.8h0M294.2 243.6h0M286.9 247.9h0M278.8 246.4h0M293 247.5h0M287.7 248.3h0M294.3 235h0M280.1 245.3h0M288.4 248.3h0M284.2 243.5h0M284.3 246.8h0M287.3 245.2h0M283 247.1h0M289.7 244h0M293.6 239.3h0M304.2 243.8h0M291.2 247.6h0M291.4 247.9h0M286.2 241.6h0M281.5 237.7h0M291.7 247.7h0M289 245.6h0M285.2 242.1h0M288.6 248.7h0M291.2 244.5h0M276.8 245.3h0M283.4 247.4h0M282.3 246.5h0M287.5 247.5h0M286.7 246.9h0M287.9 248h0M284.1 242.1h0M293 246.9h0M278.5 245.3h0M301.9 243.9h0M293.5 238.6h0M285.1 242.5h0M267.1 242.6h0M291.6 246.8h0M293.7 244.4h0M293.8 238.6h0M294.3 244.8h0M291.6 241.7h0M295.7 245.9h0M295 245.8h0M272.9 244.7h0M294.9 239.8h0M287.1 245.3h0M283.7 234.3h0M281.2 238.4h0M297.6 245.7h0M290 245.6h0M292.6 235.4h0M295.3 246.4h0M287.4 245.3h0M288.7 248.9h0M285.1 246.9h0M287.3 248.9h0M290 244.2h0M284.9 237.1h0M285.6 247.6h0M285.9 248.1h0M281.9 230.5h0M288 249.1h0M297.8 246.3h0M283.3 237.7h0M292.4 246.2h0M284.5 243h0M287.2 247.9h0M282.1 243.2h0M287.1 245.1h0M286.1 248h0M295.8 246.3h0M281.7 225.6h0M285.2 247.5h0M291.8 241.6h0M282.2 222.8h0M288.4 248.1h0M292.2 240.1h0M290.7 241.6h0M285.9 241h0M284.7 248h0M283.7 235.9h0M279 246.1h0M283.2 247h0M286.8 245.7h0M293.3 231h0M300.3 245.9h0M292.4 239.2h0M295.9 246.6h0M289.8 248.4h0M284.4 243.8h0M286 247.8h0M280 242.6h0M286.1 247.6h0M285.4 236.5h0M282.2 227.9h0M299 245.3h0M302.4 245.4h0M286.4 245.9h0M282.2 239.4h0M279 246.5h0M291.8 247.1h0M300.2 244.5h0M291.8 244.2h0M286.2 247.4h0M289.1 247.4h0M291.4 246.8h0M285.5 244.9h0M280.2 246.5h0M289.8 246.9h0M287.8 247.9h0M283.7 239.1h0M292.9 244.3h0M293.9 237.1h0M290.4 247.8h0M284.5 244h0M294.5 221.3h0M294.6 222.4h0M267.1 242.8h0M290.3 240.8h0M289.2 245.4h0M295.2 243h0M295.6 229.5h0M283.4 247.1h0M289.6 246.2h0M290.5 243h0M301.3 242.3h0M283.2 237.4h0M290.5 248h0M292 246h0M292.7 246.9h0M291.3 248.3h0M289 248.7h0M282.8 247.6h0M271.5 244.3h0M281 240.7h0M289.4 248.6h0M279.9 245.7h0M282 247h0M284.3 242h0M287.8 247.9h0M291.3 237.6h0M282.6 247.4h0M294.2 243.6h0M292.4 236.6h0M284.5 245h0M283.9 245.1h0M289.1 246.5h0M289 248h0M289.3 248.2h0M285.2 243.7h0M288.5 248.6h0M295.2 243.2h0M291.5 235.3h0M295.3 246.6h0M284.2 247.3h0M285.2 245.8h0M279.1 245.6h0M282.3 245.9h0M295.1 216.9h0M297.1 246.3h0M295.7 245.4h0M292.7 243.1h0M288.5 248.7h0M282.4 247h0M287.1 248.5h0M282.8 239h0M278.6 245.9h0M284.2 247.2h0M302 241.1h0M289.8 247.8h0M289.5 248h0M287.1 245.4h0M298.7 241.6h0M291.3 240.1h0M281.1 245.7h0M295.8 246.1h0M293.4 231.7h0M295.3 246.4h0M281.9 240.9h0M288.8 248.1h0M290.2 247.5h0M294.7 240.8h0M288.8 248.6h0M284.7 236.2h0M289.2 248h0M292.5 244.9h0M291.3 247.7h0M293.3 232.7h0M272.4 244.2h0M283.1 243.6h0M292.1 247h0M292.8 247.8h0M299.2 245.7h0M282.1 246.7h0M294.8 246.8h0M280.6 245.4h0M284.5 240.7h0M290.9 247.6h0M295.2 231.3h0M282.1 243.4h0M274.4 241.3h0M291.9 233h0M285.7 247.8h0M281.3 244.3h0M283.4 245.1h0M278.9 245.6h0M281.6 239.3h0M279.9 244.3h0M294.7 246.5h0M294.4 247.1h0M276.7 245.2h0M293.5 247.2h0M288.1 248.4h0M284.4 232.4h0M296.9 242h0M293.5 247h0M284.8 247.6h0M286.9 247.5h0M303.8 244.8h0M284.1 236.9h0M289.9 248.3h0M287 248.9h0M294.1 246.4h0M285.1 245.6h0M278.1 246h0M294.4 238.4h0M291.4 247.6h0M289.1 246.7h0M287.2 248.1h0M288.6 248.4h0M291.6 246.7h0M294.7 225.1h0M285.7 247.5h0M282.4 246.6h0M280.2 246.5h0M290.5 243.2h0M291.5 248h0M290.5 246.6h0M286.8 247.9h0M282.1 246.8h0M297.4 246.2h0M294.4 242.5h0M294.4 246.2h0M284.9 241.6h0M287.6 247.8h0M292.3 244.3h0M293.4 247.2h0M280.4 246.2h0M297.2 244.1h0M292.6 242.5h0M280.8 244h0M286.9 247.6h0M291.8 238.7h0M281.6 245.5h0M291.4 247.6h0M291.8 246.9h0M294.2 243.5h0M294.3 246.1h0M288.4 248.6h0M293.7 241.1h0M294.6 247.4h0M286.5 246.8h0M294.2 247.4h0M288.1 248.7h0M289.3 246.5h0M290.5 247.6h0M282.8 247.4h0M287.8 246.7h0M282.4 238.2h0M297.9 245.7h0M290.9 247.7h0M295.5 222.5h0M291.3 242.7h0M287.6 248h0M285.5 243.1h0M285.8 247.2h0M284 231.7h0M283.7 242.3h0M283.2 237.4h0M287.5 248.4h0M285.7 242.7h0M293.2 246.9h0M278.6 242.9h0M278.9 246h0M296.7 245.6h0M289.5 247.8h0M279.3 245.8h0M286.1 241.7h0M288.1 248.2h0M289.8 248.5h0M279.7 244.7h0M292.9 230.1h0M299.9 244.7h0M299.3 244.9h0M291.9 236.9h0M293.4 245.3h0M281.1 234.9h0M286.5 247h0M273.4 244.3h0M289.5 246.3h0M281.1 246.3h0M280.9 240.5h0M290.9 241.5h0M283.3 236.8h0M276.4 244.1h0M279.3 246h0M288.1 248.8h0M282.6 241.1h0M281.7 221.3h0M290.3 238.5h0M288.3 249h0M299.4 245.7h0M281 246.6h0M286.2 248.3h0M290 242.1h0M287.9 248.9h0M272 241.3h0M285.4 239.1h0M282.1 246h0M285.6 242.1h0M307.3 242.8h0M280.7 236.9h0M299.9 245.2h0M283.6 236.2h0M284.8 247.4h0M282.5 246.7h0M281.7 237.6h0M285.3 242.9h0M293.4 243.1h0M285.9 247.4h0M286.5 247.6h0M291.2 246.6h0M287.5 248.6h0M291.2 248.1h0M273.1 242.9h0M298.3 245.3h0M290.7 247.6h0M289.6 247h0M293.6 246.1h0M290.2 241.4h0M281.5 242.9h0M289.7 246.7h0M292 246.6h0M281.8 241.1h0M290 247.5h0M284.2 247.5h0M278.9 244.4h0M286.8 247.1h0M292.6 247h0M283 230.7h0M287.2 248.7h0M293.3 247.4h0M296.9 246.3h0M296.1 245.6h0M276.3 244.5h0M287 246.8h0M284.5 248.1h0M284.3 236.8h0M291.8 246.5h0M295.9 245.3h0M289.8 242.1h0M297.7 246.3h0M305.7 243h0M295.8 247.1h0M281.1 242.6h0M286.1 248.3h0M292.8 246.6h0M282 239h0M288.4 248.7h0M289 247.7h0M278.4 245.7h0M282.1 247h0M282.3 242.2h0M293.9 242.7h0M290.1 248.6h0M288 248.3h0M284.7 247.3h0M283.2 242.3h0M293.3 243.8h0M289.9 245.3h0M285.3 240.6h0M282.8 240.1h0M292.6 242.8h0M282.7 244.4h0M295.7 232.6h0M285 247.1h0M303.1 241.4h0M284.1 244h0M302.3 245.2h0M282 242.1h0M275.8 245.5h0M290.2 247.3h0M271.1 244.5h0M286.3 247.7h0M294.9 228.7h0M290.3 244.5h0M296.5 245.8h0M281.6 238.9h0M286 247.4h0M285.8 241.5h0M288.5 248.1h0M288.1 248.4h0M297.5 245.8h0M293.4 247h0M294.4 237.1h0M285.5 243.9h0M293.3 247.3h0M287.1 246.4h0M292.9 246.4h0M283.7 246.2h0M293.7 247h0M292.3 239.7h0M296.3 246.9h0M297.1 245.8h0M279.2 245.1h0M285.4 247.2h0M306.6 241.3h0M280.6 244.5h0M288.4 249h0M292.5 242h0M288.9 246.7h0M290 247.2h0M298.3 246.3h0M287.1 245.8h0M282.5 227.7h0M293.4 246h0M281.4 246.4h0M297.2 242.7h0M295.3 247.2h0M295.6 218.4h0M283.5 244.1h0M285.8 243.5h0M295 242.4h0M282.8 241.4h0M301.5 243.8h0M288.6 247.6h0M292.7 247.5h0M295.3 246.8h0M295.2 232.7h0M285.9 247.1h0M301.5 243.9h0M290.1 247.2h0M286.7 248h0M294.4 244.3h0M295.1 232.8h0M283.1 247.4h0M282 246.4h0M282.3 222.8h0M281.5 243.6h0M286.6 242.8h0M291.6 247.8h0M293.8 246.9h0M290.3 239.4h0M300.9 245.7h0M289.8 247.1h0M285.5 244.6h0M289.8 248.4h0M292.5 235.4h0M292.1 236.3h0M290.9 248.3h0M281.1 246.3h0M281 232.1h0M293.5 242.8h0M294.8 228.5h0M289.5 246.6h0M294.1 231.1h0M297 243.7h0M269.6 243.6h0M282.3 246.9h0M289.3 248.7h0M287.2 245.4h0M286.3 244.8h0M294.2 230.1h0M290.1 241h0M286.3 244.8h0M284.5 245.8h0M284.9 246.4h0M282.4 231.2h0M303.8 242.6h0M284.4 241.5h0M280.7 240.1h0M290.2 248.2h0M295.5 239h0M284.4 240.2h0M287.3 248.6h0M291.3 245.9h0M294 246.8h0M291.7 236.6h0M284 247h0M275.6 242.2h0M283.6 246.7h0M295.4 233.3h0M284.3 246.6h0M289.3 245.4h0M306 241.7h0M283.6 247.8h0M286.8 244.4h0M290.2 243.7h0M288.7 247.9h0M284.1 234.4h0M284.5 239.8h0M291 240.7h0M289.3 247.6h0M288 248.6h0M294.3 226h0M289.5 248.1h0M291.2 235h0M295.9 246.4h0M289.9 248.1h0M288.4 248.5h0M287.7 248.8h0M284.8 240.9h0M292.2 247.5h0M294.2 234.5h0M293.7 241.2h0M287.1 248.3h0M287.1 246.8h0M288.2 248.6h0M285.6 236.7h0M284.6 247.7h0M285.9 240.6h0M294.3 226.8h0M294 246.4h0M280.9 236.4h0M288.2 248.4h0M292.9 246.1h0M290.4 248.5h0M282.5 233.2h0M302.1 244.8h0M281 231.1h0M288.2 248.8h0M291.3 234.7h0M282.4 247h0M287.2 246.3h0M288.7 248.5h0M300.3 244.2h0M294.9 246.5h0M291 246.4h0M282.2 243.7h0M284.3 247.6h0M278.7 244.8h0M294 247.3h0M299.3 245.6h0M289.1 247.2h0M290.8 247.6h0M281.8 244h0M297.4 245.4h0M287.4 247h0M286 247.7h0M290.7 241.3h0M291.2 247.2h0M296.4 242.1h0M287.4 245.7h0M294.5 245.3h0M283.7 229.4h0M286.8 247.3h0M292.5 233.2h0M289.5 247.3h0M287.1 246.4h0M283.9 242.5h0M281.4 246.3h0M282.2 245h0M293.1 244.5h0M292.1 241.5h0M293.2 230h0M285.6 238h0M289.7 245h0M285 247.6h0M300.1 241.7h0M293 246.5h0M309.7 242h0M289.4 246.7h0M297.9 244.4h0M282.3 245.9h0M297.3 246.6h0M288.2 248.3h0M285.8 248h0M291.9 231.9h0M281.4 244.3h0M281.3 246.8h0M283.5 236.2h0M269.5 243h0M290.8 244.6h0M288.4 249h0M281 246.8h0M286.5 248.7h0M283.5 244h0M288.6 248.1h0M295.4 246.7h0M295.4 236.1h0M288.1 248.8h0M286.2 243h0M289.1 248.2h0M280.1 245.2h0M275.6 245h0M296.2 246h0M293.4 244.6h0M293.1 247.4h0M291.3 246.9h0M292.4 246.5h0M283.3 236.9h0M294.8 242h0M294.7 241.9h0M285.7 242.4h0M278.1 245.5h0M288.6 248.4h0M279 245.1h0M291.2 239.8h0M290.1 247.2h0M300 245.5h0M302.4 244.8h0M296.2 246.9h0M287.6 247.3h0M286.3 245.1h0M285.9 240.3h0M298 246.4h0M287.6 247.7h0M283.5 247.1h0M289.9 243.6h0M292.3 243.8h0M297.5 243h0M288.3 248.8h0M294.4 246.6h0M285.4 247.9h0M298.5 242.4h0M294.5 229.3h0M282.4 247.4h0M291.3 242.2h0M293.3 246.2h0M288.3 249.1h0M293.5 246.6h0M277.8 245.8h0M278.2 246h0M287.8 248h0M286 247.7h0M281.5 246.7h0M290 246.1h0M296.2 244.5h0M290.4 247.6h0M282.8 232.2h0M292.6 247.1h0M290.9 240.2h0M304.9 242.3h0M286.6 247.6h0M284.3 242.8h0M295 234.7h0M292.9 246.1h0M290 248.3h0M288.9 248.2h0M292.9 235.2h0M291.7 237.5h0M281.8 227.8h0M293.3 246.9h0M283.1 235.4h0M277.8 244h0M292.4 247.2h0M287.4 248.8h0M290.2 248.3h0M285.3 247.6h0M276.5 242.4h0M288.3 249h0M281.2 223h0M273 244.4h0M286 247.8h0M280.2 243.2h0M293 242.9h0M290.9 236.3h0M288.4 248.3h0M278.5 246.3h0M295.1 223.3h0M287.4 246.4h0M281.8 225.5h0M291.4 247.5h0M290.1 241.9h0M299.4 245h0M290.1 242.3h0M292 247.5h0M286.3 247.5h0M283.1 247.7h0M304.4 244h0M291.8 247.3h0M288.2 248.4h0M281.6 235.9h0M272.4 243.5h0M292 247.4h0M285.1 244.6h0M286.9 247.2h0M282.8 245.8h0M283.8 247.9h0M283 244.7h0M286.7 246.9h0M271.4 244h0M290 247.1h0M292.5 245.9h0M293.2 247.5h0M292.5 234h0M281.7 246.8h0M285.1 245.6h0M283.9 241.8h0M291.6 244.3h0M286.5 244.5h0M293 247.5h0M287.5 246.2h0M287.8 248.3h0M291.1 248.1h0M284.8 242.6h0M292 232.8h0M286.9 247.9h0M283.6 247.7h0M301.3 242h0M290.9 247.9h0M285.6 237h0M300.7 243.1h0M271.7 243.2h0M293.5 246.7h0M288.5 248.6h0M284.2 246.8h0M296.8 244.8h0M297.4 245.8h0M292.4 246.3h0M294 240.3h0M282.5 235.6h0M290.5 245.9h0M277.7 245.3h0M290.8 247.9h0M299.3 245.5h0M283.3 239.8h0M281.6 226.7h0M298.8 243.6h0M282.2 247h0M283.7 239h0M283.9 233.5h0M286.8 244.1h0M290.2 247.8h0M289.2 248h0M289 247.9h0M287.5 248h0M293.6 244.9h0M281.4 221.9h0M288.9 246.4h0M294.3 225.4h0M284 245.1h0M279 246.1h0M285 248.1h0M284.6 235.7h0M292.4 247.5h0M287.4 246.5h0M284.1 247.1h0M288.7 247.1h0M295.2 238.7h0M293.4 235.9h0M293.6 245.7h0M286.8 247.4h0M295.5 246.5h0M290 244.4h0M281.7 244.8h0M281.3 243.7h0M299 243.2h0M281.2 246.1h0M290.1 247.5h0M288.2 248.9h0M290.1 244.6h0M288.9 246.1h0M293.2 236.6h0M292.5 243.6h0M288.3 249.1h0M284.2 232.5h0M287.5 248.3h0M283.7 243.7h0M288.8 248.1h0M267.2 243.1h0M283.7 247.3h0M284.6 240.6h0M283.3 243.6h0M289.6 243.2h0M282.8 246.8h0M283.1 236.1h0M282.3 227.5h0M281.5 233.3h0M281.3 241.3h0M296 243.5h0M286.9 244.7h0M287.3 248.8h0M289.1 248.5h0M284.1 247.3h0M283.1 237.4h0M283.7 247.3h0M302.5 243h0M284.9 235.3h0M296.5 246.2h0M269.5 243.3h0M295.4 246.4h0M288.7 248.1h0M290.2 243.8h0M277.6 244.1h0M287.3 246.9h0M282.5 232.1h0M272.3 243.4h0M285.2 242.3h0M291.9 242.4h0M285.3 244.6h0M279 242.3h0M282.9 247.5h0M283.8 248h0M290.5 248.3h0M282.2 223.3h0M296.3 246.1h0M286.7 248.8h0M289.9 246.4h0M282.4 237h0M289 248.8h0M288.3 248.4h0M282.2 239.8h0M279.6 245.9h0M291.9 245.6h0M281.5 247.2h0M290.7 238.2h0M292.2 247.2h0M286.6 245.7h0M281.5 246.2h0M283.3 247.3h0M294.9 235.7h0M291 247.1h0M284.5 247.7h0M287.5 248.3h0M284.2 243.8h0M287.5 246.1h0M281.8 245.5h0M289.3 248.6h0M286.3 247.1h0M293.2 243.5h0M286.2 248.1h0M288.4 248.4h0M297.2 246.2h0M284.1 242.1h0M287.6 248.4h0M293.9 247.1h0M280 246.3h0M292.2 246.4h0M288.5 248h0M278.4 244.1h0M289.3 245.4h0M283.4 247.8h0M282.9 229.3h0M304.2 244.1h0M281.3 226.9h0M269.2 242.9h0M297.5 246.4h0M279.9 246.6h0M285.5 247.4h0M283.4 237.7h0M292 237.5h0M287.1 244.7h0M294 246.6h0M295.4 246.6h0M292.2 245.4h0M275.3 245h0M294.4 245.9h0M286.6 247.4h0M284.7 244.2h0M288.6 248.6h0M293 236.4h0M283.4 247.2h0M285.6 247.7h0M279.5 242.8h0M284.6 247.7h0M283.3 247.8h0M290 248.3h0M271.9 244h0M299.7 241.8h0M274.3 243h0M290.8 240.8h0M289.8 245.1h0M286.1 241.6h0M294 242.4h0M286.3 245.2h0M291.1 247.6h0M292.5 238.5h0M286.8 248.4h0M282.6 225.9h0M296 246.9h0M297.5 242.2h0M283.9 245.9h0M278.9 245.8h0M300.8 245.2h0M288.1 248.3h0M287.5 245.1h0M289 248.2h0M294.4 234.6h0M277.6 241.3h0M296 244.6h0M291.3 245.2h0M288.2 248.4h0M293.7 243.1h0M291.4 237.8h0M283.2 239.4h0M279.2 246.4h0M286.9 245.8h0M273.7 244.2h0M290.9 238.8h0M293.9 230.8h0M298.7 245.2h0M288.7 248.6h0M287.1 247.5h0M297.3 246.3h0M286.8 247.3h0M283.5 245.2h0M293.8 245.2h0M287 247h0M293.7 241.2h0M284.9 246.5h0M294.1 247.3h0M294.9 233.8h0M292.3 245.5h0M290.2 244.7h0M272.8 244.5h0M290 246.4h0M306.1 243.1h0M294.1 227.6h0M290.8 246.9h0M300.3 245h0M281.1 239.8h0M284.3 246.4h0M277.3 245.9h0M289.5 248.2h0M289.7 247.9h0M284.9 247.3h0M282.6 246h0M289.9 243.1h0M282 222.1h0M279 245.5h0M278.1 245h0M287.2 247.3h0M291.9 234.2h0M288.9 248.2h0M281.8 238.3h0M292.8 247.2h0M293.9 237.3h0M287.5 247.9h0M300.3 244.3h0M300.4 245.5h0M289.7 245.5h0M290.5 247h0M292.6 238.3h0M293.2 239.1h0M272.1 244.5h0M306 243.6h0M290.2 247.6h0M286.3 247.9h0M294.6 230.4h0M285.8 248.5h0M286.9 246.4h0M293 229.8h0M287.1 248.1h0M289.3 248.6h0M280.3 245.3h0M300.3 245.1h0M285.7 247.4h0M292 234h0M286.1 240.1h0M277.4 242h0M292.5 245.3h0M283.7 241.8h0M283.5 244.1h0M283.2 246.1h0M302.3 243.1h0M277.7 245.3h0M285.2 248.2h0M281.7 242.9h0M291.3 248h0M283.8 247.2h0M280.6 244.7h0M287.9 248.9h0M281.9 239.1h0M295 246h0M291 247.6h0M273.8 243.6h0M290 246.5h0M286 247.8h0M291.6 247.8h0M289.1 247.1h0M295.2 246.8h0M289.9 248.1h0M281.2 246.1h0M295.3 225.5h0M284.2 246.6h0M299.2 241.5h0M287.7 248.1h0M284.4 245.8h0M287.7 246.7h0M288 247.8h0M288 247.7h0M295.6 239.5h0M294.2 247.1h0M284 247.9h0M286.7 248h0M284 243.8h0M299.6 241.7h0M306.6 242h0M280.2 246.2h0M284.6 243h0M287.2 248.3h0M288.3 248.3h0M295.4 222.4h0M277.8 243.2h0M289.4 244.1h0M300.8 244.2h0M287.3 247.3h0M293.2 245.5h0M288 248.9h0M291.5 247.3h0M294.5 239.6h0M286.8 247.2h0M284.5 239.2h0M298.1 245.7h0M283.3 235.8h0M293.1 247.6h0M292.5 247.2h0M287.9 247.9h0M287.3 246.4h0M281.9 245.5h0M282.6 244.3h0M293.6 245.3h0M296.6 245.9h0M293.3 237.4h0M286.5 246.8h0M290 247.4h0M288.4 247.4h0M280.6 242.9h0M296.3 246h0M289.8 243.1h0M292.7 242.8h0M285.5 240.8h0M284.7 241.6h0M271.7 242.8h0M286.5 245.9h0M288.5 248.4h0M286.2 240.3h0M292 245.4h0M287.8 248.4h0M284.5 243.1h0M284.8 240.6h0M283.6 247.7h0M282 244.9h0M294.9 247.2h0M293.7 242.5h0M290.4 247.2h0M283.6 247.2h0M290.2 242h0M290.1 245.4h0M291.3 235.8h0M296.8 244.4h0M292.7 245.1h0M288.6 247.4h0M294.7 231.8h0M292.1 245.6h0M300.3 244.8h0M294.3 247h0M295.2 238.6h0M287.8 247.4h0M280.4 245.7h0M286.8 247.9h0M295.4 216.8h0M287.3 246.4h0M281.1 246.4h0M281.9 246h0M285.4 247.1h0M295 238.8h0M288.8 246.8h0M289.9 246.5h0M275.7 244.7h0M294.9 247.3h0M294.1 245.4h0M305.1 243.6h0M281.4 222h0M285.2 243.8h0M281 246.4h0M293.8 246.5h0M295.3 246.8h0M292.3 247.9h0M287.6 248.4h0M289.7 246.9h0M288.8 248.6h0M294.8 229.9h0M286.5 242.3h0M292.1 238.5h0M283.6 236.2h0M282.1 236.1h0M292.9 245.2h0M282.1 235.5h0M282 239.5h0M285.3 244.6h0M274.4 243.9h0M288.6 248.6h0M280.7 218.4h0M291.2 247.4h0M286.1 245.2h0M285.1 243.4h0M284.9 235.5h0M287.8 248.8h0M286.4 247.3h0M288.7 249h0M294.2 231.3h0M290.3 246.8h0M277.3 244.3h0M293.4 247.1h0M280.6 245.7h0M290.4 243.9h0M288.6 247.7h0M286.2 244.8h0M290.5 245h0M286 247.1h0M302 244h0M293.4 234.1h0M285.4 247.5h0M283.4 247h0M294.7 242.2h0M298.4 245.4h0M300.6 245.2h0M295.2 227.3h0M286.2 245.6h0M294.6 246.7h0M278.8 246.5h0M291.2 245.9h0M299.6 245.6h0M286.9 248.5h0M289.9 245.5h0M286.2 246h0M288.8 248.8h0M289.7 246h0M295.2 241.2h0M288 249.1h0M292.1 241.9h0M287.3 248.1h0M285.7 246.8h0M290.1 248h0M301.2 245h0M288.3 248.3h0M284.8 247.4h0M282 238.8h0M290.2 245.1h0M292.2 247.3h0M285.3 242.6h0M283.7 243.1h0M295.1 236.2h0M288 248.4h0M293.7 241.5h0M297.1 244.1h0M294.1 246.9h0M290.2 240.3h0M283.3 247.4h0M293 241.1h0M288.4 248.6h0M284.4 248h0M291.8 243h0M291.6 242.7h0M291.5 247.4h0M286.4 247.8h0M281.7 245.1h0M292.9 230.1h0M282.7 245.9h0M288 248.5h0M288 248.8h0M288.2 248.3h0M295.1 246.7h0M289.8 243.8h0M287.8 247.3h0M289.2 248.1h0M277.4 244.6h0M292.8 234.3h0M293.3 246.6h0M286.6 245h0M289.1 248.4h0M280.1 246.9h0M290.8 244.2h0M285.5 244h0M274.8 244.8h0M292.7 233.7h0M286.1 248.3h0M291.4 247.9h0M277 245.3h0M291.4 245.8h0M284.4 247.1h0M281.7 220.5h0M289.6 248.2h0M284 247.3h0M295.3 246.3h0M289.4 246.2h0M289 248.5h0M273.8 243.2h0M283.6 246.5h0M291.6 240.8h0M298.7 244.1h0M286 246.3h0M280.1 241.1h0M284.3 246h0M298.6 244.1h0M274.3 244.5h0M288.5 248.7h0M285.7 248.3h0M294 246.7h0M287.3 246.8h0M290 248h0M297 244.6h0M288.5 248.6h0M288.3 248.6h0M306 242.8h0M276.5 245.4h0M267.4 242.1h0M284.3 245.5h0M286 248h0M292.9 244.4h0M278.9 243.8h0M286.7 245.2h0M292.8 246.4h0M286.2 240.7h0M288.8 246.6h0M296.1 242.6h0M295.3 246h0M289.4 248.1h0M282 246.2h0M286.9 246.7h0M287.4 245.8h0M291.1 248.1h0M288.8 246.4h0M294.8 246.8h0M283.3 243.7h0M286.7 246.1h0M293.4 243.5h0M295.7 246.3h0M290.2 240.5h0M290.9 243.7h0M288.6 247.5h0M293.8 233.2h0M287.7 247.6h0M285.3 237.2h0M287.8 248.5h0M293.6 242.8h0M293 247.1h0M279.9 246.2h0M289.1 245.9h0M298.1 242.7h0M288.1 248.4h0M293.3 232.8h0M287.3 247.9h0M291.9 243.1h0M298.1 245.7h0M280.2 243.5h0M299.7 245.9h0M294 224.6h0M292.5 235.4h0M282.5 247.6h0M295.2 242.7h0M281.7 219.2h0M304.1 244.6h0M289.9 242.7h0M290.3 242h0M296.1 241.5h0M280.3 243.4h0M288.1 248.2h0M290.8 248.2h0M290.1 248.1h0M298.1 241.8h0M297.8 246.3h0M291.4 246.7h0M281.3 246.4h0M283.1 243.3h0M277.3 245.4h0M292.2 237.9h0M299.5 243h0M289.8 244.3h0M282.3 237.3h0M288.8 248.2h0M277.1 245.6h0M287.9 249.1h0M285.8 247.7h0M282.6 241.6h0M283.9 244.1h0M282.9 247h0M291.5 244.9h0M290.1 248.1h0M289.4 245.1h0M288.2 249.1h0M292.9 245.4h0M292.2 247.9h0M291.3 239.4h0M279.9 242.2h0M290.3 248h0M284.2 247.5h0M285.3 247.4h0M283.1 243h0M298.9 245.7h0M301.5 244.7h0M292.2 234.9h0M282.8 233.1h0M286.3 241.2h0M290.5 248.4h0M270.1 242.7h0M286.2 242.1h0M289.4 248h0M281.5 234.9h0M279.7 242.9h0M293.9 236.9h0M294.6 220.7h0M286.7 247.2h0M288.9 247.9h0M286.8 248.2h0M290.9 246.9h0M290.5 247.1h0M285.9 247.4h0M285.1 238.8h0M291.8 243h0M285.2 235.2h0M294.4 222.6h0M281.8 244h0M290.2 247.5h0M285 246.8h0M289.3 248.7h0M284.2 240.2h0M284.6 246.8h0M282.8 247h0M299.2 244.7h0M295.3 246.5h0M280.7 245.4h0M285 247.4h0M289.5 248.3h0M284.4 247.8h0M295.5 216.7h0M280.1 241.8h0M281.4 246.5h0M293.5 246.9h0M271.8 243.1h0M283.4 227.1h0M280.9 247.2h0M295.4 243.2h0M285.6 239.1h0M296.4 243.3h0M287.9 247.9h0M297.1 246h0M280.5 245.6h0M289.1 245.3h0M291.1 246.4h0M290.8 247.5h0M285.8 243.2h0M279.3 246.1h0M289.5 243.9h0M290.4 248h0M293.4 244.4h0M282.4 241.6h0M297.1 246.2h0M289.3 246.1h0M288.3 248.4h0M304.2 243.2h0M287.5 248.4h0M273.7 244.4h0M289 247.2h0M269.9 244h0M292.1 246.5h0M288.2 248.7h0M279.5 246.3h0M287.9 248.3h0M302.5 245.2h0M282.1 233.3h0M291.8 247.1h0M292.3 236.3h0M288.3 248.6h0M305.6 243.9h0M291 248.2h0M282.1 247h0M286.4 247.8h0M290.6 247.5h0M282.8 247.3h0M288.9 248.5h0M292.1 237.4h0M277 246.1h0M285.8 248.2h0M292.6 247.4h0M289.4 247.8h0M292.2 247.7h0M281.6 223.8h0M288.9 246h0M294.6 221.6h0M287.5 247.8h0M285.5 248h0M285.2 246.1h0M282.9 239.2h0M280.3 246.5h0M287.2 246.7h0M279.6 243.1h0M281.5 246.4h0M291.7 246.4h0M278.4 246.4h0M283.8 234.7h0M293.3 231.3h0M282.6 246.3h0M282.5 246.4h0M292.5 247.1h0M277.2 242.1h0M279.2 246h0M295.4 246h0M297 241.7h0M282.9 246.5h0M284.3 247.7h0M307.3 242.6h0M281.4 218.8h0M283.5 245.6h0M295.2 241.6h0M284.5 244.5h0M283.5 247.1h0M295.6 228h0M294.9 245.7h0M291.1 243.6h0M283.9 234.2h0M280 246.3h0M291.6 233.9h0M288.3 248.6h0M293.3 246.3h0M278.9 246.1h0M282.2 246.6h0M299.8 244.9h0M281.8 240.1h0M285.7 248.1h0M287.1 246.2h0M284.7 238.2h0M287.3 248.4h0M284.1 245h0M278.3 243h0M274.3 244h0M290.4 247.7h0M287.6 247.3h0M277.6 244.2h0M284.5 247.1h0M293.2 244.9h0M282.3 231.7h0M275.7 245.6h0M281.4 246.6h0M286.1 240.7h0M284.8 244.1h0M284.3 247.9h0M285.9 245.6h0M289.1 248.3h0M292.3 243.2h0M291.1 248.3h0M299.3 245.4h0M285.5 247.6h0M285 246.9h0M290.6 247.8h0M281.8 245.3h0M291 247.6h0M280.8 217.6h0M290 246.3h0M281.3 235.2h0M288.2 248.4h0M281.6 247.4h0M278.4 246h0M284.8 247.9h0M285.7 247.6h0M275.9 244.7h0M286.5 244.4h0M294.4 228.8h0M284 247.5h0M293.2 227.8h0M280.7 244.2h0M293.3 247h0M277.8 244.2h0M291.5 247.9h0M287.4 248.6h0M289.1 247.2h0M290.3 242.2h0M286.9 248.1h0M287.9 248.2h0M289.6 243.3h0M298.9 245.7h0M285.9 247.9h0M288.5 248.6h0M284.1 247.4h0M287.7 248.1h0M285.3 243.9h0M291.1 243h0M287.2 247.8h0M281.9 227h0M281.2 237.5h0M280.8 242.3h0M287.3 248h0M290.1 247.6h0M301.6 244.8h0M272.4 243.1h0M282.7 245.8h0M291.7 247.9h0M292.1 240.7h0M288.7 246h0M278.3 243.7h0M290.7 246.4h0M286.8 248.4h0M303.5 242.2h0M309.8 242.5h0M290.6 248.4h0M280 246.2h0M290.2 247.6h0M290.4 247.9h0M283.8 243.2h0M286.4 247.4h0M293.9 226.7h0M290.9 238.6h0M294.9 246.3h0M285.2 248.1h0M290.6 248h0M283.7 247.2h0M282.5 247.1h0M302.4 245.2h0M282.5 238.3h0M290.3 246.8h0M287.6 248.7h0M286.7 247.9h0M286.1 247.8h0M290.7 247.7h0M288.3 248.1h0M300.3 242.1h0M292.4 243.7h0M287.9 248.9h0M281.5 220.4h0M287.6 248.5h0M293.4 241.2h0M286.1 244.4h0M288.8 248.4h0M290.7 247.9h0M300.7 244.3h0M279.3 241.7h0M298.9 245.9h0M302.6 245.2h0M288.7 249h0M288.9 247.2h0M289.6 247.4h0M292.7 232.5h0M285.8 242.4h0M286.1 247h0M289.8 246h0M286.5 244.4h0M296.2 246.2h0M278.6 245.2h0M284.2 241h0M295.8 246.5h0M290.7 244.6h0M282.6 237.5h0M292.9 247.1h0M286.7 247.9h0M279.7 246.5h0M285.9 240.5h0M291.6 235.1h0M287 244.9h0M300.8 245.4h0M285.3 247.9h0M281 244.3h0M282.3 235.1h0M292.6 247.6h0M277.9 245.5h0M283.3 247h0M296.7 243.8h0M292.6 243.9h0M285.2 246.3h0M279.5 246h0M307.3 243.2h0M298.7 246h0M287.9 248.6h0M294.1 225.6h0M293.9 231.6h0M288.1 248.5h0M292.5 247.2h0M281.7 229.9h0M289.8 248.2h0M285.9 248.5h0M292.9 247h0M294.2 245.4h0M283 247.2h0M299.1 243h0M285.3 241.3h0M291.6 242h0M292.9 237.5h0M292.8 239.5h0M280.6 241.6h0M284.2 243.7h0M272.5 244.4h0M296.6 245.8h0M295.7 241.8h0M281.7 247.2h0M283.2 245.3h0M285 235.7h0M289.7 247.6h0M285.2 236.4h0M297 244.3h0M286.3 247.9h0M285.2 235.9h0M284.9 248h0M289.8 248.6h0M292.3 245.4h0M281.7 236.6h0M293.4 233.3h0M282 239.3h0M287.5 248.8h0M286.9 246.6h0M291.1 245.3h0M281 243.2h0M288.9 248.1h0M295.3 244.3h0M293.1 246.6h0M293.6 246.9h0M290.8 247.7h0M287.3 247.5h0M282.4 236.7h0M283.9 242.4h0M281.4 246.2h0M278.1 241.4h0M289.5 248.2h0M292 234.7h0M292.9 244.6h0M291.1 235.9h0M288.5 248h0M292.5 247.9h0M288 249.1h0M292.8 246.2h0M293.5 246.6h0M281.3 246.6h0M290.1 248h0M287.4 248.5h0M289.7 247.9h0M299 241.8h0M280.4 242.1h0M285.4 243.4h0M295.7 247.1h0M275.6 245h0M283.8 245.3h0M293.4 246.9h0M293.2 245.2h0M275.3 245.5h0M273.9 242.7h0M294.9 245.2h0M283.3 247.2h0M296.6 246.2h0M288.6 247.1h0M287.8 247.9h0M284.6 238.1h0M290 248h0M282.3 236.4h0M299.3 245.5h0M289.9 246.4h0M292.7 243.1h0M296.5 246.2h0M290.9 239.8h0M295.1 247.1h0M287.5 246.3h0M294.7 246.2h0M287.9 248.1h0M281.5 231.3h0M276.6 244.8h0M290.8 248.2h0M301.8 244h0M292 237.2h0M282.5 233.2h0M283.8 247.5h0M290.6 241.9h0M291.6 246.9h0M289.2 247.2h0M294.1 228.4h0M289.8 248.5h0M294.6 243.4h0M293.7 236.6h0M285.6 247.7h0M272.6 243.7h0M282.5 227h0M300.1 244.6h0M286.3 241.8h0M285.8 248.3h0M296.2 243.2h0M282.2 240.2h0M293.6 228.5h0M290.8 247.8h0M290.7 247.1h0M294.8 246.4h0M288.8 248.4h0M280.7 246.9h0M283.3 243.6h0M293.2 245.9h0M287.4 248h0M287.7 248.4h0M297.3 246.2h0M280.8 246h0M291.1 238.5h0M280 241.2h0M286 248.3h0M288 249.1h0M281.4 247.2h0M304.9 244.4h0M292.1 247.3h0M281.8 226.6h0M284.9 247.9h0M287.2 248h0M289.1 248.1h0M294.2 247.2h0M269.2 242.7h0M290.9 237.4h0M286.2 247.5h0M294.7 218.7h0M295.9 242.8h0M285.8 247.4h0M282.1 243.3h0M285.3 239.7h0M297.5 243.8h0M276.5 245.8h0M284.1 243.4h0M276.9 243.8h0M287.2 247.9h0M281.5 232h0M291.8 240.8h0M280.8 242.7h0M290.9 242.1h0M292.7 247.3h0M296.3 246.1h0M276.9 246.1h0M286 246.4h0M297.3 245.2h0M293.6 233.7h0M290.7 246.8h0M291.6 238.8h0M300.9 241.8h0M300.2 245.1h0M282.1 247.5h0M287.6 247.4h0M282.4 235.1h0M287.1 248.3h0M281.3 234.7h0M294.4 246.9h0M292 247.4h0M291.9 247.2h0M282 246.5h0M302.1 244.2h0M291.5 244.7h0M288.9 246.2h0M292.6 235.3h0M284.6 238.7h0M278.6 244.5h0M295.1 237.5h0M294.6 229.8h0M282.8 243.2h0M294.5 235.7h0M293.3 229.5h0M286.4 245.2h0M284.7 241.9h0M288.4 247.9h0M284.5 235.3h0M281.6 244.2h0M296.8 241.3h0M283 230.2h0M280.9 243.7h0M290.7 243.2h0M284.9 247.5h0M289.4 248.1h0M303.7 241.4h0M283.9 245.6h0M288.3 248.7h0M293.2 227.3h0M280.8 246.5h0M291.7 243.8h0M288.4 249h0M292.9 247.1h0M284.8 247.9h0M283.2 247.3h0M281.8 232.6h0M283.3 245.5h0M289.9 248.5h0M281.5 244h0M290.1 248.4h0M289.3 247.7h0M288.6 247.1h0M282.6 247.2h0M296 245.8h0M295.6 224.8h0M292.6 237.6h0M284 240.1h0M292.2 248h0M281.1 243.8h0M290.7 241.4h0M296.4 244.5h0M293.1 247.1h0M294.9 244.5h0M302.7 241.3h0M287.7 247.3h0M283.6 242h0M293.7 236.1h0M282.3 241.2h0M289.2 248.2h0M291.2 246.1h0M280.4 246.5h0M292.1 247.5h0M285 247.7h0M296.3 246.2h0M285.6 247.6h0M287.5 247.8h0M282.3 246.8h0M293.1 245.3h0M305 242.8h0M282.1 247h0M290 246.5h0M292.2 231.1h0M288.8 246.2h0M288.1 248.4h0M293.6 246.3h0M282 234.8h0M275.7 245h0M280.8 244.1h0M290.9 239.7h0M288.3 249.1h0M286.4 248.5h0M285.4 247.2h0M283.2 227.5h0M286.1 248h0M297.4 242.6h0M291.4 246.6h0M287.3 247.9h0M283 240.9h0M290.2 248.2h0M276.6 245.8h0M286.8 248.2h0M292.5 235.6h0M283 242.6h0M291 247.8h0M304.1 244.1h0M294.8 229.8h0M272 243.8h0M271.8 244.7h0M288.2 248.6h0M293.6 247.3h0M293.7 226.6h0M281.7 240.6h0M283.5 231.3h0M281.7 239.1h0M283.5 246.5h0M282.5 232.8h0M291 246.4h0M286.8 246.4h0M290.7 247.5h0M290.9 246.3h0M291.6 245.4h0M278.2 244.1h0M286.2 244.1h0M279.4 244.8h0M278.8 245.6h0M283.8 240.1h0M278.2 245.1h0M294.1 235.4h0M285.6 247.4h0M284.6 244.8h0M288.6 248.9h0M290.3 245.6h0M294 237h0M294.1 246.4h0M284.4 246.5h0M300.9 243.5h0M290.6 248h0M295.5 229.2h0M299.5 244.3h0M286.6 247.9h0M283.8 234.6h0M287.3 245.3h0M276.6 244.5h0M275.2 244h0M290.5 247h0M285.5 245.9h0M291.4 245.6h0M283 246.7h0M292.4 235.5h0M293.2 245.4h0M293 239h0M286 248.2h0M291.4 247.5h0M284.6 244.4h0M281.8 246.8h0M269.1 243.3h0M282.2 247.1h0M285.3 246.4h0M285.3 246.8h0M284.5 247.9h0M279.8 246.4h0M280.5 247h0M291.6 236h0M296 245.2h0M288 248.1h0M295.2 227.4h0M292.8 246.2h0M287.2 244.2h0M298.6 242.8h0M286.2 247.7h0M291.2 244.2h0M288.6 248.4h0M290.4 245.2h0M289.1 246.4h0M288.3 248.2h0M293.7 242.3h0M295.8 245.5h0M280.5 246.8h0M285.4 246.2h0M283.8 243.6h0M287.4 247.9h0M285 247h0M294.1 242.2h0M293 246.3h0M282.7 245.6h0M276.9 245.7h0M275.7 244.9h0M287.4 245.9h0M281.8 243.5h0M282.6 247.1h0M300.9 244.9h0M291.6 233.9h0M298.5 242.2h0M290.9 247.6h0M278.2 243.4h0M283.6 246.7h0M291.2 244.7h0M284.6 233.2h0M277.5 245.6h0M287.4 248h0M279.9 246.2h0M293.2 245.9h0M295.5 245.4h0M295.7 242.1h0M290.4 247.7h0M281 232.3h0M299 245.9h0M292.8 243.9h0M287.9 248.7h0M280.9 237h0M293.3 247.7h0M286.8 242.5h0M292.3 247.7h0M294.2 246.8h0M298 245.1h0M287.9 248.5h0M281.2 238.5h0M290 240.8h0M285.5 247.6h0M291.7 236.5h0M281.2 221.4h0M290.7 239.7h0M281.1 223.9h0M293.8 238.4h0M289.2 248.4h0M271.2 244.2h0M290.4 245.1h0M284.4 246.3h0M283.1 247.3h0M294.8 240.9h0M288.2 248.7h0M281.9 238.8h0M297.4 245.8h0M273.5 244.1h0M291.3 241.4h0M285.5 247.6h0M296.3 245.5h0M288.3 248.3h0M280.7 246.9h0M286.8 247.4h0M292.3 247.5h0M284.9 247.4h0M284 242.2h0M296.5 243.2h0M284.7 245.4h0M292.1 247.8h0M289.2 247.9h0M294.2 234.5h0M282.1 237.9h0M294.6 245.4h0M283.1 246.9h0M290.8 248.2h0M284.7 248.2h0M299.4 244.6h0M301.5 244.7h0M274.4 243.2h0M288.8 247.1h0M291.9 247.7h0M285.7 246.4h0M294.4 232.6h0M294.2 239.2h0M289.4 247.4h0M298.7 245.6h0M295.1 236.6h0M291.1 238.7h0M293.1 236.7h0M292.8 228.9h0M294.2 247.3h0M287.6 248.7h0M286.6 247.7h0M288.2 248.4h0M291.5 244.6h0M287.3 248.5h0M289.4 247.2h0M286.6 246.9h0M289.3 245.8h0M293 247.1h0M282.4 238.5h0M284.1 237h0M304.4 243.7h0M290.1 248.2h0M296.6 246.1h0M294.9 226.9h0M291.1 246h0M281.5 224.6h0M286.3 247.4h0M296.8 245.9h0M289.3 245.9h0M281.7 245.8h0M288.7 248.4h0M283 246.2h0M286.9 247.8h0M289.9 246.6h0M287.2 247.7h0M288.4 248.7h0M290.8 242.5h0M291.2 246.7h0M288.8 246.5h0M286.9 247.9h0M290.4 247.7h0M287.1 247.8h0M278.6 243.1h0M291.2 241.4h0M288.1 249h0M280.5 245.4h0M291.8 244.4h0M281.6 239.6h0M291 247.8h0M283.3 247.1h0M284.5 240.9h0M285.9 238.9h0M292.5 247.4h0M295.8 245.4h0M289.1 248.4h0M288.5 248.3h0M298.2 245.2h0M286.6 246.4h0M288.4 248.4h0M288.1 248.7h0M293.6 247.3h0M286.8 248h0M293.7 246.6h0M292.8 233.3h0M289 248.4h0M287.1 247h0M280.8 240.2h0M281.6 242.8h0M295.3 245.3h0M272 244h0M290.7 246.6h0M281.2 246.2h0M293.2 246.2h0M287.6 245.9h0M287.7 248.1h0M284.5 247.3h0M285.8 239.3h0M282.5 234.1h0M286.8 248.2h0M289.2 247.9h0M287.4 245.1h0M289.8 245.4h0M269.7 241.9h0M291.4 244.2h0M284.5 247.9h0M308.2 241.6h0M289.6 248.6h0M276.7 241.4h0M274.1 245.2h0M281.2 229.4h0M281.5 220.5h0M284.4 243.2h0M290.8 248.1h0M285.8 247.1h0M281.5 218.6h0M296.3 245.1h0M290.1 247.5h0M289.2 243.9h0M293.8 246.1h0M285.5 239.4h0M291.3 246.4h0M283.9 241.9h0M294.2 240.7h0M288.8 246.8h0M281.3 247h0M291.6 239.8h0M282.6 244.8h0M288.2 248.3h0M291 241.3h0M283.7 246.7h0M281.2 241.3h0M282.8 235.5h0M283.9 248h0M297.1 242.1h0M269.1 243.4h0M290.9 246.7h0M298 245.8h0M293.4 246h0M271.6 244h0M293.4 234.3h0M292.5 237.7h0M295.1 243.9h0M291.9 247.8h0M290.2 244.4h0M289.9 245.3h0M289.8 248.6h0M292.7 246.6h0M288.6 248.8h0M288.7 248.9h0M285.1 248.1h0M295.3 235.2h0M286.7 247.6h0M289.8 247.5h0M282.2 237.9h0M301.2 242.1h0M284.7 245.4h0M291.6 247.6h0M288 248.2h0M282.6 242.9h0M287.8 248.5h0M273.2 244.2h0M294.8 246.1h0M287.4 247.7h0M289.1 248.3h0M295.3 247.2h0M283.3 244.8h0M283.5 244.2h0M282.6 243.6h0M290.2 241.7h0M294.8 243.3h0M287 244.7h0M291.9 247.4h0M272.9 242.5h0M284.4 247.9h0M298.1 245.8h0M290.4 245.5h0M295.4 237.3h0M294 230.2h0M287.8 247.4h0M286.8 248.2h0M293.5 245.2h0M288.3 248.7h0M296.9 246.1h0M298.4 244.5h0M290.1 242.8h0M295.5 246.4h0M277.5 243.9h0M280.8 222.8h0M275 244.4h0M286.1 248.1h0M291.8 247.6h0M285.5 238.1h0M295.3 245h0M284 247.2h0M288 248.3h0M293.3 242.8h0M308.3 242.8h0M292.7 243.8h0M284.2 247.2h0M286.6 246.2h0M295.4 243.3h0M284.6 248.2h0M277.8 243.8h0M293.9 227.2h0M283.2 239.9h0M291 243.5h0M284.6 234.8h0M296.7 246.8h0M290.6 239.6h0M290.7 238h0M296.7 245.5h0M283.1 227.4h0M289.5 248.6h0M292.1 237.4h0M286.8 247.2h0M291.2 246.3h0M288.6 247.9h0M279 245.2h0M276.9 245.1h0M301.8 244.8h0M284.9 246.2h0M283.2 247.4h0M291.5 236.5h0M292.8 247h0M283.1 241.5h0M287 248.1h0M297.3 244.7h0M291 241.7h0M284.2 244.5h0M288.6 248.1h0M286.5 248.7h0M291.2 247.2h0M281.2 240.2h0M294 247.4h0M292.3 246.3h0M294.7 246.8h0M294.6 229.5h0M296.6 246.4h0M287.1 247.1h0M278 244.6h0M292.8 237.7h0M290.1 240.3h0M294.6 237.5h0M282.4 243.3h0M284.8 240.6h0M279.6 246.3h0M284.3 241.8h0M293.4 240.1h0M285.7 245.9h0M284.5 242.6h0M300.3 244.4h0M288.6 247.5h0M276.4 245.1h0M283 247.6h0M298.6 244.6h0M284.5 239h0M286.8 248.3h0M298.7 246.2h0M281.6 236.9h0M290.9 247.5h0M294 246.6h0M297.8 245h0M288.5 248.6h0M282.7 247.4h0M293.6 242.6h0M297.3 245.5h0M292.4 245.8h0M280.8 243.1h0M282.6 228.7h0M284 243.8h0M284.5 232.6h0M280 246.8h0M285.8 244.8h0M292.6 247.1h0M287.6 248.4h0M283.8 228.9h0M293.4 238.7h0M294 247.1h0M295.6 243.6h0M283.9 248h0M289.9 243.8h0M289.2 248.1h0M285.5 246.6h0M291.7 241h0M284.4 247.5h0M284.9 234.5h0M284.6 243.7h0M289.2 248.6h0M282.8 239.9h0M284.1 247h0M290.2 244.6h0M299.8 245.2h0M283.8 242h0M285.2 242.3h0M297.5 242.7h0M281.6 236.8h0M282.9 242.1h0M297.6 243.8h0M291.9 247.6h0M285.1 239.4h0M282.9 247.1h0M292 245h0M294.1 244h0M276.8 245.5h0M296 246.5h0M302.1 244.6h0M289 247.1h0M289.1 244.7h0M293.8 242h0M294.1 232.7h0M289.3 244.3h0M288.3 248.5h0M289.9 243.6h0M290.9 245.3h0M285.9 237.7h0M288.9 245.9h0M290.7 246.9h0M294.7 242.7h0M285.4 247.7h0M279.3 246.2h0M281.8 247.2h0M287.1 248h0M283.1 246.2h0M282.6 237.3h0M290.2 245h0M282.5 243.4h0M292.1 245.7h0M291.2 241.9h0M287.9 248.2h0M282.4 246.6h0M277.6 245.7h0M285.7 248.4h0M289.8 245.7h0M288.4 248.5h0M282.8 235.3h0M295.6 231.3h0M286 241.7h0M284.9 247.4h0M292.9 241.7h0M282 234.4h0M289.9 246.9h0M291.8 248.2h0M284.9 241h0M278.3 242.9h0M281.1 246.8h0M279.6 246.2h0M299.4 244.6h0M305.4 244.4h0M288 248.9h0M283.5 237.8h0M284.3 246.5h0M281.1 246.7h0M283.8 237.7h0M282.1 240.6h0M288.9 247h0M272.5 244.5h0M287.7 248.1h0M293.5 240h0M288.5 248.5h0M286.7 247h0M290.1 240.8h0M296.6 244.7h0M300.5 245h0M292 243.7h0M288.3 248.4h0M285 244.2h0M288.9 248.1h0M285 246.2h0M282.6 244.9h0M295.5 242.2h0M285.1 247.4h0M283.7 246.8h0M289.4 247.2h0M290.9 247.6h0M287 247.1h0M282.5 233.2h0M288.1 248.9h0M284.8 240.2h0M283.2 233.2h0M290.7 246.9h0M285.5 246.7h0M289 246.9h0M295.7 246.3h0M300.3 245.9h0M291.1 237.2h0M287.1 246.2h0M288.5 248.3h0M283.7 247h0M289.8 245.2h0M275.8 243.6h0M306.4 242.1h0M284.8 244.7h0M294.3 239.1h0M285.2 246.7h0M287.5 247.3h0M283.9 236.2h0M285.2 247.9h0M289.9 248.1h0M285.9 247.7h0M286.6 248h0M298.4 244.7h0M281.2 246.6h0M293.8 240.2h0M293.4 233.6h0M293.1 246.1h0M283 247.3h0M282.4 247.1h0M282.4 232.2h0M302.4 242.9h0M304.2 243.9h0M297.5 245.9h0M281.3 247h0M304.9 244h0M289.6 245.2h0M294 247h0M282.9 236h0M281.6 246.7h0M276.7 245.1h0M290.9 247.5h0M307.5 242.7h0M283.7 236.4h0M287.2 245.2h0M282.1 237h0M299.8 244.6h0M282.5 247.1h0M288.4 248.7h0M294.6 244.7h0M284.1 231.5h0M286.3 246.5h0M297 243.9h0M283.3 233.3h0M296.3 246.7h0M271.4 241.1h0M283.6 235.3h0M287.4 248.4h0M292.4 242.1h0M290.4 246.8h0M299.9 246h0M285.5 247.9h0M294.5 245.8h0M290.3 247.2h0M286.1 246.3h0M287 248.1h0M280.4 246.8h0M292.4 244.8h0M289.6 243.7h0M284.1 244.9h0M281.2 247.2h0M290.1 247h0M287.4 248h0M291.8 246.8h0M292.3 246.4h0M293.6 246.6h0M288.8 247.9h0M293.6 244.5h0M289.7 248.5h0M287.5 248.8h0M285.2 246.8h0M290.2 248h0M289.7 243h0M292.6 241.8h0M286.2 246.2h0M287.6 248.1h0M269.9 243.1h0M290.7 245.9h0M282.8 246.8h0M288.7 248.7h0M290.4 242.3h0M281.2 243.8h0M286.8 248.6h0M289.6 244.6h0M287.7 248.4h0M292.9 246.7h0M297.9 245.6h0M289.4 246.3h0M283.1 231.9h0M286.1 247.8h0M290.6 248.3h0M298 245.6h0M298.5 245.6h0M290.1 248.2h0M296 243.2h0M291.2 247.2h0M288.6 248.3h0M279.7 244.2h0M281 240.4h0M290 248h0M283.3 246.9h0M286.3 242.5h0M287.6 247.3h0M293.2 241.8h0M288.1 248.6h0M282.8 245.5h0M288.9 246.9h0M286.8 243.2h0M286.1 248.2h0M297.1 244.4h0M287.2 248.3h0M286.6 248.8h0M285.6 246.4h0M283.9 236.8h0M282.4 247h0M290.1 240.8h0M290 242.5h0M284.7 246.9h0M287.1 248h0M282.1 242.8h0M287.5 248.6h0M289.7 248.6h0M289.8 248.6h0M282 232.9h0M284.6 246.3h0M292.5 229.8h0M284.7 247.3h0M286.5 247.1h0M285.2 246.2h0M285.1 246.9h0M284.3 240.8h0M283.4 247.5h0M286.9 247h0M272.9 243.9h0M287.8 247.7h0M291.8 248.1h0M289.4 247.8h0M288 248.6h0M280.6 245.6h0M299.2 244.7h0M289.9 246.4h0M287.5 248.4h0M284.7 243.5h0M283.9 247.4h0M288 247.8h0M281.5 222.5h0M290.4 248.4h0M277.4 245.8h0M287.3 248.9h0M291 247.6h0M283.8 228.8h0M288.2 248.7h0M290.9 241.4h0M305.1 244h0M292.3 247.2h0M285.1 238.7h0M281.7 246.7h0M284.3 236.8h0M293.5 236.5h0M280.9 227.2h0M286.9 248.6h0M293.6 244.6h0M294.4 246.4h0M287.3 248.6h0M283.6 231.7h0M288.6 248.8h0M292.7 229.3h0M288.3 247.9h0M291.2 240.9h0M294 247.4h0M293.8 245.3h0M287.8 248.5h0M279.7 244.5h0M287.2 248.6h0M283.9 245.6h0M293.5 235.1h0M287.3 246.3h0M282.2 234.2h0M286.8 248.4h0M290.1 244.6h0M284 247.6h0M290 247.8h0M292.2 247.2h0M284.9 233.2h0M287.1 245.7h0M278.5 246h0M272.5 242.3h0M285.4 248.2h0M285.4 247.7h0M282 246h0M286.5 247.2h0M294.9 241.3h0M284 247.9h0M287.7 248.1h0M292.7 247.2h0M293.3 246.8h0M287.2 244.5h0M296.5 244.9h0M286.2 245.8h0M295.2 237.1h0M274.1 244h0M299 245.1h0M278.4 246.1h0M285.9 243.2h0M282.5 240.5h0M292.6 247.2h0M289.1 248.5h0M281.2 244.5h0M287.1 247.5h0M276.2 244.4h0M293.3 247.4h0M284.3 247.3h0M287 248.1h0M304.2 242.1h0M294.3 230.7h0M287 247.2h0M295.3 226.1h0M295 247.1h0M292.1 247.4h0M290.7 242.7h0M288.4 248.1h0M283.9 230.4h0M293.3 243.3h0M282.7 230.8h0M286.2 248.4h0M289.4 247.8h0M274.8 244.5h0M295.3 238.3h0M287.1 247.9h0M308.6 243.5h0M287.4 248.5h0M275.3 245.6h0M275.5 242.7h0M281.6 244.8h0M288.3 248.1h0M290 247.2h0M281.5 246.4h0M281.1 243.8h0M283.1 242.7h0M293.8 246h0M293.4 246.2h0M283.6 241.3h0M292 242.4h0M281.1 218.5h0M287.6 246.9h0M298.9 245.7h0M288.2 249.1h0M285.8 245h0M289.2 248h0M299.9 242.8h0M283.4 246.9h0M282.2 240.3h0M294.4 227.8h0M295.7 245.9h0M296.9 245.8h0M282.9 228.6h0M289.1 247.2h0M290.3 247.4h0M287.2 248.4h0M300 245.4h0M294.1 245.9h0M299.5 245.9h0M285.8 247.8h0M290.2 247.1h0M285.8 248h0M285 248.1h0M281.9 242.2h0M294.9 232h0M286.1 248.1h0M286.7 244.3h0M293.6 246.6h0M291.6 247.3h0M287 247h0M287.6 248.5h0M294.4 247h0M294.3 242.6h0M287.2 246.7h0M290 248.1h0M289.3 245.7h0M288.8 247.8h0M283.4 245.3h0M285.4 248.3h0M289.1 248.1h0M283.9 241.4h0M289.8 248.2h0M289.1 247.9h0M294.8 247.3h0M290.4 242.5h0M270.9 243.4h0M286.1 245.2h0M290.9 247.5h0M289.2 248.1h0M283.3 245.1h0M289.5 246h0M281.2 244.8h0M300.3 245.4h0M307.6 243.8h0M293 240.6h0M291.8 247.1h0M297.8 243.2h0M294.4 246.6h0M286.2 242.4h0M281.5 234.7h0M295.2 246.8h0M286.4 241.9h0M289.4 246h0M293.5 228.9h0M286.2 245h0M291.2 244.3h0M295.4 246h0M289.1 248.5h0M292.9 247.3h0M291.1 238.2h0M281.7 245.1h0M287.5 248.4h0M287.7 248.4h0M281.7 246.5h0M289.8 245.8h0M289.7 247.9h0M284.4 247.1h0M305 243h0M286 242.3h0M280.3 242.4h0M287.6 247.1h0M281.1 241.3h0M286.2 248.4h0M292.1 246.6h0M277.2 245.2h0M277.3 244.9h0M300.1 245.5h0M293.2 245.6h0M302.1 241.9h0M287.5 245.9h0M282.3 244.6h0M292.2 246.4h0M284.4 235h0M291.6 245.5h0M283.8 242.8h0M291.3 246.7h0M298.1 241.2h0M288.6 248.5h0M282.9 246.5h0M288.9 247.3h0M279.5 241.6h0M285.1 247.8h0M278.4 244.8h0M296.1 245.6h0M287.8 247.8h0M286.9 247.6h0M282.7 232.7h0M286.3 246.8h0M285.3 236.2h0M292.5 231.5h0M282.5 245.5h0M282.1 245.9h0M287.6 248.9h0M288.6 248.1h0M281.7 245.5h0M286.1 243.1h0M292.3 247h0M290.3 243.6h0M293.5 242h0M289.4 242.8h0M289.7 244.6h0M282.2 246.2h0M294.6 241.8h0M292.5 245.9h0M295.8 246.6h0M283.8 246h0M289.5 247.9h0M275.6 242.2h0M282.9 230.4h0M288.4 248h0M290.2 245.7h0M284.9 235.2h0M285.4 247.8h0M299.8 243.1h0M283.5 246.1h0M301.6 244.8h0M293.7 247h0M291 237.3h0M276.1 245.2h0M292 244.9h0M292.7 247.2h0M293.4 247h0M286 246.2h0M297.4 241.5h0M301.7 244.4h0M290.6 238.6h0M293.9 246.8h0M287.1 248.4h0M276.9 245.7h0M297.4 245.3h0M290.8 247h0M301.5 244.3h0M283.2 246.3h0M289.4 248.3h0M295.2 219.5h0M285.6 245.5h0M290.5 244.1h0M290.5 247.9h0M284.6 238.9h0M284.7 247.3h0M303.1 243.8h0M288.1 248.3h0M274.3 242.8h0M300.6 244.3h0M290.2 243.2h0M292 247.6h0M294.6 247.3h0M291.3 245.9h0M285 236.7h0M295.2 237.6h0M288.8 248.4h0M291.5 247.5h0M275.5 242.7h0M285 245.5h0M294.9 246.4h0M286.4 248.6h0M284 233.4h0M284.5 236.1h0M290.3 245.7h0M272.2 244.1h0M290.9 239.8h0M289.4 248.5h0M305.5 241.2h0M288.3 248.4h0M279.3 246.2h0M281.3 235.4h0M285 247.6h0M298.5 242.9h0M292 246.3h0M283.2 236.1h0M290.2 246.2h0M295.6 229.6h0M283.5 247.3h0M280.7 238.3h0M291.6 246.3h0M289.3 246.5h0M298.3 246.2h0M283.1 247.3h0M280.6 246.7h0M282.6 238.8h0M304.7 243.9h0M293.8 247.3h0M285.5 248h0M295.3 237.9h0M289.4 245.6h0M282.8 246.3h0M281.1 233.3h0M292.8 247.3h0M287.6 246.7h0M285.7 248.1h0M299.6 246.1h0M284.3 247.3h0M295.4 246.1h0M285.1 236.8h0M283.9 247.2h0M283.6 247.7h0M286.9 247.9h0M298.7 245.6h0M293.5 241.8h0M288.3 248.4h0M292.2 233.5h0M289.7 244.8h0M288.8 247.6h0M294.1 240.4h0M289.9 244.2h0M284.3 235.9h0M292.3 247.2h0M282.9 247.1h0M292.2 233.4h0M290.4 242.6h0M290.2 247.9h0M282.2 242.1h0M283.5 244.9h0M294.7 237.7h0M279.3 246.5h0M288.9 248.8h0M284.1 245.3h0M286.3 245.4h0M294.6 235h0M287.3 248.7h0M297.9 246h0M297.2 244.4h0M283 246.8h0M299.6 243.4h0M293.7 244.7h0M289.9 244.7h0M300.3 243.6h0M293.6 247h0M288 248.8h0M276.5 244.4h0M287.7 248.4h0M283.1 237.9h0M275.2 244.2h0M293.5 237.7h0M296.3 246.4h0M293.2 242.2h0M282.6 236.1h0M285.2 236.8h0M287 246.7h0M286.4 248.5h0M284.2 247.7h0M289 248.8h0M294.6 239.1h0M292.7 247.9h0M298.5 245.1h0M284.7 246.6h0M298.9 245.8h0M306.2 242.6h0M283.5 243.9h0M283.1 228.9h0M284.9 247.7h0M294.1 246.5h0M295.3 236.1h0M278.5 245.3h0M291.2 247.8h0M272.3 242.7h0M299.1 244.4h0M289.6 243h0M300 242.1h0M290.1 244.2h0M296.4 242.6h0M285.9 245.2h0M294.6 225.1h0M286.4 248.5h0M283.7 247.5h0M283.1 225.7h0M293.8 247.4h0M284.2 236.1h0M289.2 248h0M281.1 246.4h0M291.6 247.9h0M290.4 241.5h0M280.1 241.7h0M297.3 246.1h0M281.4 242.2h0M295.1 242.7h0M279.7 244.4h0M283 225.6h0M285.4 241.4h0M293 247.2h0M291.7 243.1h0M289.3 248h0M286.1 248h0M288.6 248.8h0M294.3 246.9h0M289.3 248.6h0M285.1 239h0M286.2 248.3h0M292.1 245.2h0M282.7 236.6h0M274 241.8h0M282.6 245.3h0M293.9 242h0M284.5 247.8h0M291.5 247.4h0M293.2 229.5h0M287.1 248.8h0M287 246.9h0M293.7 246.4h0M285.8 244h0M283.9 246.6h0M285.1 238.3h0M296.5 246.2h0M282.9 243.6h0M283.9 237.2h0M294.8 245.6h0M286.1 247.5h0M281.6 240.6h0M290.4 243.6h0M292.6 246.9h0M283.3 232.6h0M287.9 247.3h0M274.8 244.6h0M282.7 247h0M285.2 237.5h0M284.6 232.9h0M303.9 244.1h0M289 247.4h0M284.7 248.1h0M281.1 243.3h0M284.2 247.6h0M289.5 245.9h0M289.5 248.6h0M294.1 244.8h0M291.6 247.8h0M283.1 247.2h0M287.1 248.7h0M292.2 246.5h0M286.6 247.8h0M285.4 245.3h0M293.4 239.1h0M284.7 244.1h0M295.7 246.3h0M289.9 248.4h0M284.8 234.4h0M285.5 246.3h0M291.4 245.9h0M283.4 242.2h0M295.7 246.6h0M288.5 248.9h0M300.3 245.5h0M285.5 242.4h0M282.4 246.5h0M292.3 247.9h0M284.2 245h0M292.6 232.4h0M290.5 247.8h0M291.1 247.1h0M291.5 234.6h0M276.2 243.3h0M295.2 227.2h0M288 248.7h0M284.4 248h0M289.4 248.4h0M295.4 219.7h0M291.5 245.5h0M281.5 247.4h0M287.8 248.1h0M286.6 247.8h0M290.6 248.2h0M288.6 248.1h0M290.3 245.6h0M293.4 246.1h0M285.8 239h0M281.2 241.8h0M283.8 247.4h0M294.7 246.4h0M282.2 247.1h0M284.5 234.8h0M274.7 244.1h0M288.6 247.8h0M295.5 233.6h0M302 245.4h0M289.7 248.4h0M306.8 243.3h0M282.2 245.1h0M274.8 245.1h0M285.3 246.1h0M280 246.5h0M281.3 246.6h0M290.2 246.7h0M282.2 226.3h0M280.9 244.1h0M292.3 235.3h0M299.7 241.3h0M291.2 247.7h0M286.3 247.3h0M285.8 244.7h0M284.3 241.8h0M288.2 249h0M295.6 246.8h0M293.8 232.5h0M282.4 240.6h0M300 244.3h0M287.1 243.4h0M287.9 248.3h0M295.6 241h0M295.5 236.3h0M281.2 246.1h0M282.9 245.6h0M287.7 248.5h0M289.5 247.3h0M289.1 245.2h0M278.9 243.6h0M284 247.4h0M278.3 244.8h0M282 240.3h0M288.3 248.7h0M286 248.4h0M278.3 244.9h0M292.3 233.4h0M287.7 247.4h0M293.2 244h0M273.8 244.4h0M290.6 239.9h0M290.9 244.5h0M300.6 245.5h0M289.4 247.9h0M281 235.2h0M299.6 242.4h0M297.2 243.7h0M285.5 247.9h0M291 240.7h0M294 240.4h0M285 239.6h0M307.1 244h0M291.8 240.7h0M293.1 247.3h0M285.1 247.7h0M300.4 245.1h0M292.7 245.1h0M290.7 243.6h0M288.3 248.9h0M288.8 247.9h0M301.5 243.6h0M282.9 246.8h0M285.5 246.8h0M295.7 235.7h0M291.6 246.2h0M281.9 246.3h0M294.2 247.2h0M283.1 239.3h0M286.1 246.4h0M282.8 247.3h0M282.3 225.3h0M280.7 246.5h0M294.5 239.3h0M276.7 245.2h0M285.6 237.6h0M289.7 242.2h0M293.8 236.3h0M295.9 244.1h0M298.8 245.6h0M288.3 248.5h0M291.6 243.5h0M282.2 243.1h0M282.2 244.3h0M293.5 247.5h0M289.3 248.2h0M297.1 241.9h0M287.5 246.7h0M300.9 245h0M289.5 243.3h0M282.8 234.9h0M286 248.3h0M282.6 247.2h0M282 233.9h0M295.5 246.7h0M287.5 245.9h0M273.1 244.7h0M293.6 243.6h0M285.1 246.4h0M293.3 247h0M287.5 247.8h0M301 242.1h0M292.6 247.6h0M280.7 247.1h0M284.9 247.6h0M298.5 246.1h0M287.3 245h0M284.6 247.2h0M293 247.2h0M291.5 246.6h0M301.4 245.4h0M291 247.4h0M278.9 245.6h0M290 244.6h0M285 245.5h0M300.5 245.8h0M299.9 246h0M291 242.1h0M294.8 244.8h0M289.2 247h0M284.1 232h0M284.5 247.6h0M292 232.7h0M287.9 247.6h0M291.9 243.9h0M279.3 246.2h0M286.9 246.1h0M302.2 244.7h0M293.5 245.6h0M286.5 245.3h0M283.7 244.1h0M275.9 245h0M280.8 233.7h0M304.7 244.1h0M294.8 246.1h0M290.5 247.9h0M283.9 244.8h0M278.7 245.4h0M283.3 247.7h0M278.8 245.7h0M290.6 243.9h0M281.7 225.9h0M287.8 247.4h0M290.2 247.4h0M280.3 246.1h0M293.4 247.4h0M291 240.5h0M289.3 244.4h0M277.9 244.9h0M283.7 241.1h0M288.1 248.3h0M290.4 246.5h0M282.9 247.3h0M284 234.4h0M289.6 247.6h0M299.4 244.9h0M282.1 246.8h0M289 247.3h0M284.5 239.9h0M309 241.1h0M293.9 247.1h0M281.7 246.6h0M282.3 240.3h0M281.5 225.3h0M281 246.3h0M285.6 248h0M284 233.1h0M293.7 244.9h0M288.2 249.2h0M291.1 238.5h0M308.5 242.5h0M289.9 248.1h0M288.9 247.9h0M289.2 248.6h0M285.4 240h0M285.2 247.5h0M285.2 236.4h0M291.2 247.2h0M278 244.8h0M290.8 237.6h0M271.1 242.9h0M291.1 248.4h0M284.6 244h0M293.9 235.6h0M289.1 247.5h0M275.2 245h0M296.5 246.5h0M278.8 246.2h0M293.4 244.1h0M284.2 246.9h0M291.1 247.6h0M283.5 238.9h0M284.1 245.5h0M283.3 239.8h0M281.5 230.4h0M287.7 248.6h0M294.2 244.7h0M290.8 243.8h0M297.7 245.5h0M284.6 244.5h0M286.3 248.4h0M284 243.2h0M293.5 230.2h0M294.8 247.2h0M295.2 246.9h0M286.5 245.1h0M286.4 248.7h0M295.5 246.2h0M286 248h0M283 229.9h0M292.4 240.1h0M295.6 242.9h0M281.5 247h0M299.1 245.6h0M294.6 225.9h0M285 246.3h0M284 239.9h0M295.1 238h0M291.3 248.2h0M293.5 241.2h0M291.5 241.6h0M294.7 237.1h0M283.8 233.3h0M287.8 248.5h0M283.6 230.4h0M291.7 244.2h0M278.8 241.2h0M295.6 246.3h0" stroke="#b8b8b8" stroke-width="1.7" stroke-linecap="round"/>
<path d="M275.6 228.1h0M279.1 230.3h0M258.7 193.9h0M277.3 234.4h0M267.5 171.1h0M272.6 221.5h0M269.5 204.3h0M278.1 221.2h0M275.5 235.6h0M277.8 221.5h0M277.9 230.9h0M261.8 236.6h0M275.2 236.4h0M278.2 215.5h0M280.5 229h0M268.8 205.8h0M268.9 221.6h0M261.4 187.6h0M277.5 226.2h0M272.3 212.2h0M279.4 227.3h0M275.7 224h0M278.4 235.4h0M279.1 236.8h0M278.5 241h0M278.1 233.6h0M274.2 238.6h0M271.1 240.7h0M276.2 223.4h0M273.8 216.8h0M268.4 231h0M279.8 223.6h0M269.1 231.1h0M273.3 237.4h0M267.6 235.2h0M276.2 238.1h0M266.3 236.1h0M280.5 235.5h0M273.6 236.9h0M279.3 224.6h0M273.8 237h0M272.6 229.7h0M277.7 213.8h0M267.4 232.4h0M270.2 233.9h0M271 228h0M280 234.8h0M278.1 226.3h0M274.1 238.9h0M275 221h0M266.5 227.3h0M270.8 230.1h0M263.4 237.5h0M277.9 221.6h0M277.8 228.8h0M273.4 221.1h0M280.3 230.8h0M265.9 239.4h0M274.5 237.3h0M272 228.1h0M268.3 240.8h0M270.1 239h0M270.4 236.6h0M272.8 211.9h0M279.3 228.3h0M271.1 205.5h0M273.5 211.2h0M279.3 240.4h0M278.6 229.1h0M280.6 233.1h0M277 232.1h0M266 228h0M279.2 217.8h0M279.5 221.4h0M262.6 193.2h0M268.6 223.4h0M264.6 169.4h0M279.4 221.4h0M277 236.3h0M267 222.2h0M276 238.3h0M275.1 219.1h0M276.2 238.4h0M273.8 236.9h0M278.9 231.6h0M277.8 233h0M264.4 194.4h0M269.1 240.3h0M257.7 213.3h0M277.9 240.4h0M272.9 240.6h0M274.6 230.4h0M277.2 215.2h0M276 227.2h0M250.7 233.5h0M278.9 234.1h0M278.7 236.5h0M277.8 231h0M275.7 231.9h0M275.8 239.8h0M277.1 229h0M270.7 238.1h0M273.8 177.2h0M267.8 217.2h0M273.9 234.1h0M272.8 239.7h0M278.6 229h0M279.6 223.9h0M280.3 239h0M273 231.4h0M279.8 236.7h0M279.4 230.6h0M276.4 183.2h0M279.2 230h0M273.3 234.1h0M268.6 229.1h0M272 240.7h0M268.5 225.4h0M272.8 233.5h0M262.2 195.2h0M279.5 225.7h0M276.7 239.3h0M266.8 230.9h0M279.4 231.7h0M279.4 239.4h0M275.3 222.2h0M280.7 239.4h0M268.7 232.8h0M275.3 232.4h0M272 239.1h0M278.4 236.5h0M278.1 239.2h0M273.3 216.8h0M280.3 232.6h0M275.5 234.4h0M275.4 226.6h0M270 240.4h0M273.9 236.6h0M278.2 223.1h0M268.9 237.5h0M278 215.4h0M279.6 236.9h0M275.3 231.2h0M277.2 225h0M280.6 228.9h0M279.6 232.2h0M255.5 238.2h0M270.3 204.3h0M269.4 235.1h0M273.5 240.4h0M274.6 238.9h0M279.5 239.7h0M279 228.7h0M275.1 228.7h0M267.5 214.1h0M260 184.4h0M273.4 222.4h0M274.7 230.1h0M264.4 237.7h0M272.6 219.2h0M278.4 240.3h0M270.1 236.3h0M278.5 240.9h0M273.9 234.9h0M268.1 220.3h0M271.6 234.1h0M276.5 223.2h0M271.5 217.6h0M280.5 231.9h0M279 237.9h0M279 234.9h0M275.2 218.6h0M279.3 229.9h0M280.6 227.5h0M280 240.7h0M277 222.6h0M278 213.4h0M275 240.7h0M277.5 231.7h0M279.2 234.5h0M278.5 218.2h0M276.4 205.2h0M280.1 223.1h0M276.7 238.4h0M258.5 241h0M272.8 225.1h0M276.8 222.2h0M277.9 230.8h0M273.9 241h0M279.8 222h0M280.6 237.1h0M280.3 240.3h0M274.2 236.4h0M267 230.4h0M275.9 221h0M280.4 238.7h0M276.6 228.1h0M276.6 223.8h0M271.6 238.2h0M280.5 223.5h0M272.1 237.2h0M279.1 227.7h0M279.6 234.4h0M277.9 239.6h0M275.7 231.7h0M275.8 232.7h0M274.3 240.1h0M279.5 221.8h0M262 230.7h0M275.5 236.6h0M269.6 218.8h0M275.6 240.9h0M279.1 228.8h0M272.6 228.4h0M277.8 219.8h0M279.1 221h0M276.4 221.5h0M279.2 229h0M280.2 237.7h0M280 223.3h0M278.5 221.6h0M271.4 215.8h0M278.3 232.5h0M275.1 236.1h0M268.5 225.9h0M269.6 221.7h0M269.4 227.5h0M267.5 239.1h0M272.1 209h0M274.2 217.5h0M273.9 240h0M270.1 208.2h0M272.3 239.7h0M279.4 227.5h0M278 221.7h0M270.6 214.3h0M266 223.7h0M275.3 237.2h0M269.5 230.1h0M279.6 230.8h0M270.3 210.2h0M275 240.3h0M275.4 240.6h0M265.8 238.7h0M278.4 215.7h0M273.2 219h0M277.5 240.3h0M267.1 223.2h0M278.6 236.2h0M277.4 228.2h0M254.9 215.2h0M272.2 222.9h0M277.1 240.1h0M278.5 232.8h0M276.4 235.2h0M277.2 219.1h0M278.8 235.9h0M260.2 205.9h0M279.4 233.6h0M269 238.2h0M277.3 238.3h0M276.7 235.7h0M278.8 237.1h0M279.3 233.5h0M276.5 237.9h0M276.2 226.6h0M279 240.4h0M279.7 219.6h0M274.2 232.1h0M263 214.7h0M275 240.6h0M264.1 221.1h0M276.2 237.2h0M274.2 216.2h0M273.5 239.5h0M277 212.1h0M279.1 238.5h0M278.6 216.6h0M275 229.9h0M275.9 224h0M275.6 237.1h0M279.9 236.4h0M277.7 237.8h0M268.5 211.9h0M276.8 238.7h0M279.1 210.7h0M280.4 233.4h0M278.2 233.1h0M268.5 233.4h0M279.5 204.4h0M272.8 233.3h0M272.4 226.1h0M275.6 240.9h0M276.7 240h0M278.4 231.6h0M256.5 239.9h0M276.5 240.9h0M279.5 219.7h0M276.9 235.4h0M276.5 232.7h0M278.5 227.7h0M273.5 221.4h0M267.2 225.4h0M269.8 217.7h0M268.9 204.6h0M275.8 236h0M277.5 216.6h0M277.6 231.3h0M275 239.1h0M277.8 238.3h0M278.4 214.7h0M278.4 237.3h0M278.7 233.9h0M272.7 230.9h0M276 234.5h0M276.4 225.8h0M276.4 233.8h0M269.9 239.1h0M271 231.1h0M272.7 239.8h0M276.3 228.6h0M274.6 234.9h0M272 240.8h0M277.5 226.6h0M277.9 219.9h0M276.6 236.9h0M275.9 226.5h0M275.5 236.3h0M280.3 226.7h0M279.5 229.4h0M278.4 241h0M271.5 215.2h0M276.5 220.2h0M280.5 236.6h0M280.7 225.3h0M278.8 215.8h0M277.8 223.9h0M275.7 239.9h0M271.1 205.7h0M276.9 236.1h0M277.2 220.9h0M277.6 231.2h0M276.6 239h0M278.5 235.7h0M278.9 228.5h0M270.1 238.5h0M273.7 233.1h0M276.1 240.5h0M277.8 212.1h0M272.1 228.2h0M279.3 224.8h0M273.9 231.9h0M275.8 240.5h0M275.5 228.9h0M277.8 212.2h0M277 228.5h0M278.8 219.5h0M277 223.5h0M275.8 225.8h0M280.2 226.4h0M280.2 231.2h0M280.6 229.1h0M271.8 208.2h0M276.6 232.5h0M278 237.5h0M264.9 209.7h0M280.4 240.6h0M270.2 216h0M260.5 240.4h0M272 225.5h0M279.4 221.4h0M280.1 232.7h0M261.8 192.4h0M280.6 225.2h0M280 229.9h0M270.3 208.8h0M276.7 239.7h0M272.1 232.5h0M279.5 222.7h0M267.9 214.1h0M275.6 240.4h0M280.2 219.2h0M277.8 235.6h0M275.9 233.6h0M280.5 224.8h0M277.5 207.6h0M276.3 232.4h0M276.4 239.4h0M278.5 240.1h0M278.8 240.1h0M279.1 229h0M273.7 232.8h0M279.1 232.8h0M280.1 233.3h0M275.7 221.6h0M279.5 222.2h0M274.1 232.9h0M276.7 237.3h0M275.7 223.3h0M273.1 231.3h0M279.2 219.6h0M269.6 213.9h0M269.7 228.2h0M277.6 237.8h0M276.9 237.9h0M269.3 223.9h0M276.8 214.5h0M280 220.6h0M279.2 240.8h0M273.3 224.7h0M276.6 238.1h0M266.8 240.1h0M269.3 229.8h0M266.8 227.3h0M279.5 223h0M261.8 215.6h0M275.5 236.2h0M276 219.1h0M270.8 228.7h0M275.8 234.5h0M275.8 228.4h0M279.7 218.7h0M280.5 229.1h0M271.9 236.3h0M272 235.4h0M267.8 239.3h0M267.5 217.3h0M278.4 239.1h0M274.1 234.9h0M275.8 234.7h0M279.2 238.9h0M263.6 231.4h0M276.7 219.2h0M272.5 238.9h0M275 212.8h0M270.2 239.9h0M268.3 200.1h0M265.7 223.2h0M278.6 225.5h0M274.2 239.7h0M280.3 233.4h0M273.7 237h0M277.8 232.9h0M271.9 222.4h0M280.5 230.1h0M278.3 236.7h0M277.7 211.8h0M273.6 223.8h0M279.7 223.1h0M276 233.7h0M273.3 235.6h0M279.2 206.5h0M280 225.2h0M276.3 228.1h0M264 240.9h0M276.6 219.1h0M275 220.7h0M279.2 231.7h0M279.8 224.7h0M279.8 235.3h0M279.8 234.8h0M277 233.6h0M271.3 236.3h0M278.3 218.4h0M278.8 237.8h0M277.7 221.9h0M271.5 216.6h0M277 233h0M277.3 217.2h0M276.6 225.6h0M274.7 233.5h0M274.6 232.2h0M271.1 224.4h0M277.7 240.9h0M274.9 232.6h0M274.4 235.3h0M279.2 239.5h0M278.5 236.7h0M280.7 235.8h0M276.1 227.3h0M269.5 210.4h0M275.4 240.6h0M279.5 216.6h0M271.1 230.1h0M279.4 236.6h0M276.6 234.8h0M277.8 238.5h0M273.1 218h0M276.1 231.9h0M269.5 232.5h0M268.8 240.8h0M280.1 229.3h0M278.4 240.5h0M279.2 224.8h0M278.3 238.1h0M275.8 214h0M280.2 239.7h0M275.1 234.3h0M275.7 234.8h0M275.1 206.5h0M278.4 239.1h0M274.9 221.4h0M278.8 236.6h0M275.7 235.5h0M279.8 232.3h0M279.3 217.7h0M273.5 229.3h0M279.4 235.1h0M278.8 238.1h0M279 235.8h0M278.2 239.7h0M272.6 220.8h0M276 234h0M275.5 239.4h0M276.9 217.7h0M280.6 224.9h0M266 224.7h0M276.7 239.8h0M277.5 238.9h0M272.3 177.5h0M277.2 240h0M279.7 221.2h0M276.9 232h0M269.4 208.5h0M277 219.2h0M275.8 236.9h0M273.7 238.1h0M275.1 199.9h0M272.2 211.3h0M275.7 235.7h0M271 235.3h0M267 237.5h0M280.3 220h0M273.2 237.2h0M279.1 235.7h0M279.9 240.5h0M274.7 240h0M279 240.5h0M280.7 238.1h0M266 193.7h0M280.4 223.4h0M280.6 232.4h0M280.3 236.8h0M278.3 240.5h0M277.3 229.5h0M279.4 218.7h0M268.7 240.6h0M273.7 222.6h0M279.6 230.4h0M268.9 201.7h0M279.8 232.3h0M279.3 219.1h0M277.9 225h0M273.9 230.6h0M277.1 232.7h0M279.4 240.8h0M279.7 221.3h0M277.8 236.2h0M278.2 225.3h0M280 231.8h0M277.2 231.7h0M271 222.5h0M280.1 226.1h0M271.7 231.6h0M272.9 238.8h0M273.9 185h0M278.9 227.4h0M277.8 229.3h0M271.7 223.2h0M276.3 218.3h0M280.6 236h0M276.7 237.3h0M280.6 236.6h0M262.3 229.6h0M269 229.7h0M262.5 225.7h0M279 233.3h0M280.2 233.2h0M271.6 213.5h0M278.8 223.9h0M279.1 239h0M278.9 221.9h0M256.5 179h0M279.3 220.8h0M276.2 237.5h0M270.2 232.3h0M277.7 232.4h0M276.5 235.9h0M274.8 239.9h0M275.1 221.4h0M274.8 230.2h0M269.3 224.7h0M277.9 239.9h0M277.7 230.2h0M276.4 223.3h0M276.9 224.8h0M275 227.3h0M278.5 218.9h0M276 231.5h0M280.1 225.7h0M273 213.5h0M275.3 218.5h0M277.9 211.7h0M278.5 235.9h0M276.5 235h0M280 235.8h0M276.6 233.8h0M261.4 227.7h0M279.4 221.4h0M279.6 238.1h0M280.1 233.7h0M277.9 237.6h0M278.7 214.2h0M277.5 231.6h0M278.4 227.3h0M276.8 240.3h0M272.3 238.4h0M268.5 240.8h0M273.8 237h0M264.8 232.3h0M278.3 220.2h0M269 225.1h0M271.8 213.8h0M278.6 220.2h0M277.6 227.8h0M271.3 241h0M277.9 222.9h0M279 234.5h0M278.4 226.4h0M278 232h0M275.5 231.2h0M278.5 225.3h0M270.3 241h0M277.6 237h0M280.3 240.9h0M273.2 236.9h0M270.8 237.8h0M280.4 236.7h0M278.6 218.7h0M265.5 239.1h0M279.9 233.7h0M278.3 214.6h0M278 227.2h0M275.8 236.4h0M273 211.5h0M268.3 203.3h0M279.3 201.3h0M270.7 218.2h0M279.5 231.5h0M280.4 222.8h0M247.2 214.7h0M253.6 220.4h0M257.5 228.5h0M270.3 166.4h0M272.8 171.5h0M276 171.5h0" stroke="#4eb3e4" stroke-width="1.8" stroke-linecap="round"/>
<path d="M306.5 235.6h0M309.2 169.3h0M296.5 228.2h0M302.9 219.1h0M300.1 228.3h0M301.2 231.3h0M298.7 221.3h0M297 240h0M296.6 240.2h0M298.7 233.3h0M308 214.4h0M302.6 238.8h0M300.7 222h0M313.4 218.1h0M309.6 206.8h0M296.7 229.1h0M309.7 187.7h0M298.2 234.1h0M297.9 217h0M313.8 196.4h0M297.3 226.2h0M309.5 220.9h0M303.5 217h0M300.1 220.7h0M303.8 215.2h0M300.8 205.5h0M303.9 220.6h0M300.3 215h0M298.3 216.3h0M298.9 229.4h0M299.6 234h0M296.6 236h0M302.3 225.9h0M299.4 217.2h0M298.6 236.4h0M300 239.2h0M307.3 240.1h0M304 233h0M305.5 212h0M302.1 222.5h0M319.5 240.7h0M301.3 225.8h0M307.3 236.7h0M302.6 227.4h0M296.6 238h0M298.5 219.7h0M300.6 223h0M304.3 236.4h0M303.4 240.8h0M300 235.4h0M315.2 213h0M300.5 209.3h0M300.2 239.8h0M299.7 236.9h0M314 240.8h0M301.9 238.8h0M310.1 223.6h0M297.2 234.6h0M296.8 238.9h0M304.5 218.1h0M302.7 231.9h0M301.7 234.2h0M296.9 234.1h0M302.6 238.1h0M297.7 230.4h0M304.4 212.8h0M300.2 210.4h0M298.3 233.4h0M296.6 240.6h0M303 224.6h0M308 237.3h0M310.4 217.1h0M296.5 226h0M300.7 232.5h0M301.3 223.6h0M302.9 236.5h0M297.3 234.6h0M320.2 223.1h0M297.1 224.5h0M305.5 214.4h0M301.6 232.8h0M302.1 223.3h0M300.6 236.9h0M298.6 240.1h0M297.9 235.3h0M299.8 229.2h0M321.1 232.3h0M299.7 213.4h0M305.4 219h0M299.2 239.7h0M300.8 234.2h0M304.7 214.6h0M299.5 225.3h0M299.1 234h0M298.9 231.5h0M323.1 240.5h0M299.2 212.3h0M307.8 240.8h0M297.7 219.3h0M304.8 223.1h0M299.7 214.3h0M298.2 217.6h0M302.5 238.9h0M307 240.8h0M312.5 204.1h0M297.5 220.8h0M301.9 240.3h0M312.5 239.9h0M300.7 234.7h0M299.5 216.7h0M297.6 240.3h0M298.4 224.4h0M302 227.8h0M300.4 240h0M296.8 230h0M301 231.6h0M298.1 221.5h0M299.5 232.9h0M299.4 235.6h0M297.5 226.4h0M299.4 232.7h0M296.4 236h0M296.7 237.9h0M300.6 236.3h0M299.5 229.4h0M302.1 239.9h0M303.6 229.4h0M300.1 237.7h0M299 215h0M296.9 237h0M297.1 240.9h0M297.1 238.3h0M309 233.3h0M302 233.4h0M296.7 239.3h0M310.1 229.3h0M301.5 219.6h0M296.6 236.6h0M320.6 241h0M305.8 234.3h0M299.9 239.3h0M299.9 225.3h0M296.6 224.4h0M296.5 231.5h0M297.5 238.8h0M296.4 233.6h0M301.5 238.7h0M306.2 165.1h0M298.6 230.1h0M308.2 204.6h0M303 235.6h0M304.8 232.5h0M302.9 238.4h0M298.5 230.8h0M299.4 222h0M315.9 238.9h0M299 238.9h0M298.9 218.1h0M297.6 230.2h0M303.7 223.8h0M305.6 234.5h0M299.7 236.6h0M302.6 237.8h0M299.2 237.6h0M304.7 222.1h0M297 231.6h0M301.5 235h0M299.6 220.6h0M296.4 229.2h0M305.4 238.6h0M296.9 234.8h0M303.8 222.9h0M305.8 206.6h0M297.9 232.9h0M306.9 225.3h0M305.4 230.6h0M299.6 215.4h0M299.5 237.1h0M307.7 224.5h0M299.1 238.7h0M298.7 229.8h0M324.2 237.4h0M297.6 230.1h0M305.1 240.3h0M297.3 240.7h0M303.4 238.3h0M298.9 235.9h0M308.7 202.7h0M297.1 225.3h0M297.1 233.8h0M297.5 239.7h0M307.4 216.5h0M298.6 224.3h0M301 227.4h0M308.5 239h0M306.4 221.2h0M299.2 234.2h0M302.9 177.8h0M299.6 215.7h0M297.4 235.1h0M296.7 237.3h0M300.6 214.3h0M300.9 240.8h0M321.6 183.1h0M302.8 222.7h0M304 239.5h0M302.4 232.2h0M312.3 211.5h0M297.1 236.3h0M304.1 213.9h0M306.2 224.7h0M312.6 206.5h0M301.9 221.3h0M296.7 236.7h0M304.4 213.2h0M296.9 239.3h0M300.8 239.7h0M299 236.9h0M299.3 239.1h0M308 165.1h0M300.6 232.2h0M298.2 239.2h0M308.6 233.2h0M307.7 214.3h0M301 230.3h0M306.7 183.9h0M299.5 239.9h0M304.3 240.1h0M301.9 230.7h0M311.5 237.2h0M304.5 165h0M300.6 209.7h0M304.1 240.8h0M296.5 230.1h0M296.4 241h0M298.1 229.6h0M302.2 221.8h0M297.8 231h0M299.8 234h0M303.6 234.4h0M306.1 236.8h0M303 237.5h0M315.5 224.8h0M306.9 226.7h0M307.5 235.4h0M307.4 222.5h0M296.8 232.9h0M298.3 236.9h0M296.7 220.4h0M310.9 234.9h0M303.6 225.1h0M297.6 239.9h0M298.8 233.9h0M297.1 239.4h0M296.3 226.3h0M299.4 233.7h0M299.4 238.1h0M304.3 222.4h0M305.8 223.7h0M307.6 236.7h0M302.6 234.6h0M312 223.3h0M297.8 224.6h0M300.1 230.1h0M303.7 186.5h0M299.2 216h0M296.6 226.5h0M296.4 232.4h0M310.1 226.4h0M297.9 229.6h0M296.7 226.3h0M297.9 233.2h0M302.3 239.5h0M298.7 216.2h0M296.6 233.8h0M300.3 237.1h0M304.5 213.3h0M316.3 199.6h0M298.5 233.7h0M300.5 239.3h0M306.8 227.3h0M298.8 230.9h0M299.4 227.6h0M312.9 222.7h0M298.6 234.5h0M297.7 237.9h0M301.6 232h0M300.1 236.3h0M299.9 223.9h0M300.1 232.1h0M298.4 228.9h0M300 236.4h0M305.6 238.7h0M302.3 239.9h0M309.2 236.5h0M297.4 236h0M300.8 220.4h0M298 218.4h0M298.8 232.3h0M297.7 230.1h0M301.8 223.8h0M297.6 240.6h0M301.2 229.4h0M302.5 224.2h0M315.8 240.7h0M309.6 223.5h0M301.6 231.5h0M307.8 208.9h0M299.3 224.5h0M300 224.2h0M311.6 238.2h0M301.1 227.7h0M297 222.6h0M298.9 235.8h0M300.3 225.9h0M301.2 240.1h0M302.6 220.4h0M304.7 228.8h0M307.6 213.6h0M303.3 222.4h0M314.2 189.7h0M300.2 217h0M299.5 222.9h0M311.8 231.4h0M308.3 239.1h0M304.4 231.4h0M300.8 237h0M296.5 238.5h0M300.5 207.7h0M311.3 210.5h0M299.1 237.5h0M307.8 230.4h0M302.3 239.8h0M309.6 211.2h0M296.6 236.8h0M297.7 239.9h0M297.5 199.6h0M316.1 194.4h0M302.5 239.7h0M298.8 241h0M298.1 235.2h0M310.1 231h0M300.5 226.1h0M299 231.4h0M296.8 237.6h0M296.8 238.4h0M296.3 223.5h0M324.4 207.2h0M297.2 240.8h0M298.2 224.4h0M298.9 240.7h0M297.5 227.5h0M298 206.9h0M300.3 230.8h0M300.7 236.2h0M315.5 211.9h0M315.6 199.9h0M306.7 230.5h0M312 203h0M302 241h0M300.6 210.7h0M309.9 225.8h0M300.4 220.1h0M308.8 226.1h0M303.8 216.4h0M296.3 229h0M310 222.8h0M306 235.6h0M300.1 222.8h0M309.9 209.5h0M302.4 240.3h0M296.9 235.9h0M296.3 222.9h0M299.6 229.3h0M306.8 239.6h0M296.4 239.7h0M297.9 221.7h0M299.2 238.4h0M300.2 219h0M301.7 238.9h0M300.3 228.8h0M297 224.3h0M298.4 236.1h0M299.6 218.2h0M298.8 233.5h0M298.8 236.7h0M298.2 198.7h0M297.3 240.9h0M319.7 219.3h0M298.6 232.8h0M303.4 232.1h0M302.1 229.3h0M297.8 238.6h0M296.9 217.8h0M302.5 231.7h0M301.6 228.5h0M314.8 237.9h0M310.7 240.7h0M299.6 239.6h0M308.1 236.8h0M296.7 235h0M303 226.9h0M311.4 210.1h0M300.6 223.7h0M306 238.4h0M305.8 229.8h0M296.6 225h0M301.6 227h0M299.3 217.4h0M296.8 238.2h0M301 235.4h0M311.5 223.2h0M300.7 218.9h0M300.1 223.5h0M301.2 226.7h0M298.4 225.9h0M307.7 232.7h0M301.1 229.9h0M302.4 240.4h0M319.8 214h0M303.2 240.6h0M302.8 238h0M300.5 239.8h0M301.2 227.5h0M302.1 229.2h0M300 220.4h0M297.7 208.3h0M302.8 219.8h0M296.3 231.6h0M296.7 236.1h0M299.3 240.9h0M306.5 210.1h0M299.4 222.9h0M326.7 232.9h0M300.2 228.8h0M301.8 236.4h0M297.5 217.8h0M296.9 220h0M303.4 240.9h0M308.6 210.2h0M296.6 231.7h0M301 234.6h0M302.5 225.6h0M301.2 232.8h0M301.9 237.9h0M300.5 238h0M335.3 203.9h0M299.4 237.3h0M300.6 239.4h0M301.5 187.4h0M318.7 194.2h0M297 238.9h0M297.8 229.6h0M304.3 210.2h0M301.5 231.1h0M297.2 236h0M309.4 210h0M299.3 233.9h0M300.2 236.1h0M304.7 224h0M300.4 209.1h0M297.3 236.5h0M303.8 239.3h0M298.8 230.9h0M299 212.8h0M305.1 239.7h0M301.9 239.2h0M304.3 222.6h0M307 235h0M302 226.1h0M300.5 230.5h0M298.2 214.2h0M304.3 236.3h0M307.9 227.5h0M305.2 216h0M303.7 220.6h0M300.1 218.4h0M296.8 239.1h0M304.3 229.5h0M300.3 237.8h0M307.7 210.8h0M313.1 238.4h0M296.7 240.5h0M300.1 240.1h0M301.2 222h0M296.9 239.9h0M296.8 238.3h0M320.7 190.7h0M297.4 219.2h0M316.3 231.2h0M302.1 231.8h0M305.9 227.4h0M297.3 226.6h0M305.6 237.4h0M296.6 231.8h0M298.4 215.3h0M301.9 232.8h0M303.8 225.4h0M299.4 214.3h0M297.7 225.9h0M300.1 239.3h0M300.4 213.4h0M299.8 233.1h0M297.4 236.5h0M307.2 235.6h0M300.6 224.8h0M296.7 225.4h0M298.3 227.9h0M304.9 220.9h0M297.6 231.9h0M301.4 185.3h0M301 227.4h0M301 231.9h0M296.9 235.3h0M305.2 240.5h0M301.5 237h0M299.1 238.9h0M314.6 212.2h0M310.4 205.2h0M300 237.3h0M300.6 213.8h0M310 228.2h0M302.2 236.7h0M296.6 229.1h0M299.3 216.9h0M297.9 227.6h0M306.7 205.4h0M299 216.5h0M300.6 240.4h0M303.9 216.4h0M304.7 239.5h0M297.7 232.2h0M304 230.8h0M297.3 240.8h0M296.5 224.8h0M305 240.3h0M296.4 237.8h0M298.5 232.9h0M297.1 240.3h0M299.4 230.3h0M303.4 233.6h0M297.8 228.4h0M302.4 232.3h0M302 237.2h0M306.1 213.7h0M304 236.5h0M299.9 231.1h0M303.2 226.9h0M297.8 234.9h0M301.3 230.7h0M306.3 236.7h0M298.5 222.5h0M299.5 232.5h0M303.4 219.4h0M307.1 233.3h0M313.7 228.2h0M296.4 238.7h0M296.7 240.6h0M303.7 235.6h0M299 237.2h0M298 225.3h0M296.5 230.8h0M305.8 217.1h0M298.1 234.3h0M300.1 238.2h0M305.4 221.5h0M303.3 172.2h0M298.5 238.8h0M302.1 239.8h0M297.1 222.8h0M298.6 230h0M299.5 220.2h0M316.2 236.5h0M299.4 232.1h0M301.9 236.8h0M309.6 226.7h0M302.1 226.5h0M299.1 216.9h0M299.9 240h0M302.6 219.2h0M301.7 227.5h0M296.8 231.3h0M310.4 215.4h0M304.3 227.5h0M301.2 233.7h0M300.7 194.1h0M296.3 231h0M302.7 227.3h0M296.6 239.7h0M304.3 223.4h0M299.8 222.7h0M297.5 219.5h0M298.5 240.6h0M302 235.5h0M297.5 234.9h0M296.8 223.6h0M298.1 231.9h0M304.4 214.9h0M311.7 232.2h0M303.4 233.3h0M307.5 226.3h0M299.5 235.3h0M302 239.8h0M304 238.6h0M322 232.7h0M303.9 219.7h0M297.9 224.2h0M298.5 214.6h0M305.5 220.6h0M304.9 225.3h0M303.4 238.3h0M301.2 223.5h0M307.4 233.9h0M296.3 230.7h0M301.9 229.8h0M307.9 236.2h0M314.9 240.8h0M306.3 225.3h0M296.7 226.7h0M297.6 213.8h0M315.4 182.5h0M309.6 240h0M301 232.8h0M300.9 234.8h0M298.8 231.4h0M298.4 225.8h0M302.7 235.2h0M304 231.2h0M331.9 239.5h0M298.7 236.9h0M296.9 219.8h0M303.3 233.1h0M296.8 232.5h0M300.1 222.7h0M303.3 222.8h0M301.6 240.9h0M302.4 171.3h0M320.5 220.4h0M303.1 220.5h0M297.6 241h0M299.6 240.8h0M302.5 239h0M302.1 239.7h0M296.4 228.9h0M306 229.5h0M296.3 238.5h0M299.4 219.6h0M310.2 223h0M296.5 224.7h0M304.9 202.2h0M298.7 233h0M297.9 236.3h0M311.6 237h0M296.4 234.9h0M310 223.8h0M299.6 239.4h0M301.8 233.4h0M301.5 235h0M302.3 240.6h0M299.3 229.2h0M297.6 222.1h0M296.6 234.9h0M296.9 225.6h0M300.6 234.9h0M314.7 238h0M302.1 238.5h0M308.2 188.3h0M335.6 226h0M325.3 212.8h0M317.6 175.2h0M310 180.2h0M303.6 160.8h0M306.1 167.1h0M325.3 230.4h0" stroke="#e8482a" stroke-width="1.8" stroke-linecap="round"/>
<line x1="280.7" y1="150.5" x2="280.7" y2="254.2" stroke="#666" stroke-width="0.7" stroke-dasharray="3 2"/>
<line x1="295.7" y1="150.5" x2="295.7" y2="254.2" stroke="#666" stroke-width="0.7" stroke-dasharray="3 2"/>
<line x1="231.3" y1="241" x2="344.5" y2="241" stroke="#666" stroke-width="0.7" stroke-dasharray="3 2"/>
<rect x="231.3" y="150.5" width="113.2" height="103.7" fill="none" stroke="#333" stroke-width="0.9"/>
<line x1="229.3" y1="249.2" x2="231.3" y2="249.2" stroke="#333" stroke-width="0.6"/>
<text x="228.7" y="251.8" font-size="7.2" text-anchor="end" fill="#1f1f1f">0</text>
<line x1="229.3" y1="217.8" x2="231.3" y2="217.8" stroke="#333" stroke-width="0.6"/>
<text x="228.7" y="220.4" font-size="7.2" text-anchor="end" fill="#1f1f1f">5</text>
<line x1="229.3" y1="186.5" x2="231.3" y2="186.5" stroke="#333" stroke-width="0.6"/>
<text x="228.7" y="189.1" font-size="7.2" text-anchor="end" fill="#1f1f1f">10</text>
<line x1="229.3" y1="155.1" x2="231.3" y2="155.1" stroke="#333" stroke-width="0.6"/>
<text x="228.7" y="157.7" font-size="7.2" text-anchor="end" fill="#1f1f1f">15</text>
<line x1="237" y1="254.2" x2="237" y2="256.2" stroke="#333" stroke-width="0.6"/>
<text x="237" y="263" font-size="7.2" text-anchor="middle" fill="#1f1f1f">-4</text>
<line x1="262.6" y1="254.2" x2="262.6" y2="256.2" stroke="#333" stroke-width="0.6"/>
<text x="262.6" y="263" font-size="7.2" text-anchor="middle" fill="#1f1f1f">-2</text>
<line x1="288.2" y1="254.2" x2="288.2" y2="256.2" stroke="#333" stroke-width="0.6"/>
<text x="288.2" y="263" font-size="7.2" text-anchor="middle" fill="#1f1f1f">0</text>
<line x1="313.8" y1="254.2" x2="313.8" y2="256.2" stroke="#333" stroke-width="0.6"/>
<text x="313.8" y="263" font-size="7.2" text-anchor="middle" fill="#1f1f1f">2</text>
<line x1="339.4" y1="254.2" x2="339.4" y2="256.2" stroke="#333" stroke-width="0.6"/>
<text x="339.4" y="263" font-size="7.2" text-anchor="middle" fill="#1f1f1f">4</text>
<text x="290.5" y="271.3" font-size="8.6" text-anchor="middle">log2 Fold change</text>
<text x="217.3" y="200" font-size="8.6" text-anchor="middle" transform="rotate(-90 217.3 200)" dy="3">-lg <tspan font-style="italic">p</tspan> value</text>
<text x="255.3" y="158.7" font-size="6.2" text-anchor="middle" fill="#5bb8e8">Down-regulated</text>
<text x="255.3" y="166" font-size="6.4" text-anchor="middle" fill="#5bb8e8">829</text>
<text x="319.7" y="158.7" font-size="6.2" text-anchor="middle" fill="#e5535f">Up-regulated</text>
<text x="319.3" y="166" font-size="6.4" text-anchor="middle" fill="#e5535f">651</text>
<text x="365" y="9.5" font-size="11" font-weight="bold" fill="#000">d</text>
<circle cx="448.5" cy="81.7" r="33.2" fill="#b5e4ea"/>
<circle cx="435.9" cy="48.9" r="12.4" fill="#d9c8e1"/>
<circle cx="409" cy="81.3" r="11.2" fill="#e5cfb3"/>
<g clip-path="url(#cbig)">
<circle cx="435.9" cy="48.9" r="12.4" fill="#c7d7e3"/>
<circle cx="409" cy="81.3" r="11.2" fill="#c9dccf"/>
</g>
<circle cx="448.5" cy="81.7" r="33.2" fill="none" stroke="#ffffff" stroke-width="0.9"/>
<circle cx="435.9" cy="48.9" r="12.4" fill="none" stroke="#ffffff" stroke-width="0.9"/>
<circle cx="409" cy="81.3" r="11.2" fill="none" stroke="#ffffff" stroke-width="0.9"/>
<text x="440.3" y="35" font-size="8.6" text-anchor="middle">Down-regulated</text>
<text x="391.5" y="68.3" font-size="8.6" text-anchor="middle">Up-regulated</text>
<text x="433.5" y="47" font-size="6.6" text-anchor="middle" fill="#1f1f1f">508</text>
<text x="438.5" y="58.4" font-size="6.6" text-anchor="middle" fill="#1f1f1f">321</text>
<text x="405.9" y="83.8" font-size="6.6" text-anchor="middle" fill="#1f1f1f">555</text>
<text x="417" y="83.8" font-size="6.6" text-anchor="middle" fill="#1f1f1f">96</text>
<text x="449.1" y="83.5" font-size="8.7" text-anchor="middle">ChIP-seq</text>
<text x="448" y="90.8" font-size="6.6" text-anchor="middle" fill="#1f1f1f">5520</text>
<text x="364.5" y="142.8" font-size="11" font-weight="bold" fill="#000">e</text>
<line x1="428.7" y1="150" x2="428.7" y2="254.3" stroke="#d8d8d8" stroke-width="0.6" stroke-dasharray="1.2 1.6"/>
<line x1="441.2" y1="150" x2="441.2" y2="254.3" stroke="#d8d8d8" stroke-width="0.6" stroke-dasharray="1.2 1.6"/>
<line x1="453.7" y1="150" x2="453.7" y2="254.3" stroke="#d8d8d8" stroke-width="0.6" stroke-dasharray="1.2 1.6"/>
<line x1="394.2" y1="202.6" x2="488.1" y2="202.6" stroke="#dddddd" stroke-width="0.5" stroke-dasharray="1.5 1.5"/>
<line x1="394.2" y1="250" x2="488.1" y2="250" stroke="#dddddd" stroke-width="0.5" stroke-dasharray="1.5 1.5"/>
<line x1="394.2" y1="155.2" x2="488.1" y2="155.2" stroke="#dddddd" stroke-width="0.5" stroke-dasharray="1.5 1.5"/>
<path d="M394.8 250 L395.2 250 L396.3 250 L397.3 250 L398.4 250 L399.5 250 L400.5 250 L401.6 250 L402.7 250 L403.8 250 L404.8 250 L405.9 250 L407 250 L408 250 L409.1 249.9 L410.2 249.9 L411.2 249.9 L412.3 249.9 L413.4 249.8 L414.4 249.8 L415.5 249.7 L416.6 249.7 L417.7 249.6 L418.7 249.4 L419.8 249.3 L420.9 249.1 L421.9 248.8 L423 248.5 L424.1 248 L425.1 247.5 L426.2 246.8 L427.3 245.9 L428.4 244.8 L429.4 243.4 L430.5 241.7 L431.6 239.7 L432.6 237.1 L433.7 234.1 L434.8 230.5 L435.9 226.3 L436.9 221.6 L438 216.4 L439.1 210.8 L440.1 205 L441.2 199.1 L442.3 193.2 L443.3 187.7 L444.4 182.6 L445.5 178 L446.6 174 L447.6 170.5 L448.7 167.5 L449.8 165.1 L450.8 163.1 L451.9 161.5 L453 160.1 L454 159.1 L455.1 158.3 L456.2 157.6 L457.2 157.1 L458.3 156.7 L459.4 156.3 L460.5 156.1 L461.5 155.9 L462.6 155.7 L463.7 155.6 L464.7 155.5 L465.8 155.5 L466.9 155.4 L467.9 155.4 L469 155.3 L470.1 155.3 L471.2 155.3 L472.2 155.3 L473.3 155.2 L474.4 155.2 L475.4 155.2 L476.5 155.2 L477.6 155.2 L478.7 155.2 L479.7 155.2 L480.8 155.2 L481.9 155.2 L482.9 155.2 L484 155.2 L485.1 155.2 L486.1 155.2 L487.2 155.2 L487.5 155.2" fill="none" stroke="#e04b5e" stroke-width="1.8" stroke-linejoin="round"/>
<path d="M394.8 250 L395.2 250 L396.3 250 L397.3 250 L398.4 250 L399.5 250 L400.5 250 L401.6 250 L402.7 250 L403.8 249.9 L404.8 249.9 L405.9 249.9 L407 249.9 L408 249.9 L409.1 249.8 L410.2 249.8 L411.2 249.8 L412.3 249.7 L413.4 249.6 L414.4 249.6 L415.5 249.5 L416.6 249.4 L417.7 249.2 L418.7 249 L419.8 248.8 L420.9 248.6 L421.9 248.2 L423 247.9 L424.1 247.4 L425.1 246.8 L426.2 246.1 L427.3 245.3 L428.4 244.3 L429.4 243.1 L430.5 241.7 L431.6 240.1 L432.6 238.1 L433.7 235.9 L434.8 233.2 L435.9 230.3 L436.9 226.9 L438 223.2 L439.1 219.1 L440.1 214.8 L441.2 210.2 L442.3 205.5 L443.3 200.7 L444.4 195.9 L445.5 191.3 L446.6 186.9 L447.6 182.8 L448.7 179 L449.8 175.6 L450.8 172.5 L451.9 169.8 L453 167.5 L454 165.5 L455.1 163.8 L456.2 162.3 L457.2 161.1 L458.3 160.1 L459.4 159.2 L460.5 158.5 L461.5 157.9 L462.6 157.4 L463.7 157 L464.7 156.7 L465.8 156.4 L466.9 156.2 L467.9 156 L469 155.9 L470.1 155.8 L471.2 155.7 L472.2 155.6 L473.3 155.5 L474.4 155.4 L475.4 155.4 L476.5 155.4 L477.6 155.3 L478.7 155.3 L479.7 155.3 L480.8 155.3 L481.9 155.3 L482.9 155.2 L484 155.2 L485.1 155.2 L486.1 155.2 L487.2 155.2 L487.5 155.2" fill="none" stroke="#a9dcea" stroke-width="1.8" stroke-linejoin="round"/>
<rect x="394.2" y="150" width="93.9" height="104.3" fill="none" stroke="#333" stroke-width="0.9"/>
<line x1="392.2" y1="250" x2="394.2" y2="250" stroke="#333" stroke-width="0.6"/>
<text x="391.6" y="252.7" font-size="7.4" text-anchor="end" fill="#1f1f1f">0.00</text>
<line x1="392.2" y1="226.3" x2="394.2" y2="226.3" stroke="#333" stroke-width="0.6"/>
<text x="391.6" y="229" font-size="7.4" text-anchor="end" fill="#1f1f1f">0.25</text>
<line x1="392.2" y1="202.6" x2="394.2" y2="202.6" stroke="#333" stroke-width="0.6"/>
<text x="391.6" y="205.3" font-size="7.4" text-anchor="end" fill="#1f1f1f">0.50</text>
<line x1="392.2" y1="178.9" x2="394.2" y2="178.9" stroke="#333" stroke-width="0.6"/>
<text x="391.6" y="181.6" font-size="7.4" text-anchor="end" fill="#1f1f1f">0.75</text>
<line x1="392.2" y1="155.2" x2="394.2" y2="155.2" stroke="#333" stroke-width="0.6"/>
<text x="391.6" y="157.9" font-size="7.4" text-anchor="end" fill="#1f1f1f">1.00</text>
<line x1="398.4" y1="254.3" x2="398.4" y2="256.3" stroke="#333" stroke-width="0.6"/>
<text x="398.4" y="263" font-size="7.4" text-anchor="middle" fill="#1f1f1f">-2</text>
<line x1="419.8" y1="254.3" x2="419.8" y2="256.3" stroke="#333" stroke-width="0.6"/>
<text x="419.8" y="263" font-size="7.4" text-anchor="middle" fill="#1f1f1f">-1</text>
<line x1="441.2" y1="254.3" x2="441.2" y2="256.3" stroke="#333" stroke-width="0.6"/>
<text x="441.2" y="263" font-size="7.4" text-anchor="middle" fill="#1f1f1f">0</text>
<line x1="462.6" y1="254.3" x2="462.6" y2="256.3" stroke="#333" stroke-width="0.6"/>
<text x="462.6" y="263" font-size="7.4" text-anchor="middle" fill="#1f1f1f">1</text>
<line x1="484" y1="254.3" x2="484" y2="256.3" stroke="#333" stroke-width="0.6"/>
<text x="484" y="263" font-size="7.4" text-anchor="middle" fill="#1f1f1f">2</text>
<text x="441.2" y="271.3" font-size="8.6" text-anchor="middle">log2 Fold change</text>
<text x="374" y="202.2" font-size="8.6" text-anchor="middle" transform="rotate(-90 374 202.2)">Cummulative propotion</text>
<line x1="437.8" y1="234.6" x2="442.2" y2="234.6" stroke="#e04b5e" stroke-width="1.6"/>
<line x1="437.8" y1="241.6" x2="442.2" y2="241.6" stroke="#a9dcea" stroke-width="1.6"/>
<text x="443.2" y="236.8" font-size="6.3" fill="#1f1f1f">hnRNPL targets</text>
<text x="443.2" y="243.8" font-size="6.3" fill="#1f1f1f">Non targets</text>
<text x="443.2" y="250.8" font-size="6.3" fill="#1f1f1f"><tspan font-style="italic">p</tspan> = 4.14e-75</text>
<text x="503.5" y="9.8" font-size="11" font-weight="bold" fill="#000">f</text>
<path d="M531.3 108.8 L532.1 108.6 L532.9 108 L533.7 108.7 L534.6 108.1 L535.4 108.1 L536.2 107.8 L537 108.7 L537.8 108.6 L538.6 109.3 L539.5 109.4 L540.3 108.7 L541.1 108.6 L541.9 108.6 L542.7 108.7 L543.5 108.3 L544.4 108.4 L545.2 108.9 L546 107.9 L546.8 107.6 L547.6 108.5 L548.4 108.1 L549.3 106.8 L550.1 106.8 L550.9 106.7 L551.7 105.1 L552.5 105.5 L553.3 106.4 L554.2 105.8 L555 104.6 L555.8 105.1 L556.6 106.9 L557.4 106.2 L558.2 105.9 L559.1 107 L559.9 105.7 L560.7 105.1 L561.5 105 L562.3 106 L563.1 104.6 L564 102.4 L564.8 102.4 L565.6 102.1 L566.4 101.3 L567.2 101 L568 101.4 L568.8 101.5 L569.7 100.5 L570.5 101 L571.3 101.7 L572.1 101.4 L572.9 101 L573.7 101.2 L574.6 102.2 L575.4 100.6 L576.2 100.1 L577 100.7 L577.8 99.8 L578.6 99 L579.5 98.4 L580.3 96.9 L581.1 94.7 L581.9 92.1 L582.7 90.4 L583.5 87.4 L584.4 85.1 L585.2 82.9 L586 79.7 L586.8 77.1 L587.6 74.3 L588.4 71.3 L589.3 68 L590.1 65.3 L590.9 63.7 L591.7 60.6 L592.5 58.6 L593.3 57.2 L594.2 55.8 L595 55.5 L595.8 55.7 L596.6 56.1 L597.4 55.8 L598.2 55.8 L599 56.8 L599.9 57.9 L600.7 59.2 L601.5 61 L602.3 62.8 L603.1 65.4 L603.9 68.8 L604.8 72.6 L605.6 75.7 L606.4 78.6 L607.2 81.9 L608 85.6 L608.8 88.6 L609.7 92 L610.5 94.2 L611.3 95.2 L612.1 96.8 L612.9 97.2 L613.7 98.5 L614.6 98.7 L615.4 98.9 L616.2 99.5 L617 99.3 L617.8 99.3 L618.6 100.3 L619.5 101.3 L620.3 103.2 L621.1 103.5 L621.9 104.1 L622.7 103.9 L623.5 103.6 L624.4 103.9 L625.2 103.6 L626 101.9 L626.8 101.6 L627.6 100.9 L628.4 101.7 L629.2 103.2 L630.1 104 L630.9 105.5 L631.7 105.7 L632.5 106.7 L633.3 107.9 L634.1 109.2 L635 109 L635.8 108.6 L636.6 108.2 L637.4 109 L638.2 108.8 L639 108.7 L639.9 108.5 L640.7 108.6 L641.5 108.7 L642.3 110.3 L643.1 110.4 L643.9 110.2 L644.8 110.5 L645.6 111 L646.4 112 L647.2 112.6 L648 112.2 L648.8 111.3 L649.7 110.1 L650.5 110.6 L651.3 111.3 L652.1 110.8 L652.9 109.1 L653.7 108.7 L654.6 108.5 L655.4 108.4 L656.2 108.1 L657 108.5 L657.8 107.7 L658.6 107.7 L659.5 107 L660.3 108.6 L661.1 108.8 L661.9 108.6" fill="none" stroke="#e2e23a" stroke-width="1.2" stroke-linejoin="round"/>
<path d="M531.3 103.2 L532.1 103.2 L532.9 103.2 L533.7 103.2 L534.6 103.2 L535.4 103.2 L536.2 103.2 L537 103.1 L537.8 103.1 L538.6 103.1 L539.5 103.1 L540.3 103.1 L541.1 103 L541.9 103 L542.7 103 L543.5 102.9 L544.4 102.9 L545.2 102.8 L546 102.8 L546.8 102.7 L547.6 102.6 L548.4 102.6 L549.3 102.5 L550.1 102.4 L550.9 102.3 L551.7 102.2 L552.5 102.1 L553.3 102 L554.2 101.9 L555 101.8 L555.8 101.6 L556.6 101.5 L557.4 101.4 L558.2 101.2 L559.1 101 L559.9 100.9 L560.7 100.7 L561.5 100.5 L562.3 100.3 L563.1 100.1 L564 99.9 L564.8 99.7 L565.6 99.4 L566.4 99.2 L567.2 99 L568 98.7 L568.8 98.5 L569.7 98.2 L570.5 97.9 L571.3 97.7 L572.1 97.4 L572.9 97.1 L573.7 96.8 L574.6 96.4 L575.4 96 L576.2 95.6 L577 95 L577.8 94.3 L578.6 93.4 L579.5 92.3 L580.3 90.9 L581.1 89.2 L581.9 87 L582.7 84.4 L583.5 81.3 L584.4 77.8 L585.2 73.9 L586 69.7 L586.8 65.3 L587.6 60.7 L588.4 56.3 L589.3 52 L590.1 48.1 L590.9 44.6 L591.7 41.6 L592.5 39.2 L593.3 37.3 L594.2 36.1 L595 35.3 L595.8 34.9 L596.6 34.9 L597.4 34.9 L598.2 35.3 L599 36.1 L599.9 37.3 L600.7 39.2 L601.5 41.6 L602.3 44.6 L603.1 48.1 L603.9 52 L604.8 56.3 L605.6 60.8 L606.4 65.4 L607.2 69.8 L608 74 L608.8 78 L609.7 81.5 L610.5 84.6 L611.3 87.2 L612.1 89.4 L612.9 91.2 L613.7 92.6 L614.6 93.8 L615.4 94.7 L616.2 95.4 L617 96 L617.8 96.4 L618.6 96.8 L619.5 97.2 L620.3 97.5 L621.1 97.9 L621.9 98.2 L622.7 98.5 L623.5 98.7 L624.4 99 L625.2 99.3 L626 99.6 L626.8 99.8 L627.6 100.1 L628.4 100.3 L629.2 100.6 L630.1 100.8 L630.9 101 L631.7 101.2 L632.5 101.4 L633.3 101.6 L634.1 101.8 L635 102 L635.8 102.2 L636.6 102.4 L637.4 102.5 L638.2 102.7 L639 102.8 L639.9 102.9 L640.7 103.1 L641.5 103.2 L642.3 103.3 L643.1 103.4 L643.9 103.5 L644.8 103.6 L645.6 103.7 L646.4 103.8 L647.2 103.9 L648 103.9 L648.8 104 L649.7 104.1 L650.5 104.1 L651.3 104.2 L652.1 104.2 L652.9 104.3 L653.7 104.3 L654.6 104.4 L655.4 104.4 L656.2 104.5 L657 104.5 L657.8 104.5 L658.6 104.6 L659.5 104.6 L660.3 104.6 L661.1 104.6 L661.9 104.7" fill="none" stroke="#4cc7e8" stroke-width="1.2" stroke-linejoin="round"/>
<path d="M531.3 99.7 L532.1 99.3 L532.9 99.2 L533.7 98.8 L534.6 98.8 L535.4 99 L536.2 99 L537 99.7 L537.8 100.2 L538.6 100.7 L539.5 101.5 L540.3 101.9 L541.1 102 L541.9 102.3 L542.7 101.9 L543.5 102.3 L544.4 102.2 L545.2 101.7 L546 100.9 L546.8 100.7 L547.6 100.8 L548.4 101.5 L549.3 101.6 L550.1 102.4 L550.9 102.5 L551.7 102.1 L552.5 102.9 L553.3 102.9 L554.2 102.4 L555 102.4 L555.8 101.4 L556.6 101 L557.4 99.7 L558.2 99.1 L559.1 99.6 L559.9 98.8 L560.7 99.3 L561.5 99.2 L562.3 99.1 L563.1 98.6 L564 99.1 L564.8 99.6 L565.6 99.5 L566.4 99.6 L567.2 98.3 L568 98.4 L568.8 98.1 L569.7 97.6 L570.5 96.9 L571.3 96.5 L572.1 95.2 L572.9 94.6 L573.7 93.4 L574.6 93.8 L575.4 92.1 L576.2 91.7 L577 90.8 L577.8 90.3 L578.6 87.9 L579.5 87.8 L580.3 85.4 L581.1 83 L581.9 80.5 L582.7 77.8 L583.5 74.2 L584.4 70 L585.2 65.9 L586 61.9 L586.8 56.7 L587.6 52.4 L588.4 47.9 L589.3 43.6 L590.1 39.1 L590.9 35.8 L591.7 33.6 L592.5 31.1 L593.3 29.3 L594.2 28 L595 27.3 L595.8 27.1 L596.6 27 L597.4 27.3 L598.2 27.7 L599 28.2 L599.9 29.3 L600.7 31.3 L601.5 34.2 L602.3 37 L603.1 40.6 L603.9 44.9 L604.8 49.9 L605.6 54.5 L606.4 59.4 L607.2 64.9 L608 69.9 L608.8 73.9 L609.7 78 L610.5 81.6 L611.3 84.6 L612.1 86.3 L612.9 88.2 L613.7 89 L614.6 89.3 L615.4 89.7 L616.2 90.2 L617 91 L617.8 91.6 L618.6 91.1 L619.5 91.1 L620.3 91.2 L621.1 91.7 L621.9 92.4 L622.7 92.7 L623.5 93 L624.4 93.3 L625.2 93.3 L626 93.8 L626.8 94.9 L627.6 95 L628.4 95 L629.2 95.4 L630.1 96.1 L630.9 95.9 L631.7 95.6 L632.5 95.7 L633.3 95.8 L634.1 95.6 L635 95.7 L635.8 96.2 L636.6 95.6 L637.4 95.1 L638.2 95 L639 95.6 L639.9 95.6 L640.7 96.1 L641.5 96.4 L642.3 96.9 L643.1 96.6 L643.9 97.1 L644.8 97.4 L645.6 97.8 L646.4 97.7 L647.2 97.8 L648 97.7 L648.8 97.7 L649.7 97.5 L650.5 97.7 L651.3 98.3 L652.1 98 L652.9 98.5 L653.7 99.2 L654.6 98.8 L655.4 98.4 L656.2 98.6 L657 98.8 L657.8 98.9 L658.6 98.8 L659.5 98.9 L660.3 98.5 L661.1 98.8 L661.9 99" fill="none" stroke="#1e2a78" stroke-width="1.2" stroke-linejoin="round"/>
<rect x="530.4" y="23" width="130.6" height="90.8" fill="none" stroke="#444" stroke-width="0.9"/>
<line x1="528.4" y1="98.5" x2="530.4" y2="98.5" stroke="#333" stroke-width="0.6"/>
<text x="527.8" y="101.2" font-size="7.4" text-anchor="end" fill="#1f1f1f">0.5</text>
<line x1="528.4" y1="74.4" x2="530.4" y2="74.4" stroke="#333" stroke-width="0.6"/>
<text x="527.8" y="77.1" font-size="7.4" text-anchor="end" fill="#1f1f1f">1.0</text>
<line x1="528.4" y1="50.3" x2="530.4" y2="50.3" stroke="#333" stroke-width="0.6"/>
<text x="527.8" y="53" font-size="7.4" text-anchor="end" fill="#1f1f1f">1.5</text>
<line x1="528.4" y1="26.2" x2="530.4" y2="26.2" stroke="#333" stroke-width="0.6"/>
<text x="527.8" y="28.9" font-size="7.4" text-anchor="end" fill="#1f1f1f">2.0</text>
<line x1="531.3" y1="113.8" x2="531.3" y2="115.8" stroke="#333" stroke-width="0.6"/>
<text x="531.3" y="123.8" font-size="7.4" text-anchor="middle" fill="#1f1f1f">-5.0</text>
<line x1="596.6" y1="113.8" x2="596.6" y2="115.8" stroke="#333" stroke-width="0.6"/>
<text x="596.6" y="123.8" font-size="7.4" text-anchor="middle" fill="#1f1f1f">TSS</text>
<line x1="661.9" y1="113.8" x2="661.9" y2="115.8" stroke="#333" stroke-width="0.6"/>
<text x="658.4" y="123.8" font-size="7.4" fill="#1f1f1f">5.0 (kb)</text>
<text x="514" y="63.6" font-size="8.5" text-anchor="middle" transform="rotate(-90 514 63.6)">Enrichment</text>
<line x1="609.6" y1="31.4" x2="617.6" y2="31.4" stroke="#1e2a78" stroke-width="1.3"/>
<text x="618.8" y="33.5" font-size="6" fill="#1f1f1f">Down-regulated</text>
<line x1="609.6" y1="45.8" x2="617.6" y2="45.8" stroke="#4cc7e8" stroke-width="1.3"/>
<text x="618.8" y="47.9" font-size="6" fill="#1f1f1f">Not changed</text>
<line x1="609.6" y1="62.7" x2="617.6" y2="62.7" stroke="#e6e43c" stroke-width="1.3"/>
<text x="618.8" y="64.8" font-size="6" fill="#1f1f1f">Up-regulated</text>
<text x="503" y="143.8" font-size="11" font-weight="bold" fill="#000">g</text>
<rect x="608" y="155.4" width="51.5" height="8.6" fill="#ece4f3"/>
<rect x="608.3" y="155.8" width="50.9" height="7.8" fill="#8a6bb7"/>
<line x1="600.4" y1="159.7" x2="602.2" y2="159.7" stroke="#333" stroke-width="0.6"/>
<text x="599.8" y="162.3" font-size="7.4" text-anchor="end">Hypertrophic cardiomyopathy</text>
<rect x="608" y="165.3" width="51.5" height="8.6" fill="#ece4f3"/>
<rect x="608.3" y="165.7" width="50.9" height="7.8" fill="#8a6bb7"/>
<line x1="600.4" y1="169.6" x2="602.2" y2="169.6" stroke="#333" stroke-width="0.6"/>
<text x="599.8" y="172.2" font-size="7.4" text-anchor="end" font-weight="bold">PI3K-AKT signaling pathway</text>
<rect x="608" y="175.1" width="51.5" height="8.6" fill="#ece4f3"/>
<rect x="608.3" y="175.5" width="50.9" height="7.8" fill="#8a6bb7"/>
<line x1="600.4" y1="179.4" x2="602.2" y2="179.4" stroke="#333" stroke-width="0.6"/>
<text x="599.8" y="182" font-size="7.4" text-anchor="end">Pathway in cancer</text>
<rect x="608" y="185" width="51.5" height="8.6" fill="#ece4f3"/>
<rect x="608.3" y="185.4" width="50.9" height="7.8" fill="#8a6bb7"/>
<line x1="600.4" y1="189.3" x2="602.2" y2="189.3" stroke="#333" stroke-width="0.6"/>
<text x="599.8" y="191.9" font-size="7.4" text-anchor="end">Focal adhesion</text>
<rect x="608" y="194.8" width="50.5" height="8.6" fill="#ece4f3"/>
<rect x="608.3" y="195.2" width="49.9" height="7.8" fill="#8a6bb7"/>
<line x1="600.4" y1="199.1" x2="602.2" y2="199.1" stroke="#333" stroke-width="0.6"/>
<text x="599.8" y="201.7" font-size="7.4" text-anchor="end">FoxO signaling pathway</text>
<rect x="608" y="204.7" width="48" height="8.6" fill="#ece4f3"/>
<rect x="608.3" y="205.1" width="47.4" height="7.8" fill="#8a6bb7"/>
<line x1="600.4" y1="209" x2="602.2" y2="209" stroke="#333" stroke-width="0.6"/>
<text x="599.8" y="211.6" font-size="7.4" text-anchor="end">Regulation of actin cytoskeleton</text>
<rect x="608" y="214.6" width="46.6" height="8.6" fill="#ece4f3"/>
<rect x="608.3" y="215" width="46" height="7.8" fill="#8a6bb7"/>
<line x1="600.4" y1="218.9" x2="602.2" y2="218.9" stroke="#333" stroke-width="0.6"/>
<text x="599.8" y="221.5" font-size="7.4" text-anchor="end">Dilated cardiomyopathy</text>
<rect x="608" y="224.4" width="46.1" height="8.6" fill="#ece4f3"/>
<rect x="608.3" y="224.8" width="45.5" height="7.8" fill="#8a6bb7"/>
<line x1="600.4" y1="228.7" x2="602.2" y2="228.7" stroke="#333" stroke-width="0.6"/>
<text x="599.8" y="231.3" font-size="7.4" text-anchor="end">Small cell lung cancer</text>
<rect x="608" y="234.3" width="42.6" height="8.6" fill="#ece4f3"/>
<rect x="608.3" y="234.7" width="42" height="7.8" fill="#8a6bb7"/>
<line x1="600.4" y1="238.6" x2="602.2" y2="238.6" stroke="#333" stroke-width="0.6"/>
<text x="599.8" y="241.2" font-size="7.4" text-anchor="end">Glioma</text>
<rect x="608" y="244.1" width="33.9" height="8.6" fill="#ece4f3"/>
<rect x="608.3" y="244.5" width="33.3" height="7.8" fill="#8a6bb7"/>
<line x1="600.4" y1="248.4" x2="602.2" y2="248.4" stroke="#333" stroke-width="0.6"/>
<text x="599.8" y="251" font-size="7.4" text-anchor="end">Non-small lung cancer</text>
<line x1="631.5" y1="153.8" x2="631.5" y2="253" stroke="#5a3d8c" stroke-width="1.3" stroke-dasharray="2.2 1.8"/>
<rect x="602.2" y="153.8" width="59.4" height="99.2" fill="none" stroke="#333" stroke-width="0.9"/>
<line x1="609.5" y1="253" x2="609.5" y2="255" stroke="#333" stroke-width="0.6"/>
<text x="609.5" y="261.6" font-size="7.8" text-anchor="middle" fill="#1f1f1f">0</text>
<line x1="643.3" y1="253" x2="643.3" y2="255" stroke="#333" stroke-width="0.6"/>
<text x="643.3" y="261.6" font-size="7.8" text-anchor="middle" fill="#1f1f1f">2</text>
<text x="629.7" y="270.3" font-size="8.6" text-anchor="middle">-lg <tspan font-style="italic">p</tspan> value</text>
<text x="0.5" y="290.8" font-size="11" font-weight="bold" fill="#000">h</text>
<rect x="179.8" y="308.8" width="4.4" height="56.2" fill="#ecd2cd"/>
<line x1="21.9" y1="322.8" x2="198.8" y2="322.8" stroke="#c6cbee" stroke-width="1.5"/>
<rect x="49.6" y="321.8" width="0.9" height="1" fill="#3b4aa8"/>
<rect x="170" y="321.8" width="0.9" height="1" fill="#3b4aa8"/>
<rect x="155.9" y="321.8" width="0.9" height="1" fill="#3b4aa8"/>
<rect x="70" y="321.8" width="0.9" height="1" fill="#3b4aa8"/>
<rect x="110.6" y="321.8" width="0.9" height="1" fill="#3b4aa8"/>
<rect x="102.8" y="321.8" width="0.9" height="1" fill="#3b4aa8"/>
<line x1="21.9" y1="337.4" x2="198.8" y2="337.4" stroke="#b9c0ea" stroke-width="1.3"/>
<rect x="137" y="336.4" width="0.9" height="1" fill="#3b4aa8"/>
<rect x="160.1" y="336.4" width="0.9" height="1" fill="#3b4aa8"/>
<rect x="42.8" y="336.4" width="0.9" height="1" fill="#3b4aa8"/>
<rect x="31.7" y="336.4" width="0.9" height="1" fill="#3b4aa8"/>
<rect x="168.1" y="336.4" width="0.9" height="1" fill="#3b4aa8"/>
<rect x="100" y="336.4" width="0.9" height="1" fill="#3b4aa8"/>
<line x1="21.9" y1="352.3" x2="198.8" y2="352.3" stroke="#6572c9" stroke-width="0.9"/>
<path d="M181.2 322.8 L181.8 317 L181.9 312.3 L182.5 313.1 L182.7 318.6 L183.2 322.8Z" fill="#7b62ad"/>
<path d="M181.2 337.4 L181.8 331.3 L181.9 326.4 L182.5 327.3 L182.7 333 L183.2 337.4Z" fill="#7b62ad"/>
<path d="M58.9 322.8 L59.2 320.6 L59.1 318.8 L59.7 319.1 L59.6 321.2 L59.9 322.8Z" fill="#7b62ad"/>
<path d="M58.9 337.4 L59.2 336.3 L59.1 335.4 L59.7 335.6 L59.6 336.6 L59.9 337.4Z" fill="#7b62ad"/>
<path d="M117.3 322.8 L117.6 320.8 L117.5 319.2 L118.1 319.5 L118 321.4 L118.3 322.8Z" fill="#7b62ad"/>
<path d="M117.3 337.4 L117.6 336.1 L117.5 335 L118.1 335.2 L118 336.4 L118.3 337.4Z" fill="#7b62ad"/>
<path d="M89.2 337.4 L89.5 334.9 L89.5 332.9 L90.1 333.3 L90.1 335.6 L90.4 337.4Z" fill="#7b62ad"/>
<path d="M88.8 322.8 L89.1 322.1 L89 321.6 L89.6 321.7 L89.5 322.3 L89.8 322.8Z" fill="#7b62ad"/>
<path d="M75 352.3 L75.3 351.4 L75.2 350.7 L75.8 350.8 L75.8 351.7 L76 352.3Z" fill="#7b62ad"/>
<text x="22.6" y="318.1" font-size="7.4">[0 - 220]</text>
<text x="22.6" y="329.2" font-size="7.4">[0 - 220]</text>
<text x="22.6" y="344.1" font-size="7.4">[0 - 220]</text>
<line x1="52.6" y1="361.3" x2="182.5" y2="361.3" stroke="#3545a8" stroke-width="0.7"/>
<rect x="54.5" y="360" width="1.4" height="2.6" fill="#2a3a9e"/>
<rect x="56.5" y="360" width="1.3" height="2.6" fill="#2a3a9e"/>
<rect x="58" y="360" width="0.9" height="2.6" fill="#2a3a9e"/>
<rect x="60.3" y="360" width="0.8" height="2.6" fill="#2a3a9e"/>
<rect x="64.4" y="360" width="0.9" height="2.6" fill="#2a3a9e"/>
<rect x="64.8" y="360" width="0.7" height="2.6" fill="#2a3a9e"/>
<rect x="73.1" y="360" width="1.4" height="2.6" fill="#2a3a9e"/>
<rect x="76.6" y="360" width="1" height="2.6" fill="#2a3a9e"/>
<rect x="77.3" y="360" width="1.4" height="2.6" fill="#2a3a9e"/>
<rect x="84" y="360" width="1" height="2.6" fill="#2a3a9e"/>
<rect x="88.7" y="360" width="1.6" height="2.6" fill="#2a3a9e"/>
<rect x="92" y="360" width="1.4" height="2.6" fill="#2a3a9e"/>
<rect x="109.8" y="360" width="0.6" height="2.6" fill="#2a3a9e"/>
<rect x="111.4" y="360" width="0.8" height="2.6" fill="#2a3a9e"/>
<rect x="112" y="360" width="1.5" height="2.6" fill="#2a3a9e"/>
<rect x="112.9" y="360" width="1.1" height="2.6" fill="#2a3a9e"/>
<rect x="113.1" y="360" width="1.6" height="2.6" fill="#2a3a9e"/>
<rect x="117.5" y="360" width="1" height="2.6" fill="#2a3a9e"/>
<rect x="118.6" y="360" width="0.7" height="2.6" fill="#2a3a9e"/>
<rect x="119.1" y="360" width="1.2" height="2.6" fill="#2a3a9e"/>
<rect x="120" y="360" width="1.4" height="2.6" fill="#2a3a9e"/>
<rect x="121.2" y="360" width="0.9" height="2.6" fill="#2a3a9e"/>
<rect x="125.3" y="360" width="0.7" height="2.6" fill="#2a3a9e"/>
<rect x="128.9" y="360" width="0.9" height="2.6" fill="#2a3a9e"/>
<rect x="132.6" y="360" width="1.6" height="2.6" fill="#2a3a9e"/>
<rect x="134.4" y="360" width="1.4" height="2.6" fill="#2a3a9e"/>
<rect x="135.8" y="360" width="0.7" height="2.6" fill="#2a3a9e"/>
<rect x="137.5" y="360" width="0.8" height="2.6" fill="#2a3a9e"/>
<rect x="138.7" y="360" width="0.7" height="2.6" fill="#2a3a9e"/>
<rect x="142.7" y="360" width="0.7" height="2.6" fill="#2a3a9e"/>
<rect x="155.6" y="360" width="1.4" height="2.6" fill="#2a3a9e"/>
<rect x="157.8" y="360" width="0.8" height="2.6" fill="#2a3a9e"/>
<rect x="162" y="360" width="1.2" height="2.6" fill="#2a3a9e"/>
<rect x="172.7" y="360" width="1" height="2.6" fill="#2a3a9e"/>
<rect x="177.9" y="360" width="0.8" height="2.6" fill="#2a3a9e"/>
<rect x="180.2" y="360" width="1.3" height="2.6" fill="#2a3a9e"/>
<rect x="181.9" y="360" width="0.7" height="2.6" fill="#2a3a9e"/>
<rect x="182.2" y="360" width="1.2" height="2.6" fill="#2a3a9e"/>
<text x="106.5" y="372" font-size="8.6" text-anchor="middle">COL4A4</text>
<text x="4.4" y="321.2" font-size="8.6">IP-1</text>
<text x="4.4" y="335.8" font-size="8.6">IP-2</text>
<text x="4.4" y="350.9" font-size="8.6">IgG</text>
<rect x="340.4" y="309.3" width="4.5" height="56.2" fill="#ecd2cd"/>
<rect x="355.2" y="309.3" width="6.6" height="56.2" fill="#ecd2cd"/>
<line x1="205.8" y1="323" x2="383.2" y2="323" stroke="#c6cbee" stroke-width="1.5"/>
<rect x="372.8" y="322" width="0.9" height="1" fill="#3b4aa8"/>
<rect x="371.4" y="322" width="0.9" height="1" fill="#3b4aa8"/>
<rect x="220.4" y="322" width="0.9" height="1" fill="#3b4aa8"/>
<rect x="225.2" y="322" width="0.9" height="1" fill="#3b4aa8"/>
<rect x="352.3" y="322" width="0.9" height="1" fill="#3b4aa8"/>
<rect x="335.5" y="322" width="0.9" height="1" fill="#3b4aa8"/>
<line x1="205.8" y1="337.2" x2="383.2" y2="337.2" stroke="#b9c0ea" stroke-width="1.3"/>
<rect x="324.3" y="336.2" width="0.9" height="1" fill="#3b4aa8"/>
<rect x="263" y="336.2" width="0.9" height="1" fill="#3b4aa8"/>
<rect x="313.4" y="336.2" width="0.9" height="1" fill="#3b4aa8"/>
<rect x="313.6" y="336.2" width="0.9" height="1" fill="#3b4aa8"/>
<rect x="309.3" y="336.2" width="0.9" height="1" fill="#3b4aa8"/>
<rect x="237.6" y="336.2" width="0.9" height="1" fill="#3b4aa8"/>
<line x1="205.8" y1="352.2" x2="383.2" y2="352.2" stroke="#6572c9" stroke-width="0.9"/>
<path d="M341.7 323 L342.2 317.5 L342.4 313 L342.9 313.8 L343.1 319 L343.5 323Z" fill="#7b62ad"/>
<path d="M341.7 337.2 L342.2 332 L342.4 327.7 L342.9 328.5 L343.1 333.4 L343.5 337.2Z" fill="#7b62ad"/>
<path d="M356.6 323 L357.1 321.6 L357.2 320.4 L357.8 320.6 L357.9 322 L358.4 323Z" fill="#7b62ad"/>
<path d="M359.1 323 L359.6 321.2 L359.8 319.8 L360.3 320.1 L360.4 321.7 L360.9 323Z" fill="#7b62ad"/>
<path d="M356.6 337.2 L357.1 335.8 L357.2 334.6 L357.8 334.8 L357.9 336.2 L358.4 337.2Z" fill="#7b62ad"/>
<path d="M359.1 337.2 L359.6 335.6 L359.8 334.2 L360.3 334.4 L360.4 336 L360.9 337.2Z" fill="#7b62ad"/>
<text x="206.5" y="318.3" font-size="7.4">[0 - 450]</text>
<text x="206.5" y="329" font-size="7.4">[0 - 450]</text>
<text x="206.5" y="344" font-size="7.4">[0 - 450]</text>
<line x1="211.2" y1="361.6" x2="357" y2="361.6" stroke="#3545a8" stroke-width="0.7"/>
<rect x="211.2" y="360.3" width="10.8" height="2.6" fill="#2a3a9e"/>
<rect x="350.4" y="360.1" width="6.6" height="3" fill="#2a3a9e"/>
<rect x="226" y="360.6" width="0.5" height="2" fill="#2a3a9e"/>
<rect x="232" y="360.6" width="0.5" height="2" fill="#2a3a9e"/>
<rect x="238" y="360.6" width="0.5" height="2" fill="#2a3a9e"/>
<rect x="244" y="360.6" width="0.5" height="2" fill="#2a3a9e"/>
<rect x="250" y="360.6" width="0.5" height="2" fill="#2a3a9e"/>
<rect x="256" y="360.6" width="0.5" height="2" fill="#2a3a9e"/>
<rect x="262" y="360.6" width="0.5" height="2" fill="#2a3a9e"/>
<rect x="268" y="360.6" width="0.5" height="2" fill="#2a3a9e"/>
<rect x="274" y="360.6" width="0.5" height="2" fill="#2a3a9e"/>
<rect x="280" y="360.6" width="0.5" height="2" fill="#2a3a9e"/>
<rect x="286" y="360.6" width="0.5" height="2" fill="#2a3a9e"/>
<rect x="292" y="360.6" width="0.5" height="2" fill="#2a3a9e"/>
<rect x="298" y="360.6" width="0.5" height="2" fill="#2a3a9e"/>
<rect x="304" y="360.6" width="0.5" height="2" fill="#2a3a9e"/>
<rect x="310" y="360.6" width="0.5" height="2" fill="#2a3a9e"/>
<rect x="316" y="360.6" width="0.5" height="2" fill="#2a3a9e"/>
<rect x="322" y="360.6" width="0.5" height="2" fill="#2a3a9e"/>
<rect x="328" y="360.6" width="0.5" height="2" fill="#2a3a9e"/>
<rect x="334" y="360.6" width="0.5" height="2" fill="#2a3a9e"/>
<rect x="340" y="360.6" width="0.5" height="2" fill="#2a3a9e"/>
<rect x="346" y="360.6" width="0.5" height="2" fill="#2a3a9e"/>
<text x="288.2" y="370.6" font-size="8.6" text-anchor="middle">IRS1</text>
<rect x="185.4" y="379.4" width="6.4" height="56" fill="#ecd2cd"/>
<line x1="21.9" y1="394" x2="198.5" y2="394" stroke="#c6cbee" stroke-width="1.5"/>
<rect x="67" y="393" width="0.9" height="1" fill="#3b4aa8"/>
<rect x="118.7" y="393" width="0.9" height="1" fill="#3b4aa8"/>
<rect x="89.3" y="393" width="0.9" height="1" fill="#3b4aa8"/>
<rect x="128.7" y="393" width="0.9" height="1" fill="#3b4aa8"/>
<rect x="132.4" y="393" width="0.9" height="1" fill="#3b4aa8"/>
<rect x="37.9" y="393" width="0.9" height="1" fill="#3b4aa8"/>
<line x1="21.9" y1="408.6" x2="198.5" y2="408.6" stroke="#b9c0ea" stroke-width="1.3"/>
<rect x="29.1" y="407.6" width="0.9" height="1" fill="#3b4aa8"/>
<rect x="168.1" y="407.6" width="0.9" height="1" fill="#3b4aa8"/>
<rect x="70.6" y="407.6" width="0.9" height="1" fill="#3b4aa8"/>
<rect x="66.4" y="407.6" width="0.9" height="1" fill="#3b4aa8"/>
<rect x="194.8" y="407.6" width="0.9" height="1" fill="#3b4aa8"/>
<rect x="106.2" y="407.6" width="0.9" height="1" fill="#3b4aa8"/>
<line x1="21.9" y1="423.2" x2="198.5" y2="423.2" stroke="#6572c9" stroke-width="0.9"/>
<path d="M188.1 394 L188.4 390.4 L188.4 387.5 L189 388 L189 391.4 L189.3 394Z" fill="#7b62ad"/>
<path d="M188.1 408.6 L188.4 405 L188.4 402.1 L189 402.6 L189 406 L189.3 408.6Z" fill="#7b62ad"/>
<path d="M143.1 394 L143.4 392.7 L143.3 391.6 L143.9 391.8 L143.8 393 L144.1 394Z" fill="#7b62ad"/>
<path d="M143.2 423.2 L143.4 416.1 L143.3 410.2 L143.9 411.2 L143.8 418 L143.9 423.2Z" fill="#7b62ad"/>
<path d="M95.1 423.2 L95.3 422.1 L95.2 421.2 L95.8 421.4 L95.7 422.4 L95.9 423.2Z" fill="#7b62ad"/>
<text x="22.6" y="389.3" font-size="7.4">[0 - 1000]</text>
<text x="22.6" y="400.4" font-size="7.4">[0 - 1000]</text>
<text x="22.6" y="415" font-size="7.4">[0 - 1000]</text>
<line x1="24.8" y1="432" x2="188.5" y2="432" stroke="#3545a8" stroke-width="0.7"/>
<rect x="27.2" y="430.7" width="1.2" height="2.6" fill="#2a3a9e"/>
<rect x="46.1" y="430.7" width="1" height="2.6" fill="#2a3a9e"/>
<rect x="48.8" y="430.7" width="1" height="2.6" fill="#2a3a9e"/>
<rect x="48.9" y="430.7" width="1" height="2.6" fill="#2a3a9e"/>
<rect x="55.2" y="430.7" width="0.9" height="2.6" fill="#2a3a9e"/>
<rect x="59.8" y="430.7" width="0.7" height="2.6" fill="#2a3a9e"/>
<rect x="61.7" y="430.7" width="1.4" height="2.6" fill="#2a3a9e"/>
<rect x="62.5" y="430.7" width="1.4" height="2.6" fill="#2a3a9e"/>
<rect x="66.8" y="430.7" width="1.6" height="2.6" fill="#2a3a9e"/>
<rect x="67.2" y="430.7" width="1.3" height="2.6" fill="#2a3a9e"/>
<rect x="70" y="430.7" width="1.2" height="2.6" fill="#2a3a9e"/>
<rect x="73" y="430.7" width="1.3" height="2.6" fill="#2a3a9e"/>
<rect x="95.4" y="430.7" width="0.7" height="2.6" fill="#2a3a9e"/>
<rect x="104.5" y="430.7" width="1.3" height="2.6" fill="#2a3a9e"/>
<rect x="111.8" y="430.7" width="1" height="2.6" fill="#2a3a9e"/>
<rect x="124.4" y="430.7" width="0.8" height="2.6" fill="#2a3a9e"/>
<rect x="136.8" y="430.7" width="0.8" height="2.6" fill="#2a3a9e"/>
<rect x="137" y="430.7" width="1.1" height="2.6" fill="#2a3a9e"/>
<rect x="145" y="430.7" width="0.9" height="2.6" fill="#2a3a9e"/>
<rect x="146.7" y="430.7" width="1.1" height="2.6" fill="#2a3a9e"/>
<rect x="148.4" y="430.7" width="1.2" height="2.6" fill="#2a3a9e"/>
<rect x="154.7" y="430.7" width="1" height="2.6" fill="#2a3a9e"/>
<rect x="156.7" y="430.7" width="0.7" height="2.6" fill="#2a3a9e"/>
<rect x="157.4" y="430.7" width="1.1" height="2.6" fill="#2a3a9e"/>
<rect x="160.1" y="430.7" width="0.8" height="2.6" fill="#2a3a9e"/>
<rect x="161.9" y="430.7" width="0.8" height="2.6" fill="#2a3a9e"/>
<rect x="163.8" y="430.7" width="0.8" height="2.6" fill="#2a3a9e"/>
<rect x="163.9" y="430.7" width="1" height="2.6" fill="#2a3a9e"/>
<rect x="167.4" y="430.7" width="0.7" height="2.6" fill="#2a3a9e"/>
<rect x="180.2" y="430.7" width="1.3" height="2.6" fill="#2a3a9e"/>
<text x="107" y="441.6" font-size="8.6" text-anchor="middle">PIK3CB</text>
<text x="4.4" y="392.6" font-size="8.6">IP-1</text>
<text x="4.4" y="407.2" font-size="8.6">IP-2</text>
<text x="4.4" y="423.3" font-size="8.6">IgG</text>
<rect x="228.3" y="379.2" width="9.7" height="56.3" fill="#ecd2cd"/>
<line x1="205.5" y1="393.9" x2="382.2" y2="393.9" stroke="#c6cbee" stroke-width="1.5"/>
<rect x="250.3" y="392.9" width="0.9" height="1" fill="#3b4aa8"/>
<rect x="227.9" y="392.9" width="0.9" height="1" fill="#3b4aa8"/>
<rect x="277.3" y="392.9" width="0.9" height="1" fill="#3b4aa8"/>
<rect x="236.6" y="392.9" width="0.9" height="1" fill="#3b4aa8"/>
<rect x="221.7" y="392.9" width="0.9" height="1" fill="#3b4aa8"/>
<rect x="278.2" y="392.9" width="0.9" height="1" fill="#3b4aa8"/>
<line x1="205.5" y1="408.3" x2="382.2" y2="408.3" stroke="#b9c0ea" stroke-width="1.3"/>
<rect x="365.4" y="407.3" width="0.9" height="1" fill="#3b4aa8"/>
<rect x="345.5" y="407.3" width="0.9" height="1" fill="#3b4aa8"/>
<rect x="339.6" y="407.3" width="0.9" height="1" fill="#3b4aa8"/>
<rect x="247.9" y="407.3" width="0.9" height="1" fill="#3b4aa8"/>
<rect x="301" y="407.3" width="0.9" height="1" fill="#3b4aa8"/>
<rect x="257.2" y="407.3" width="0.9" height="1" fill="#3b4aa8"/>
<line x1="205.5" y1="423" x2="382.2" y2="423" stroke="#6572c9" stroke-width="0.9"/>
<path d="M228.4 393.9 L228.4 393.8 L228.8 393.7 L229.2 393.4 L229.6 392.7 L230 391.7 L230.4 390.4 L230.8 388.4 L231.2 387.2 L231.6 385.9 L232 384.4 L232.4 384.7 L232.8 384 L233.2 383.8 L233.6 384.6 L234 384 L234.4 384.7 L234.8 385.7 L235.2 385.8 L235.6 387.4 L236 388.5 L236.4 389.4 L236.8 390.8 L237.2 391.6 L237.6 392.4 L238 393 L238 393.9Z" fill="#7b62ad"/>
<path d="M228.4 408.3 L228.4 408.2 L228.8 408.1 L229.2 407.8 L229.6 407.1 L230 406.1 L230.4 404.8 L230.8 402.8 L231.2 401.6 L231.6 400.3 L232 398.8 L232.4 399.1 L232.8 398.4 L233.2 398.2 L233.6 399 L234 398.4 L234.4 399.1 L234.8 400.1 L235.2 400.2 L235.6 401.8 L236 402.9 L236.4 403.8 L236.8 405.2 L237.2 406 L237.6 406.8 L238 407.4 L238 408.3Z" fill="#7b62ad"/>
<path d="M230.3 423 L230.3 423 L230.6 423 L230.8 422.9 L231.1 422.8 L231.4 422.6 L231.6 422.4 L231.9 422.1 L232.2 421.9 L232.4 421.7 L232.7 421.4 L233 421.5 L233.2 421.4 L233.5 421.4 L233.8 421.5 L234 421.4 L234.3 421.5 L234.6 421.7 L234.8 421.7 L235.1 421.9 L235.4 422.1 L235.6 422.3 L235.9 422.5 L236.2 422.6 L236.4 422.8 L236.7 422.9 L236.7 423Z" fill="#7b62ad"/>
<text x="206.2" y="389.2" font-size="7.4">[0 - 200]</text>
<text x="206.2" y="400.1" font-size="7.4">[0 - 200]</text>
<text x="206.2" y="414.8" font-size="7.4">[0 - 200]</text>
<line x1="233" y1="432.7" x2="357" y2="432.7" stroke="#3545a8" stroke-width="0.7"/>
<rect x="265.5" y="431.4" width="2" height="2.6" fill="#2a3a9e"/>
<rect x="281" y="431.4" width="3" height="2.6" fill="#2a3a9e"/>
<rect x="286" y="431.4" width="2" height="2.6" fill="#2a3a9e"/>
<rect x="292" y="431.4" width="2" height="2.6" fill="#2a3a9e"/>
<rect x="297.5" y="431.4" width="2" height="2.6" fill="#2a3a9e"/>
<rect x="303" y="431.4" width="2.5" height="2.6" fill="#2a3a9e"/>
<rect x="340" y="431.4" width="1.5" height="2.6" fill="#2a3a9e"/>
<rect x="345" y="431.4" width="1.5" height="2.6" fill="#2a3a9e"/>
<rect x="353" y="431.7" width="4" height="2" fill="#2a3a9e"/>
<text x="288" y="443.2" font-size="8.6" text-anchor="middle">PCK2</text>
<rect x="279" y="393.3" width="7" height="1.4" fill="#5a68c6"/>
<rect x="292" y="393.3" width="8" height="1.4" fill="#5a68c6"/>
<rect x="375" y="392.9" width="7" height="2" fill="#2a3a9e"/>
<rect x="279" y="407.7" width="7" height="1.4" fill="#5a68c6"/>
<rect x="292" y="407.7" width="8" height="1.4" fill="#5a68c6"/>
<rect x="375" y="407.3" width="7" height="2" fill="#2a3a9e"/>
<rect x="213" y="422.2" width="4" height="1.6" fill="#2a3a9e"/>
<rect x="246" y="421.6" width="4" height="2.2" fill="#2a3a9e"/>
<rect x="22.8" y="460.8" width="6.4" height="57" fill="#ecd2cd"/>
<line x1="21.9" y1="476.9" x2="198.5" y2="476.9" stroke="#c6cbee" stroke-width="1.5"/>
<rect x="131.9" y="475.9" width="0.9" height="1" fill="#3b4aa8"/>
<rect x="152" y="475.9" width="0.9" height="1" fill="#3b4aa8"/>
<rect x="161" y="475.9" width="0.9" height="1" fill="#3b4aa8"/>
<rect x="185.8" y="475.9" width="0.9" height="1" fill="#3b4aa8"/>
<rect x="151.6" y="475.9" width="0.9" height="1" fill="#3b4aa8"/>
<rect x="182.4" y="475.9" width="0.9" height="1" fill="#3b4aa8"/>
<rect x="31.8" y="475.9" width="0.9" height="1" fill="#3b4aa8"/>
<rect x="105.4" y="475.9" width="0.9" height="1" fill="#3b4aa8"/>
<rect x="185.9" y="475.9" width="0.9" height="1" fill="#3b4aa8"/>
<rect x="136.3" y="475.9" width="0.9" height="1" fill="#3b4aa8"/>
<rect x="178.8" y="475.9" width="0.9" height="1" fill="#3b4aa8"/>
<rect x="46" y="475.9" width="0.9" height="1" fill="#3b4aa8"/>
<rect x="106" y="475.9" width="0.9" height="1" fill="#3b4aa8"/>
<rect x="68.5" y="475.9" width="0.9" height="1" fill="#3b4aa8"/>
<rect x="118.6" y="475.9" width="0.9" height="1" fill="#3b4aa8"/>
<rect x="123.7" y="475.9" width="0.9" height="1" fill="#3b4aa8"/>
<rect x="29.1" y="475.9" width="0.9" height="1" fill="#3b4aa8"/>
<rect x="63.4" y="475.9" width="0.9" height="1" fill="#3b4aa8"/>
<rect x="74" y="475.9" width="0.9" height="1" fill="#3b4aa8"/>
<rect x="181.4" y="475.9" width="0.9" height="1" fill="#3b4aa8"/>
<rect x="156" y="475.9" width="0.9" height="1" fill="#3b4aa8"/>
<rect x="53.8" y="475.9" width="0.9" height="1" fill="#3b4aa8"/>
<rect x="161.3" y="475.9" width="0.9" height="1" fill="#3b4aa8"/>
<rect x="50.3" y="475.9" width="0.9" height="1" fill="#3b4aa8"/>
<rect x="131" y="475.9" width="0.9" height="1" fill="#3b4aa8"/>
<rect x="48.3" y="475.9" width="0.9" height="1" fill="#3b4aa8"/>
<rect x="27.2" y="475.9" width="0.9" height="1" fill="#3b4aa8"/>
<rect x="173.8" y="475.9" width="0.9" height="1" fill="#3b4aa8"/>
<rect x="62.2" y="475.9" width="0.9" height="1" fill="#3b4aa8"/>
<rect x="63.2" y="475.9" width="0.9" height="1" fill="#3b4aa8"/>
<line x1="21.9" y1="491.5" x2="198.5" y2="491.5" stroke="#b9c0ea" stroke-width="1.3"/>
<rect x="192.5" y="490.5" width="0.9" height="1" fill="#3b4aa8"/>
<rect x="174" y="490.5" width="0.9" height="1" fill="#3b4aa8"/>
<rect x="75.7" y="490.5" width="0.9" height="1" fill="#3b4aa8"/>
<rect x="189" y="490.5" width="0.9" height="1" fill="#3b4aa8"/>
<rect x="117.8" y="490.5" width="0.9" height="1" fill="#3b4aa8"/>
<rect x="141.2" y="490.5" width="0.9" height="1" fill="#3b4aa8"/>
<rect x="61.4" y="490.5" width="0.9" height="1" fill="#3b4aa8"/>
<rect x="185.5" y="490.5" width="0.9" height="1" fill="#3b4aa8"/>
<rect x="143.3" y="490.5" width="0.9" height="1" fill="#3b4aa8"/>
<rect x="189.9" y="490.5" width="0.9" height="1" fill="#3b4aa8"/>
<rect x="177.6" y="490.5" width="0.9" height="1" fill="#3b4aa8"/>
<rect x="77.3" y="490.5" width="0.9" height="1" fill="#3b4aa8"/>
<rect x="87.8" y="490.5" width="0.9" height="1" fill="#3b4aa8"/>
<rect x="54.9" y="490.5" width="0.9" height="1" fill="#3b4aa8"/>
<rect x="51.5" y="490.5" width="0.9" height="1" fill="#3b4aa8"/>
<rect x="37.9" y="490.5" width="0.9" height="1" fill="#3b4aa8"/>
<rect x="77.7" y="490.5" width="0.9" height="1" fill="#3b4aa8"/>
<rect x="128.6" y="490.5" width="0.9" height="1" fill="#3b4aa8"/>
<rect x="27.5" y="490.5" width="0.9" height="1" fill="#3b4aa8"/>
<rect x="141.2" y="490.5" width="0.9" height="1" fill="#3b4aa8"/>
<rect x="83.9" y="490.5" width="0.9" height="1" fill="#3b4aa8"/>
<rect x="79.2" y="490.5" width="0.9" height="1" fill="#3b4aa8"/>
<rect x="164.9" y="490.5" width="0.9" height="1" fill="#3b4aa8"/>
<rect x="108" y="490.5" width="0.9" height="1" fill="#3b4aa8"/>
<rect x="80.1" y="490.5" width="0.9" height="1" fill="#3b4aa8"/>
<rect x="108" y="490.5" width="0.9" height="1" fill="#3b4aa8"/>
<rect x="145.7" y="490.5" width="0.9" height="1" fill="#3b4aa8"/>
<rect x="36.5" y="490.5" width="0.9" height="1" fill="#3b4aa8"/>
<rect x="191.3" y="490.5" width="0.9" height="1" fill="#3b4aa8"/>
<rect x="30.8" y="490.5" width="0.9" height="1" fill="#3b4aa8"/>
<line x1="21.9" y1="506" x2="198.5" y2="506" stroke="#6572c9" stroke-width="0.9"/>
<path d="M24.8 476.9 L25.5 470.3 L25.9 464.9 L26.4 465.9 L26.8 472.1 L27.4 476.9Z" fill="#7b62ad"/>
<path d="M25 491.5 L25.6 488.5 L25.9 486 L26.4 486.4 L26.7 489.3 L27.2 491.5Z" fill="#7b62ad"/>
<path d="M25.4 506 L25.8 502.7 L25.9 500 L26.4 500.5 L26.5 503.6 L26.8 506Z" fill="#7b62ad"/>
<path d="M50.2 476.9 L50.5 475.2 L50.5 473.9 L51 474.1 L51 475.7 L51.2 476.9Z" fill="#7b62ad"/>
<path d="M50.2 491.5 L50.5 490.1 L50.5 488.9 L51 489.1 L51 490.5 L51.2 491.5Z" fill="#7b62ad"/>
<path d="M147 476.9 L147.3 475.1 L147.2 473.7 L147.8 474 L147.8 475.6 L148 476.9Z" fill="#7b62ad"/>
<path d="M147 491.5 L147.3 490 L147.2 488.7 L147.8 488.9 L147.8 490.4 L148 491.5Z" fill="#7b62ad"/>
<path d="M128 476.9 L128.3 475.5 L128.2 474.4 L128.8 474.6 L128.8 475.9 L129 476.9Z" fill="#7b62ad"/>
<path d="M164.5 476.9 L164.8 475.8 L164.8 474.9 L165.3 475.1 L165.2 476.1 L165.5 476.9Z" fill="#7b62ad"/>
<path d="M164.5 491.5 L164.8 490.4 L164.8 489.5 L165.3 489.7 L165.2 490.7 L165.5 491.5Z" fill="#7b62ad"/>
<text x="22.8" y="472.2" font-size="7.4">[0 - 200]</text>
<text x="22.8" y="483.3" font-size="7.4">[0 - 200]</text>
<text x="22.8" y="497.8" font-size="7.4">[0 - 200]</text>
<line x1="25" y1="515.7" x2="198" y2="515.7" stroke="#3545a8" stroke-width="0.7"/>
<rect x="29.7" y="514.4" width="1.1" height="2.6" fill="#2a3a9e"/>
<rect x="35.8" y="514.4" width="1.5" height="2.6" fill="#2a3a9e"/>
<rect x="44.1" y="514.4" width="1.2" height="2.6" fill="#2a3a9e"/>
<rect x="51.1" y="514.4" width="0.9" height="2.6" fill="#2a3a9e"/>
<rect x="61.3" y="514.4" width="0.7" height="2.6" fill="#2a3a9e"/>
<rect x="68.7" y="514.4" width="1.5" height="2.6" fill="#2a3a9e"/>
<rect x="75.1" y="514.4" width="1.1" height="2.6" fill="#2a3a9e"/>
<rect x="79.9" y="514.4" width="1.6" height="2.6" fill="#2a3a9e"/>
<rect x="91.5" y="514.4" width="0.7" height="2.6" fill="#2a3a9e"/>
<rect x="94.5" y="514.4" width="1.4" height="2.6" fill="#2a3a9e"/>
<rect x="111.8" y="514.4" width="1.4" height="2.6" fill="#2a3a9e"/>
<rect x="115.3" y="514.4" width="1.5" height="2.6" fill="#2a3a9e"/>
<rect x="121.7" y="514.4" width="0.6" height="2.6" fill="#2a3a9e"/>
<rect x="139.4" y="514.4" width="1" height="2.6" fill="#2a3a9e"/>
<rect x="146.8" y="514.4" width="0.7" height="2.6" fill="#2a3a9e"/>
<rect x="147.1" y="514.4" width="1.4" height="2.6" fill="#2a3a9e"/>
<rect x="154.1" y="514.4" width="1" height="2.6" fill="#2a3a9e"/>
<rect x="157.5" y="514.4" width="1.6" height="2.6" fill="#2a3a9e"/>
<rect x="164.6" y="514.4" width="1" height="2.6" fill="#2a3a9e"/>
<rect x="165.6" y="514.4" width="1.4" height="2.6" fill="#2a3a9e"/>
<rect x="171.4" y="514.4" width="1.5" height="2.6" fill="#2a3a9e"/>
<rect x="176.4" y="514.4" width="0.8" height="2.6" fill="#2a3a9e"/>
<rect x="188.5" y="514.4" width="1.2" height="2.6" fill="#2a3a9e"/>
<rect x="190.2" y="514.4" width="1.6" height="2.6" fill="#2a3a9e"/>
<rect x="191.2" y="514.4" width="1.1" height="2.6" fill="#2a3a9e"/>
<rect x="197.7" y="514.4" width="1" height="2.6" fill="#2a3a9e"/>
<rect x="150" y="514.6" width="20" height="2.2" fill="#2a3a9e"/>
<rect x="180" y="514.5" width="18" height="2.4" fill="#2a3a9e"/>
<text x="108" y="525.7" font-size="8.6" text-anchor="middle">EGFR</text>
<text x="4.4" y="476" font-size="8.6">IP-1</text>
<text x="4.4" y="491.6" font-size="8.6">IP-2</text>
<text x="4.4" y="505.6" font-size="8.6">IgG</text>
<rect x="208.9" y="463.3" width="6.9" height="56.1" fill="#ecd2cd"/>
<line x1="205.5" y1="476.6" x2="380.3" y2="476.6" stroke="#c6cbee" stroke-width="1.5"/>
<rect x="342.8" y="475.6" width="0.9" height="1" fill="#3b4aa8"/>
<rect x="347.6" y="475.6" width="0.9" height="1" fill="#3b4aa8"/>
<rect x="291.4" y="475.6" width="0.9" height="1" fill="#3b4aa8"/>
<rect x="254.1" y="475.6" width="0.9" height="1" fill="#3b4aa8"/>
<rect x="210.6" y="475.6" width="0.9" height="1" fill="#3b4aa8"/>
<rect x="321.1" y="475.6" width="0.9" height="1" fill="#3b4aa8"/>
<rect x="288.9" y="475.6" width="0.9" height="1" fill="#3b4aa8"/>
<rect x="337.2" y="475.6" width="0.9" height="1" fill="#3b4aa8"/>
<rect x="272.7" y="475.6" width="0.9" height="1" fill="#3b4aa8"/>
<rect x="339" y="475.6" width="0.9" height="1" fill="#3b4aa8"/>
<rect x="256" y="475.6" width="0.9" height="1" fill="#3b4aa8"/>
<rect x="344.3" y="475.6" width="0.9" height="1" fill="#3b4aa8"/>
<rect x="332.2" y="475.6" width="0.9" height="1" fill="#3b4aa8"/>
<rect x="279.6" y="475.6" width="0.9" height="1" fill="#3b4aa8"/>
<rect x="300.3" y="475.6" width="0.9" height="1" fill="#3b4aa8"/>
<rect x="324.3" y="475.6" width="0.9" height="1" fill="#3b4aa8"/>
<line x1="205.5" y1="491" x2="380.3" y2="491" stroke="#b9c0ea" stroke-width="1.3"/>
<rect x="242.7" y="490" width="0.9" height="1" fill="#3b4aa8"/>
<rect x="302.8" y="490" width="0.9" height="1" fill="#3b4aa8"/>
<rect x="344.8" y="490" width="0.9" height="1" fill="#3b4aa8"/>
<rect x="254.8" y="490" width="0.9" height="1" fill="#3b4aa8"/>
<rect x="344.5" y="490" width="0.9" height="1" fill="#3b4aa8"/>
<rect x="324.9" y="490" width="0.9" height="1" fill="#3b4aa8"/>
<rect x="351.3" y="490" width="0.9" height="1" fill="#3b4aa8"/>
<rect x="266.5" y="490" width="0.9" height="1" fill="#3b4aa8"/>
<rect x="226" y="490" width="0.9" height="1" fill="#3b4aa8"/>
<rect x="344" y="490" width="0.9" height="1" fill="#3b4aa8"/>
<rect x="344.7" y="490" width="0.9" height="1" fill="#3b4aa8"/>
<rect x="284.8" y="490" width="0.9" height="1" fill="#3b4aa8"/>
<rect x="226.1" y="490" width="0.9" height="1" fill="#3b4aa8"/>
<rect x="243.4" y="490" width="0.9" height="1" fill="#3b4aa8"/>
<rect x="316.4" y="490" width="0.9" height="1" fill="#3b4aa8"/>
<rect x="259.1" y="490" width="0.9" height="1" fill="#3b4aa8"/>
<line x1="205.5" y1="506.3" x2="380.3" y2="506.3" stroke="#6572c9" stroke-width="0.9"/>
<path d="M211.5 476.6 L212.1 470.8 L212.3 466.1 L212.9 466.9 L213.2 472.4 L213.7 476.6Z" fill="#7b62ad"/>
<path d="M211.5 491 L212.1 484.9 L212.3 480 L212.9 480.9 L213.2 486.6 L213.7 491Z" fill="#7b62ad"/>
<path d="M211.7 506.3 L212.2 504.7 L212.3 503.3 L212.9 503.5 L213 505.1 L213.5 506.3Z" fill="#7b62ad"/>
<path d="M300.5 476.6 L300.8 475.3 L300.8 474.2 L301.3 474.4 L301.2 475.6 L301.5 476.6Z" fill="#7b62ad"/>
<path d="M300.5 491 L300.8 489.7 L300.8 488.6 L301.3 488.8 L301.2 490 L301.5 491Z" fill="#7b62ad"/>
<path d="M357.5 476.6 L357.8 475.6 L357.8 474.8 L358.3 474.9 L358.2 475.9 L358.5 476.6Z" fill="#7b62ad"/>
<path d="M299.5 506.3 L299.8 505.6 L299.8 505.1 L300.3 505.2 L300.2 505.8 L300.5 506.3Z" fill="#7b62ad"/>
<text x="206.3" y="471.9" font-size="7.4">[0 - 1000]</text>
<text x="206.3" y="482.8" font-size="7.4">[0 - 1000]</text>
<text x="206.3" y="498.1" font-size="7.4">[0 - 1000]</text>
<line x1="214" y1="515.2" x2="380" y2="515.2" stroke="#3545a8" stroke-width="0.7"/>
<rect x="225.8" y="513.9" width="1.3" height="2.6" fill="#2a3a9e"/>
<rect x="230.5" y="513.9" width="0.9" height="2.6" fill="#2a3a9e"/>
<rect x="231.9" y="513.9" width="1.5" height="2.6" fill="#2a3a9e"/>
<rect x="238.6" y="513.9" width="1.4" height="2.6" fill="#2a3a9e"/>
<rect x="247.5" y="513.9" width="1.4" height="2.6" fill="#2a3a9e"/>
<rect x="247.6" y="513.9" width="1.6" height="2.6" fill="#2a3a9e"/>
<rect x="257.2" y="513.9" width="0.8" height="2.6" fill="#2a3a9e"/>
<rect x="257.3" y="513.9" width="1.1" height="2.6" fill="#2a3a9e"/>
<rect x="258.5" y="513.9" width="1.3" height="2.6" fill="#2a3a9e"/>
<rect x="262" y="513.9" width="1.4" height="2.6" fill="#2a3a9e"/>
<rect x="265.6" y="513.9" width="1" height="2.6" fill="#2a3a9e"/>
<rect x="268" y="513.9" width="0.7" height="2.6" fill="#2a3a9e"/>
<rect x="268.3" y="513.9" width="1.2" height="2.6" fill="#2a3a9e"/>
<rect x="278.5" y="513.9" width="0.7" height="2.6" fill="#2a3a9e"/>
<rect x="279.3" y="513.9" width="1.3" height="2.6" fill="#2a3a9e"/>
<rect x="279.7" y="513.9" width="0.6" height="2.6" fill="#2a3a9e"/>
<rect x="282.8" y="513.9" width="1.1" height="2.6" fill="#2a3a9e"/>
<rect x="298.9" y="513.9" width="1.1" height="2.6" fill="#2a3a9e"/>
<rect x="300.4" y="513.9" width="0.7" height="2.6" fill="#2a3a9e"/>
<rect x="304" y="513.9" width="1.1" height="2.6" fill="#2a3a9e"/>
<rect x="308.5" y="513.9" width="1.1" height="2.6" fill="#2a3a9e"/>
<rect x="326.4" y="513.9" width="1" height="2.6" fill="#2a3a9e"/>
<rect x="334.8" y="513.9" width="1.5" height="2.6" fill="#2a3a9e"/>
<rect x="335.8" y="513.9" width="1.5" height="2.6" fill="#2a3a9e"/>
<rect x="339.4" y="513.9" width="1.5" height="2.6" fill="#2a3a9e"/>
<rect x="344.3" y="513.9" width="0.8" height="2.6" fill="#2a3a9e"/>
<rect x="347.3" y="513.9" width="0.6" height="2.6" fill="#2a3a9e"/>
<rect x="379.5" y="513.9" width="1" height="2.6" fill="#2a3a9e"/>
<rect x="370" y="514" width="10" height="2.4" fill="#2a3a9e"/>
<text x="289.3" y="525.4" font-size="8.6" text-anchor="middle">RXRA</text>
<text x="384" y="290" font-size="11" font-weight="bold" fill="#000">i</text>
<line x1="413" y1="295.2" x2="413" y2="390.6" stroke="#1a1a1a" stroke-width="1.3"/>
<line x1="412.4" y1="390.6" x2="684.5" y2="390.6" stroke="#111" stroke-width="1.3"/>
<line x1="409.8" y1="390.6" x2="413" y2="390.6" stroke="#111" stroke-width="1.1"/>
<text x="408.1" y="393.3" font-size="7.6" text-anchor="end">0.0</text>
<line x1="409.8" y1="366.9" x2="413" y2="366.9" stroke="#111" stroke-width="1.1"/>
<text x="408.1" y="369.6" font-size="7.6" text-anchor="end">0.5</text>
<line x1="409.8" y1="343.2" x2="413" y2="343.2" stroke="#111" stroke-width="1.1"/>
<text x="408.1" y="345.9" font-size="7.6" text-anchor="end">1.0</text>
<line x1="409.8" y1="319.5" x2="413" y2="319.5" stroke="#111" stroke-width="1.1"/>
<text x="408.1" y="322.2" font-size="7.6" text-anchor="end">1.5</text>
<line x1="409.8" y1="295.8" x2="413" y2="295.8" stroke="#111" stroke-width="1.1"/>
<text x="408.1" y="298.5" font-size="7.6" text-anchor="end">2.0</text>
<text x="394.8" y="343.5" font-size="8.6" text-anchor="middle" transform="rotate(-90 394.8 343.5)">Relative RNA expression</text>
<rect x="415" y="343.2" width="4.6" height="47.4" fill="#629dd6"/>
<rect x="421.3" y="381.1" width="4.6" height="9.5" fill="#ea8a75"/>
<rect x="427.6" y="389.7" width="4.6" height="0.9" fill="#3fbf72"/>
<line x1="417.3" y1="351.3" x2="417.3" y2="334.7" stroke="#111" stroke-width="0.6"/>
<line x1="416.4" y1="334.7" x2="418.2" y2="334.7" stroke="#111" stroke-width="0.6"/>
<line x1="416.4" y1="351.3" x2="418.2" y2="351.3" stroke="#111" stroke-width="0.6"/>
<circle cx="416.9" cy="335.6" r="0.9" fill="#111"/>
<circle cx="417.5" cy="344.6" r="0.9" fill="#111"/>
<circle cx="417.5" cy="348.9" r="0.9" fill="#111"/>
<line x1="423.6" y1="383.5" x2="423.6" y2="378.8" stroke="#111" stroke-width="0.6"/>
<line x1="422.7" y1="378.8" x2="424.5" y2="378.8" stroke="#111" stroke-width="0.6"/>
<line x1="422.7" y1="383.5" x2="424.5" y2="383.5" stroke="#111" stroke-width="0.6"/>
<circle cx="423.6" cy="382.2" r="0.9" fill="#111"/>
<circle cx="424.2" cy="380" r="0.9" fill="#111"/>
<circle cx="423.6" cy="381.1" r="0.9" fill="#111"/>
<line x1="429.9" y1="390.6" x2="429.9" y2="387.3" stroke="#111" stroke-width="0.6"/>
<line x1="429" y1="387.3" x2="430.8" y2="387.3" stroke="#111" stroke-width="0.6"/>
<line x1="429" y1="390.6" x2="430.8" y2="390.6" stroke="#111" stroke-width="0.6"/>
<circle cx="429.4" cy="391.5" r="0.9" fill="#111"/>
<circle cx="429.6" cy="389.3" r="0.9" fill="#111"/>
<circle cx="429" cy="388.5" r="0.9" fill="#111"/>
<line x1="423.8" y1="390.6" x2="423.8" y2="393.9" stroke="#111" stroke-width="1.1"/>
<text x="427.2" y="398" font-size="8.2" text-anchor="end" transform="rotate(-45 427.2 398)">COL4A4</text>
<text x="425" y="376.3" font-size="5.0" fill="#111" transform="rotate(-90 425 376.3)"><tspan font-style="italic">p</tspan> = 0.0001</text>
<text x="431.4" y="384.8" font-size="5.0" fill="#111" transform="rotate(-90 431.4 384.8)"><tspan font-style="italic">p</tspan> < 0.0001</text>
<rect x="434" y="343.2" width="4.6" height="47.4" fill="#629dd6"/>
<rect x="440.3" y="382.1" width="4.6" height="8.5" fill="#ea8a75"/>
<rect x="446.6" y="386.8" width="4.6" height="3.8" fill="#3fbf72"/>
<line x1="436.3" y1="348.9" x2="436.3" y2="338.5" stroke="#111" stroke-width="0.6"/>
<line x1="435.4" y1="338.5" x2="437.2" y2="338.5" stroke="#111" stroke-width="0.6"/>
<line x1="435.4" y1="348.9" x2="437.2" y2="348.9" stroke="#111" stroke-width="0.6"/>
<circle cx="436" cy="339.4" r="0.9" fill="#111"/>
<circle cx="436" cy="344.6" r="0.9" fill="#111"/>
<circle cx="435.8" cy="346.5" r="0.9" fill="#111"/>
<line x1="442.6" y1="384.4" x2="442.6" y2="379.7" stroke="#111" stroke-width="0.6"/>
<line x1="441.7" y1="379.7" x2="443.5" y2="379.7" stroke="#111" stroke-width="0.6"/>
<line x1="441.7" y1="384.4" x2="443.5" y2="384.4" stroke="#111" stroke-width="0.6"/>
<circle cx="443.6" cy="381.2" r="0.9" fill="#111"/>
<circle cx="443.4" cy="381.6" r="0.9" fill="#111"/>
<circle cx="441.7" cy="382.7" r="0.9" fill="#111"/>
<line x1="448.9" y1="389.2" x2="448.9" y2="384.4" stroke="#111" stroke-width="0.6"/>
<line x1="448" y1="384.4" x2="449.8" y2="384.4" stroke="#111" stroke-width="0.6"/>
<line x1="448" y1="389.2" x2="449.8" y2="389.2" stroke="#111" stroke-width="0.6"/>
<circle cx="448.9" cy="388.3" r="0.9" fill="#111"/>
<circle cx="449.8" cy="387.3" r="0.9" fill="#111"/>
<circle cx="448.2" cy="385.6" r="0.9" fill="#111"/>
<line x1="442.8" y1="390.6" x2="442.8" y2="393.9" stroke="#111" stroke-width="1.1"/>
<text x="446.2" y="398" font-size="8.2" text-anchor="end" transform="rotate(-45 446.2 398)">GNG12</text>
<text x="444" y="377.2" font-size="5.0" fill="#111" transform="rotate(-90 444 377.2)"><tspan font-style="italic">p</tspan> < 0.0001</text>
<text x="450.4" y="382" font-size="5.0" fill="#111" transform="rotate(-90 450.4 382)"><tspan font-style="italic">p</tspan> < 0.0001</text>
<rect x="453" y="343.2" width="4.6" height="47.4" fill="#629dd6"/>
<rect x="459.3" y="382.1" width="4.6" height="8.5" fill="#ea8a75"/>
<rect x="465.6" y="387.3" width="4.6" height="3.3" fill="#3fbf72"/>
<line x1="455.3" y1="349.8" x2="455.3" y2="337" stroke="#111" stroke-width="0.6"/>
<line x1="454.4" y1="337" x2="456.2" y2="337" stroke="#111" stroke-width="0.6"/>
<line x1="454.4" y1="349.8" x2="456.2" y2="349.8" stroke="#111" stroke-width="0.6"/>
<circle cx="454.8" cy="338" r="0.9" fill="#111"/>
<circle cx="455.8" cy="344.6" r="0.9" fill="#111"/>
<circle cx="455.2" cy="347.5" r="0.9" fill="#111"/>
<line x1="461.6" y1="384.4" x2="461.6" y2="379.7" stroke="#111" stroke-width="0.6"/>
<line x1="460.7" y1="379.7" x2="462.5" y2="379.7" stroke="#111" stroke-width="0.6"/>
<line x1="460.7" y1="384.4" x2="462.5" y2="384.4" stroke="#111" stroke-width="0.6"/>
<circle cx="461.7" cy="382.7" r="0.9" fill="#111"/>
<circle cx="461.6" cy="383.3" r="0.9" fill="#111"/>
<circle cx="460.7" cy="380.7" r="0.9" fill="#111"/>
<line x1="467.9" y1="389.7" x2="467.9" y2="384.9" stroke="#111" stroke-width="0.6"/>
<line x1="467" y1="384.9" x2="468.8" y2="384.9" stroke="#111" stroke-width="0.6"/>
<line x1="467" y1="389.7" x2="468.8" y2="389.7" stroke="#111" stroke-width="0.6"/>
<circle cx="467.4" cy="386.2" r="0.9" fill="#111"/>
<circle cx="467.3" cy="385.5" r="0.9" fill="#111"/>
<circle cx="468.7" cy="386.3" r="0.9" fill="#111"/>
<line x1="461.8" y1="390.6" x2="461.8" y2="393.9" stroke="#111" stroke-width="1.1"/>
<text x="465.2" y="398" font-size="8.2" text-anchor="end" transform="rotate(-45 465.2 398)">IRS1</text>
<text x="463" y="377.2" font-size="5.0" fill="#111" transform="rotate(-90 463 377.2)"><tspan font-style="italic">p</tspan> < 0.0001</text>
<text x="469.4" y="382.5" font-size="5.0" fill="#111" transform="rotate(-90 469.4 382.5)"><tspan font-style="italic">p</tspan> < 0.0001</text>
<rect x="472" y="342.3" width="4.6" height="48.3" fill="#629dd6"/>
<rect x="478.3" y="386.3" width="4.6" height="4.3" fill="#ea8a75"/>
<rect x="484.6" y="388.7" width="4.6" height="1.9" fill="#3fbf72"/>
<line x1="474.3" y1="357.4" x2="474.3" y2="326.6" stroke="#111" stroke-width="0.6"/>
<line x1="473.4" y1="326.6" x2="475.2" y2="326.6" stroke="#111" stroke-width="0.6"/>
<line x1="473.4" y1="357.4" x2="475.2" y2="357.4" stroke="#111" stroke-width="0.6"/>
<circle cx="474.6" cy="327.6" r="0.9" fill="#111"/>
<circle cx="474.4" cy="343.7" r="0.9" fill="#111"/>
<circle cx="474.6" cy="355.1" r="0.9" fill="#111"/>
<line x1="480.6" y1="388.7" x2="480.6" y2="384" stroke="#111" stroke-width="0.6"/>
<line x1="479.7" y1="384" x2="481.5" y2="384" stroke="#111" stroke-width="0.6"/>
<line x1="479.7" y1="388.7" x2="481.5" y2="388.7" stroke="#111" stroke-width="0.6"/>
<circle cx="479.8" cy="386.4" r="0.9" fill="#111"/>
<circle cx="481.3" cy="387.5" r="0.9" fill="#111"/>
<circle cx="481.4" cy="384.9" r="0.9" fill="#111"/>
<line x1="486.9" y1="390.6" x2="486.9" y2="386.3" stroke="#111" stroke-width="0.6"/>
<line x1="486" y1="386.3" x2="487.8" y2="386.3" stroke="#111" stroke-width="0.6"/>
<line x1="486" y1="390.6" x2="487.8" y2="390.6" stroke="#111" stroke-width="0.6"/>
<circle cx="486.7" cy="389.2" r="0.9" fill="#111"/>
<circle cx="486.8" cy="389.1" r="0.9" fill="#111"/>
<circle cx="487.9" cy="389.1" r="0.9" fill="#111"/>
<line x1="480.8" y1="390.6" x2="480.8" y2="393.9" stroke="#111" stroke-width="1.1"/>
<text x="484.2" y="398" font-size="8.2" text-anchor="end" transform="rotate(-45 484.2 398)">CDK6</text>
<text x="482" y="381.5" font-size="5.0" fill="#111" transform="rotate(-90 482 381.5)"><tspan font-style="italic">p</tspan> = 0.0014</text>
<text x="488.4" y="383.9" font-size="5.0" fill="#111" transform="rotate(-90 488.4 383.9)"><tspan font-style="italic">p</tspan> = 0.0011</text>
<rect x="491" y="343.2" width="4.6" height="47.4" fill="#629dd6"/>
<rect x="497.3" y="384.9" width="4.6" height="5.7" fill="#ea8a75"/>
<rect x="503.6" y="389.7" width="4.6" height="0.9" fill="#3fbf72"/>
<line x1="493.3" y1="350.3" x2="493.3" y2="333.7" stroke="#111" stroke-width="0.6"/>
<line x1="492.4" y1="333.7" x2="494.2" y2="333.7" stroke="#111" stroke-width="0.6"/>
<line x1="492.4" y1="350.3" x2="494.2" y2="350.3" stroke="#111" stroke-width="0.6"/>
<circle cx="492.7" cy="334.7" r="0.9" fill="#111"/>
<circle cx="492.8" cy="344.6" r="0.9" fill="#111"/>
<circle cx="493.6" cy="347.9" r="0.9" fill="#111"/>
<line x1="499.6" y1="387.3" x2="499.6" y2="382.5" stroke="#111" stroke-width="0.6"/>
<line x1="498.7" y1="382.5" x2="500.5" y2="382.5" stroke="#111" stroke-width="0.6"/>
<line x1="498.7" y1="387.3" x2="500.5" y2="387.3" stroke="#111" stroke-width="0.6"/>
<circle cx="500.6" cy="384.9" r="0.9" fill="#111"/>
<circle cx="499.6" cy="384.7" r="0.9" fill="#111"/>
<circle cx="500.1" cy="386" r="0.9" fill="#111"/>
<line x1="505.9" y1="390.6" x2="505.9" y2="387.3" stroke="#111" stroke-width="0.6"/>
<line x1="505" y1="387.3" x2="506.8" y2="387.3" stroke="#111" stroke-width="0.6"/>
<line x1="505" y1="390.6" x2="506.8" y2="390.6" stroke="#111" stroke-width="0.6"/>
<circle cx="506.1" cy="389.4" r="0.9" fill="#111"/>
<circle cx="506.1" cy="390.9" r="0.9" fill="#111"/>
<circle cx="505.2" cy="390.2" r="0.9" fill="#111"/>
<line x1="499.8" y1="390.6" x2="499.8" y2="393.9" stroke="#111" stroke-width="1.1"/>
<text x="503.2" y="398" font-size="8.2" text-anchor="end" transform="rotate(-45 503.2 398)">PIK3CB</text>
<text x="501" y="380.1" font-size="5.0" fill="#111" transform="rotate(-90 501 380.1)"><tspan font-style="italic">p</tspan> = 0.0001</text>
<text x="507.4" y="384.8" font-size="5.0" fill="#111" transform="rotate(-90 507.4 384.8)"><tspan font-style="italic">p</tspan> < 0.0001</text>
<rect x="510" y="340.8" width="4.6" height="49.8" fill="#629dd6"/>
<rect x="516.3" y="375" width="4.6" height="15.6" fill="#ea8a75"/>
<rect x="522.6" y="389.7" width="4.6" height="0.9" fill="#3fbf72"/>
<line x1="512.3" y1="364.5" x2="512.3" y2="317.1" stroke="#111" stroke-width="0.6"/>
<line x1="511.4" y1="317.1" x2="513.2" y2="317.1" stroke="#111" stroke-width="0.6"/>
<line x1="511.4" y1="364.5" x2="513.2" y2="364.5" stroke="#111" stroke-width="0.6"/>
<circle cx="512.8" cy="318.1" r="0.9" fill="#111"/>
<circle cx="512.1" cy="342.3" r="0.9" fill="#111"/>
<circle cx="512.4" cy="362.2" r="0.9" fill="#111"/>
<line x1="518.6" y1="377.3" x2="518.6" y2="372.6" stroke="#111" stroke-width="0.6"/>
<line x1="517.7" y1="372.6" x2="519.5" y2="372.6" stroke="#111" stroke-width="0.6"/>
<line x1="517.7" y1="377.3" x2="519.5" y2="377.3" stroke="#111" stroke-width="0.6"/>
<circle cx="518.2" cy="376.5" r="0.9" fill="#111"/>
<circle cx="517.7" cy="373.8" r="0.9" fill="#111"/>
<circle cx="519.2" cy="375.4" r="0.9" fill="#111"/>
<line x1="524.9" y1="390.6" x2="524.9" y2="387.3" stroke="#111" stroke-width="0.6"/>
<line x1="524" y1="387.3" x2="525.8" y2="387.3" stroke="#111" stroke-width="0.6"/>
<line x1="524" y1="390.6" x2="525.8" y2="390.6" stroke="#111" stroke-width="0.6"/>
<circle cx="525.3" cy="389" r="0.9" fill="#111"/>
<circle cx="525.7" cy="387.9" r="0.9" fill="#111"/>
<circle cx="524.7" cy="387.8" r="0.9" fill="#111"/>
<line x1="518.8" y1="390.6" x2="518.8" y2="393.9" stroke="#111" stroke-width="1.1"/>
<text x="522.2" y="398" font-size="8.2" text-anchor="end" transform="rotate(-45 522.2 398)">PCK2</text>
<text x="520" y="370.1" font-size="5.0" fill="#111" transform="rotate(-90 520 370.1)"><tspan font-style="italic">p</tspan> = 0.0346</text>
<text x="526.4" y="384.8" font-size="5.0" fill="#111" transform="rotate(-90 526.4 384.8)"><tspan font-style="italic">p</tspan> = 0.0072</text>
<rect x="529" y="343.2" width="4.6" height="47.4" fill="#629dd6"/>
<rect x="535.3" y="385.9" width="4.6" height="4.7" fill="#ea8a75"/>
<rect x="541.6" y="388.7" width="4.6" height="1.9" fill="#3fbf72"/>
<line x1="531.3" y1="351.7" x2="531.3" y2="333.7" stroke="#111" stroke-width="0.6"/>
<line x1="530.4" y1="333.7" x2="532.2" y2="333.7" stroke="#111" stroke-width="0.6"/>
<line x1="530.4" y1="351.7" x2="532.2" y2="351.7" stroke="#111" stroke-width="0.6"/>
<circle cx="531.9" cy="334.7" r="0.9" fill="#111"/>
<circle cx="531.4" cy="344.6" r="0.9" fill="#111"/>
<circle cx="531.8" cy="349.4" r="0.9" fill="#111"/>
<line x1="537.6" y1="388.2" x2="537.6" y2="383.5" stroke="#111" stroke-width="0.6"/>
<line x1="536.7" y1="383.5" x2="538.5" y2="383.5" stroke="#111" stroke-width="0.6"/>
<line x1="536.7" y1="388.2" x2="538.5" y2="388.2" stroke="#111" stroke-width="0.6"/>
<circle cx="537.6" cy="386.3" r="0.9" fill="#111"/>
<circle cx="537.1" cy="384.4" r="0.9" fill="#111"/>
<circle cx="536.9" cy="387.5" r="0.9" fill="#111"/>
<line x1="543.9" y1="390.6" x2="543.9" y2="386.3" stroke="#111" stroke-width="0.6"/>
<line x1="543" y1="386.3" x2="544.8" y2="386.3" stroke="#111" stroke-width="0.6"/>
<line x1="543" y1="390.6" x2="544.8" y2="390.6" stroke="#111" stroke-width="0.6"/>
<circle cx="544.5" cy="387.7" r="0.9" fill="#111"/>
<circle cx="543.9" cy="387.4" r="0.9" fill="#111"/>
<circle cx="543" cy="389.6" r="0.9" fill="#111"/>
<line x1="537.8" y1="390.6" x2="537.8" y2="393.9" stroke="#111" stroke-width="1.1"/>
<text x="541.2" y="398" font-size="8.2" text-anchor="end" transform="rotate(-45 541.2 398)">F2R</text>
<text x="539" y="381" font-size="5.0" fill="#111" transform="rotate(-90 539 381)"><tspan font-style="italic">p</tspan> = 0.0001</text>
<text x="545.4" y="383.9" font-size="5.0" fill="#111" transform="rotate(-90 545.4 383.9)"><tspan font-style="italic">p</tspan> = 0.0001</text>
<rect x="548" y="343.2" width="4.6" height="47.4" fill="#629dd6"/>
<rect x="554.3" y="376.4" width="4.6" height="14.2" fill="#ea8a75"/>
<rect x="560.6" y="385.9" width="4.6" height="4.7" fill="#3fbf72"/>
<line x1="550.3" y1="345.6" x2="550.3" y2="340.8" stroke="#111" stroke-width="0.6"/>
<line x1="549.4" y1="340.8" x2="551.2" y2="340.8" stroke="#111" stroke-width="0.6"/>
<line x1="549.4" y1="345.6" x2="551.2" y2="345.6" stroke="#111" stroke-width="0.6"/>
<circle cx="550" cy="341.8" r="0.9" fill="#111"/>
<circle cx="550.2" cy="344.6" r="0.9" fill="#111"/>
<circle cx="549.9" cy="343.2" r="0.9" fill="#111"/>
<line x1="556.6" y1="378.8" x2="556.6" y2="374" stroke="#111" stroke-width="0.6"/>
<line x1="555.7" y1="374" x2="557.5" y2="374" stroke="#111" stroke-width="0.6"/>
<line x1="555.7" y1="378.8" x2="557.5" y2="378.8" stroke="#111" stroke-width="0.6"/>
<circle cx="555.7" cy="377" r="0.9" fill="#111"/>
<circle cx="557.4" cy="374.5" r="0.9" fill="#111"/>
<circle cx="557.1" cy="376.5" r="0.9" fill="#111"/>
<line x1="562.9" y1="388.2" x2="562.9" y2="383.5" stroke="#111" stroke-width="0.6"/>
<line x1="562" y1="383.5" x2="563.8" y2="383.5" stroke="#111" stroke-width="0.6"/>
<line x1="562" y1="388.2" x2="563.8" y2="388.2" stroke="#111" stroke-width="0.6"/>
<circle cx="562.4" cy="384.1" r="0.9" fill="#111"/>
<circle cx="563" cy="385" r="0.9" fill="#111"/>
<circle cx="562" cy="387" r="0.9" fill="#111"/>
<line x1="556.8" y1="390.6" x2="556.8" y2="393.9" stroke="#111" stroke-width="1.1"/>
<text x="560.2" y="398" font-size="8.2" text-anchor="end" transform="rotate(-45 560.2 398)">PPP2R2C</text>
<text x="558" y="371.6" font-size="5.0" fill="#111" transform="rotate(-90 558 371.6)"><tspan font-style="italic">p</tspan> < 0.0001</text>
<text x="564.4" y="381" font-size="5.0" fill="#111" transform="rotate(-90 564.4 381)"><tspan font-style="italic">p</tspan> < 0.0001</text>
<rect x="567" y="343.2" width="4.6" height="47.4" fill="#629dd6"/>
<rect x="573.3" y="376.4" width="4.6" height="14.2" fill="#ea8a75"/>
<rect x="579.6" y="385.9" width="4.6" height="4.7" fill="#3fbf72"/>
<line x1="569.3" y1="345.6" x2="569.3" y2="340.4" stroke="#111" stroke-width="0.6"/>
<line x1="568.4" y1="340.4" x2="570.2" y2="340.4" stroke="#111" stroke-width="0.6"/>
<line x1="568.4" y1="345.6" x2="570.2" y2="345.6" stroke="#111" stroke-width="0.6"/>
<circle cx="569.7" cy="341.3" r="0.9" fill="#111"/>
<circle cx="569.7" cy="344.6" r="0.9" fill="#111"/>
<circle cx="569.8" cy="343.2" r="0.9" fill="#111"/>
<line x1="575.6" y1="378.8" x2="575.6" y2="374" stroke="#111" stroke-width="0.6"/>
<line x1="574.7" y1="374" x2="576.5" y2="374" stroke="#111" stroke-width="0.6"/>
<line x1="574.7" y1="378.8" x2="576.5" y2="378.8" stroke="#111" stroke-width="0.6"/>
<circle cx="575.8" cy="376.7" r="0.9" fill="#111"/>
<circle cx="575.8" cy="375.1" r="0.9" fill="#111"/>
<circle cx="575.2" cy="376.2" r="0.9" fill="#111"/>
<line x1="581.9" y1="388.2" x2="581.9" y2="383.5" stroke="#111" stroke-width="0.6"/>
<line x1="581" y1="383.5" x2="582.8" y2="383.5" stroke="#111" stroke-width="0.6"/>
<line x1="581" y1="388.2" x2="582.8" y2="388.2" stroke="#111" stroke-width="0.6"/>
<circle cx="581.5" cy="384.8" r="0.9" fill="#111"/>
<circle cx="580.9" cy="385.2" r="0.9" fill="#111"/>
<circle cx="582.8" cy="387.7" r="0.9" fill="#111"/>
<line x1="575.8" y1="390.6" x2="575.8" y2="393.9" stroke="#111" stroke-width="1.1"/>
<text x="579.2" y="398" font-size="8.2" text-anchor="end" transform="rotate(-45 579.2 398)">EGFR</text>
<text x="577" y="371.6" font-size="5.0" fill="#111" transform="rotate(-90 577 371.6)"><tspan font-style="italic">p</tspan> = 0.0001</text>
<text x="583.4" y="381" font-size="5.0" fill="#111" transform="rotate(-90 583.4 381)"><tspan font-style="italic">p</tspan> < 0.0001</text>
<rect x="586" y="342.3" width="4.6" height="48.3" fill="#629dd6"/>
<rect x="592.3" y="381.1" width="4.6" height="9.5" fill="#ea8a75"/>
<rect x="598.6" y="385.9" width="4.6" height="4.7" fill="#3fbf72"/>
<line x1="588.3" y1="350.8" x2="588.3" y2="332.8" stroke="#111" stroke-width="0.6"/>
<line x1="587.4" y1="332.8" x2="589.2" y2="332.8" stroke="#111" stroke-width="0.6"/>
<line x1="587.4" y1="350.8" x2="589.2" y2="350.8" stroke="#111" stroke-width="0.6"/>
<circle cx="588.4" cy="333.7" r="0.9" fill="#111"/>
<circle cx="588.5" cy="343.7" r="0.9" fill="#111"/>
<circle cx="588.7" cy="348.4" r="0.9" fill="#111"/>
<line x1="594.6" y1="383.5" x2="594.6" y2="378.8" stroke="#111" stroke-width="0.6"/>
<line x1="593.7" y1="378.8" x2="595.5" y2="378.8" stroke="#111" stroke-width="0.6"/>
<line x1="593.7" y1="383.5" x2="595.5" y2="383.5" stroke="#111" stroke-width="0.6"/>
<circle cx="594.8" cy="382" r="0.9" fill="#111"/>
<circle cx="594.4" cy="379.4" r="0.9" fill="#111"/>
<circle cx="595.4" cy="382.5" r="0.9" fill="#111"/>
<line x1="600.9" y1="388.2" x2="600.9" y2="383.5" stroke="#111" stroke-width="0.6"/>
<line x1="600" y1="383.5" x2="601.8" y2="383.5" stroke="#111" stroke-width="0.6"/>
<line x1="600" y1="388.2" x2="601.8" y2="388.2" stroke="#111" stroke-width="0.6"/>
<circle cx="600.1" cy="387.4" r="0.9" fill="#111"/>
<circle cx="600" cy="386.1" r="0.9" fill="#111"/>
<circle cx="600.2" cy="384.5" r="0.9" fill="#111"/>
<line x1="594.8" y1="390.6" x2="594.8" y2="393.9" stroke="#111" stroke-width="1.1"/>
<text x="598.2" y="398" font-size="8.2" text-anchor="end" transform="rotate(-45 598.2 398)">RXRA</text>
<text x="596" y="376.3" font-size="5.0" fill="#111" transform="rotate(-90 596 376.3)"><tspan font-style="italic">p</tspan> = 0.0009</text>
<text x="602.4" y="381" font-size="5.0" fill="#111" transform="rotate(-90 602.4 381)"><tspan font-style="italic">p</tspan> = 0.0006</text>
<rect x="605" y="343.2" width="4.6" height="47.4" fill="#629dd6"/>
<rect x="611.3" y="378.8" width="4.6" height="11.9" fill="#ea8a75"/>
<rect x="617.6" y="389.2" width="4.6" height="1.4" fill="#3fbf72"/>
<line x1="607.3" y1="351.3" x2="607.3" y2="333.7" stroke="#111" stroke-width="0.6"/>
<line x1="606.4" y1="333.7" x2="608.2" y2="333.7" stroke="#111" stroke-width="0.6"/>
<line x1="606.4" y1="351.3" x2="608.2" y2="351.3" stroke="#111" stroke-width="0.6"/>
<circle cx="607.5" cy="334.7" r="0.9" fill="#111"/>
<circle cx="606.9" cy="344.6" r="0.9" fill="#111"/>
<circle cx="607.3" cy="348.9" r="0.9" fill="#111"/>
<line x1="613.6" y1="381.1" x2="613.6" y2="376.4" stroke="#111" stroke-width="0.6"/>
<line x1="612.7" y1="376.4" x2="614.5" y2="376.4" stroke="#111" stroke-width="0.6"/>
<line x1="612.7" y1="381.1" x2="614.5" y2="381.1" stroke="#111" stroke-width="0.6"/>
<circle cx="613.2" cy="378.8" r="0.9" fill="#111"/>
<circle cx="613" cy="380" r="0.9" fill="#111"/>
<circle cx="613" cy="379.2" r="0.9" fill="#111"/>
<line x1="619.9" y1="390.6" x2="619.9" y2="386.8" stroke="#111" stroke-width="0.6"/>
<line x1="619" y1="386.8" x2="620.8" y2="386.8" stroke="#111" stroke-width="0.6"/>
<line x1="619" y1="390.6" x2="620.8" y2="390.6" stroke="#111" stroke-width="0.6"/>
<circle cx="620.3" cy="389" r="0.9" fill="#111"/>
<circle cx="619" cy="388.4" r="0.9" fill="#111"/>
<circle cx="620.6" cy="388.1" r="0.9" fill="#111"/>
<line x1="613.8" y1="390.6" x2="613.8" y2="393.9" stroke="#111" stroke-width="1.1"/>
<text x="617.2" y="398" font-size="8.2" text-anchor="end" transform="rotate(-45 617.2 398)">ITGA3</text>
<text x="615" y="373.9" font-size="5.0" fill="#111" transform="rotate(-90 615 373.9)"><tspan font-style="italic">p</tspan> = 0.0002</text>
<text x="621.4" y="384.4" font-size="5.0" fill="#111" transform="rotate(-90 621.4 384.4)"><tspan font-style="italic">p</tspan> = 0.0001</text>
<rect x="624" y="343.2" width="4.6" height="47.4" fill="#629dd6"/>
<rect x="630.3" y="385.9" width="4.6" height="4.7" fill="#ea8a75"/>
<rect x="636.6" y="390.1" width="4.6" height="0.5" fill="#3fbf72"/>
<line x1="626.3" y1="347" x2="626.3" y2="339.9" stroke="#111" stroke-width="0.6"/>
<line x1="625.4" y1="339.9" x2="627.2" y2="339.9" stroke="#111" stroke-width="0.6"/>
<line x1="625.4" y1="347" x2="627.2" y2="347" stroke="#111" stroke-width="0.6"/>
<circle cx="626.6" cy="340.8" r="0.9" fill="#111"/>
<circle cx="625.7" cy="344.6" r="0.9" fill="#111"/>
<circle cx="626.3" cy="344.6" r="0.9" fill="#111"/>
<line x1="632.6" y1="388.2" x2="632.6" y2="383.5" stroke="#111" stroke-width="0.6"/>
<line x1="631.7" y1="383.5" x2="633.5" y2="383.5" stroke="#111" stroke-width="0.6"/>
<line x1="631.7" y1="388.2" x2="633.5" y2="388.2" stroke="#111" stroke-width="0.6"/>
<circle cx="631.7" cy="384.9" r="0.9" fill="#111"/>
<circle cx="632" cy="385.1" r="0.9" fill="#111"/>
<circle cx="632.1" cy="385.1" r="0.9" fill="#111"/>
<line x1="638.9" y1="390.6" x2="638.9" y2="387.8" stroke="#111" stroke-width="0.6"/>
<line x1="638" y1="387.8" x2="639.8" y2="387.8" stroke="#111" stroke-width="0.6"/>
<line x1="638" y1="390.6" x2="639.8" y2="390.6" stroke="#111" stroke-width="0.6"/>
<circle cx="638.5" cy="391.9" r="0.9" fill="#111"/>
<circle cx="638.7" cy="390.8" r="0.9" fill="#111"/>
<circle cx="639.7" cy="390.9" r="0.9" fill="#111"/>
<line x1="632.8" y1="390.6" x2="632.8" y2="393.9" stroke="#111" stroke-width="1.1"/>
<text x="636.2" y="398" font-size="8.2" text-anchor="end" transform="rotate(-45 636.2 398)">ITGB1</text>
<text x="634" y="381" font-size="5.0" fill="#111" transform="rotate(-90 634 381)"><tspan font-style="italic">p</tspan> < 0.0001</text>
<text x="640.4" y="385.3" font-size="5.0" fill="#111" transform="rotate(-90 640.4 385.3)"><tspan font-style="italic">p</tspan> < 0.0001</text>
<rect x="643" y="343.2" width="4.6" height="47.4" fill="#629dd6"/>
<rect x="649.3" y="383.5" width="4.6" height="7.1" fill="#ea8a75"/>
<rect x="655.6" y="388.7" width="4.6" height="1.9" fill="#3fbf72"/>
<line x1="645.3" y1="347.9" x2="645.3" y2="338.9" stroke="#111" stroke-width="0.6"/>
<line x1="644.4" y1="338.9" x2="646.2" y2="338.9" stroke="#111" stroke-width="0.6"/>
<line x1="644.4" y1="347.9" x2="646.2" y2="347.9" stroke="#111" stroke-width="0.6"/>
<circle cx="645.3" cy="339.9" r="0.9" fill="#111"/>
<circle cx="645.4" cy="344.6" r="0.9" fill="#111"/>
<circle cx="645.8" cy="345.6" r="0.9" fill="#111"/>
<line x1="651.6" y1="385.9" x2="651.6" y2="381.1" stroke="#111" stroke-width="0.6"/>
<line x1="650.7" y1="381.1" x2="652.5" y2="381.1" stroke="#111" stroke-width="0.6"/>
<line x1="650.7" y1="385.9" x2="652.5" y2="385.9" stroke="#111" stroke-width="0.6"/>
<circle cx="650.8" cy="383.1" r="0.9" fill="#111"/>
<circle cx="651.6" cy="382.6" r="0.9" fill="#111"/>
<circle cx="652.5" cy="384.2" r="0.9" fill="#111"/>
<line x1="657.9" y1="390.6" x2="657.9" y2="386.3" stroke="#111" stroke-width="0.6"/>
<line x1="657" y1="386.3" x2="658.8" y2="386.3" stroke="#111" stroke-width="0.6"/>
<line x1="657" y1="390.6" x2="658.8" y2="390.6" stroke="#111" stroke-width="0.6"/>
<circle cx="658.3" cy="388.6" r="0.9" fill="#111"/>
<circle cx="658" cy="390.4" r="0.9" fill="#111"/>
<circle cx="658.5" cy="386.9" r="0.9" fill="#111"/>
<line x1="651.8" y1="390.6" x2="651.8" y2="393.9" stroke="#111" stroke-width="1.1"/>
<text x="655.2" y="398" font-size="8.2" text-anchor="end" transform="rotate(-45 655.2 398)">ITGB3</text>
<text x="653" y="378.7" font-size="5.0" fill="#111" transform="rotate(-90 653 378.7)"><tspan font-style="italic">p</tspan> < 0.0001</text>
<text x="659.4" y="383.9" font-size="5.0" fill="#111" transform="rotate(-90 659.4 383.9)"><tspan font-style="italic">p</tspan> < 0.0001</text>
<rect x="662" y="343.2" width="4.6" height="47.4" fill="#629dd6"/>
<rect x="668.3" y="380.2" width="4.6" height="10.4" fill="#ea8a75"/>
<rect x="674.6" y="388.7" width="4.6" height="1.9" fill="#3fbf72"/>
<line x1="664.3" y1="347" x2="664.3" y2="339.4" stroke="#111" stroke-width="0.6"/>
<line x1="663.4" y1="339.4" x2="665.2" y2="339.4" stroke="#111" stroke-width="0.6"/>
<line x1="663.4" y1="347" x2="665.2" y2="347" stroke="#111" stroke-width="0.6"/>
<circle cx="664.1" cy="340.4" r="0.9" fill="#111"/>
<circle cx="664.1" cy="344.6" r="0.9" fill="#111"/>
<circle cx="664.9" cy="344.6" r="0.9" fill="#111"/>
<line x1="670.6" y1="382.5" x2="670.6" y2="377.8" stroke="#111" stroke-width="0.6"/>
<line x1="669.7" y1="377.8" x2="671.5" y2="377.8" stroke="#111" stroke-width="0.6"/>
<line x1="669.7" y1="382.5" x2="671.5" y2="382.5" stroke="#111" stroke-width="0.6"/>
<circle cx="669.8" cy="381.8" r="0.9" fill="#111"/>
<circle cx="669.7" cy="379" r="0.9" fill="#111"/>
<circle cx="671.1" cy="380.4" r="0.9" fill="#111"/>
<line x1="676.9" y1="390.6" x2="676.9" y2="386.3" stroke="#111" stroke-width="0.6"/>
<line x1="676" y1="386.3" x2="677.8" y2="386.3" stroke="#111" stroke-width="0.6"/>
<line x1="676" y1="390.6" x2="677.8" y2="390.6" stroke="#111" stroke-width="0.6"/>
<circle cx="677.1" cy="390.5" r="0.9" fill="#111"/>
<circle cx="677.2" cy="388.9" r="0.9" fill="#111"/>
<circle cx="676.9" cy="389.1" r="0.9" fill="#111"/>
<line x1="670.8" y1="390.6" x2="670.8" y2="393.9" stroke="#111" stroke-width="1.1"/>
<text x="674.2" y="398" font-size="8.2" text-anchor="end" transform="rotate(-45 674.2 398)">ITGB4</text>
<text x="672" y="375.4" font-size="5.0" fill="#111" transform="rotate(-90 672 375.4)"><tspan font-style="italic">p</tspan> < 0.0001</text>
<text x="678.4" y="383.9" font-size="5.0" fill="#111" transform="rotate(-90 678.4 383.9)"><tspan font-style="italic">p</tspan> < 0.0001</text>
<rect x="490.6" y="295.3" width="7.6" height="4.2" fill="#629dd6"/>
<text x="500.2" y="300.4" font-size="8.6">shNC</text>
<rect x="526.5" y="295.3" width="7.6" height="4.2" fill="#ea8a75"/>
<text x="536.1" y="300.4" font-size="8.6">shHL-1</text>
<rect x="567" y="295.3" width="7.6" height="4.2" fill="#3fbf72"/>
<text x="576.6" y="300.4" font-size="8.6">shHL-2</text>
<text x="386" y="429" font-size="11" font-weight="bold" fill="#000">j</text>
<line x1="413.4" y1="430.5" x2="413.4" y2="524.7" stroke="#111" stroke-width="1.3"/>
<line x1="412.8" y1="524.7" x2="684.5" y2="524.7" stroke="#111" stroke-width="1.3"/>
<line x1="409.8" y1="524.7" x2="413.4" y2="524.7" stroke="#111" stroke-width="1.1"/>
<text x="407.8" y="527.5" font-size="7.8" text-anchor="end">0</text>
<line x1="409.8" y1="501.3" x2="413.4" y2="501.3" stroke="#111" stroke-width="1.1"/>
<text x="407.8" y="504.1" font-size="7.8" text-anchor="end">10</text>
<line x1="409.8" y1="477.9" x2="413.4" y2="477.9" stroke="#111" stroke-width="1.1"/>
<text x="407.8" y="480.7" font-size="7.8" text-anchor="end">20</text>
<line x1="409.8" y1="454.5" x2="413.4" y2="454.5" stroke="#111" stroke-width="1.1"/>
<text x="407.8" y="457.3" font-size="7.8" text-anchor="end">30</text>
<line x1="409.8" y1="431.1" x2="413.4" y2="431.1" stroke="#111" stroke-width="1.1"/>
<text x="407.8" y="433.9" font-size="7.8" text-anchor="end">40</text>
<text x="394.3" y="479.5" font-size="8.6" text-anchor="middle" transform="rotate(-90 394.3 479.5)">Normalized to input (%)</text>
<rect x="416.1" y="524" width="6.7" height="0.7" fill="#629dd6"/>
<rect x="426.1" y="522.4" width="5.8" height="2.3" fill="#ea8a75"/>
<line x1="419.4" y1="524.2" x2="419.4" y2="523.5" stroke="#111" stroke-width="0.7"/>
<line x1="418.2" y1="523.5" x2="420.6" y2="523.5" stroke="#111" stroke-width="0.7"/>
<line x1="418.2" y1="524.2" x2="420.6" y2="524.2" stroke="#111" stroke-width="0.7"/>
<line x1="429" y1="523.1" x2="429" y2="521.9" stroke="#111" stroke-width="0.7"/>
<line x1="427.8" y1="521.9" x2="430.2" y2="521.9" stroke="#111" stroke-width="0.7"/>
<line x1="427.8" y1="523.1" x2="430.2" y2="523.1" stroke="#111" stroke-width="0.7"/>
<circle cx="419.5" cy="524.2" r="1.1" fill="#111"/>
<circle cx="429.3" cy="523.1" r="0.9" fill="#111"/>
<circle cx="419.9" cy="524" r="1.1" fill="#111"/>
<circle cx="428.6" cy="522.5" r="0.9" fill="#111"/>
<circle cx="419.7" cy="523.6" r="1.1" fill="#111"/>
<circle cx="429.8" cy="521.9" r="0.9" fill="#111"/>
<path d="M419.4 520.9 V519.1 H429 V520.9" fill="none" stroke="#222" stroke-width="0.6"/>
<text x="426.2" y="517.6" font-size="5.0" fill="#111" transform="rotate(-90 426.2 517.6)"><tspan font-style="italic">p</tspan> = 0.0037</text>
<line x1="424.3" y1="524.7" x2="424.3" y2="527.6" stroke="#111" stroke-width="1.1"/>
<text x="427.7" y="532" font-size="8.2" text-anchor="end" transform="rotate(-45 427.7 532)">COL4A4</text>
<rect x="435.1" y="518.9" width="6.7" height="5.9" fill="#629dd6"/>
<rect x="445.1" y="521.2" width="5.8" height="3.5" fill="#ea8a75"/>
<line x1="438.4" y1="522.8" x2="438.4" y2="515.3" stroke="#111" stroke-width="0.7"/>
<line x1="437.2" y1="515.3" x2="439.6" y2="515.3" stroke="#111" stroke-width="0.7"/>
<line x1="437.2" y1="522.8" x2="439.6" y2="522.8" stroke="#111" stroke-width="0.7"/>
<line x1="448" y1="523.1" x2="448" y2="519.1" stroke="#111" stroke-width="0.7"/>
<line x1="446.8" y1="519.1" x2="449.2" y2="519.1" stroke="#111" stroke-width="0.7"/>
<line x1="446.8" y1="523.1" x2="449.2" y2="523.1" stroke="#111" stroke-width="0.7"/>
<circle cx="439" cy="522.6" r="1.1" fill="#111"/>
<circle cx="447.4" cy="523.1" r="0.9" fill="#111"/>
<circle cx="438.7" cy="518.9" r="1.1" fill="#111"/>
<circle cx="448.2" cy="521.1" r="0.9" fill="#111"/>
<circle cx="438.5" cy="515.7" r="1.1" fill="#111"/>
<circle cx="448.9" cy="519.1" r="0.9" fill="#111"/>
<path d="M438.4 512.7 V510.9 H448 V512.7" fill="none" stroke="#222" stroke-width="0.6"/>
<text x="445.2" y="509.4" font-size="5.0" fill="#111" transform="rotate(-90 445.2 509.4)"><tspan font-style="italic">p</tspan> = 0.4007</text>
<line x1="443.3" y1="524.7" x2="443.3" y2="527.6" stroke="#111" stroke-width="1.1"/>
<text x="446.7" y="532" font-size="8.2" text-anchor="end" transform="rotate(-45 446.7 532)">GNG12</text>
<rect x="454.1" y="466.2" width="6.7" height="58.5" fill="#629dd6"/>
<rect x="464.1" y="522.8" width="5.8" height="1.9" fill="#ea8a75"/>
<line x1="457.4" y1="478.4" x2="457.4" y2="455.7" stroke="#111" stroke-width="0.7"/>
<line x1="456.2" y1="455.7" x2="458.6" y2="455.7" stroke="#111" stroke-width="0.7"/>
<line x1="456.2" y1="478.4" x2="458.6" y2="478.4" stroke="#111" stroke-width="0.7"/>
<line x1="467" y1="523.5" x2="467" y2="522.1" stroke="#111" stroke-width="0.7"/>
<line x1="465.8" y1="522.1" x2="468.2" y2="522.1" stroke="#111" stroke-width="0.7"/>
<line x1="465.8" y1="523.5" x2="468.2" y2="523.5" stroke="#111" stroke-width="0.7"/>
<circle cx="457.5" cy="477.7" r="1.1" fill="#111"/>
<circle cx="466.9" cy="523.5" r="0.9" fill="#111"/>
<circle cx="458.1" cy="466.2" r="1.1" fill="#111"/>
<circle cx="467.3" cy="522.8" r="0.9" fill="#111"/>
<circle cx="457.2" cy="456.8" r="1.1" fill="#111"/>
<circle cx="466.6" cy="522.1" r="0.9" fill="#111"/>
<path d="M457.4 454.2 V452.4 H467 V454.2" fill="none" stroke="#222" stroke-width="0.6"/>
<text x="464.2" y="450.9" font-size="5.0" fill="#111" transform="rotate(-90 464.2 450.9)"><tspan font-style="italic">p</tspan> = 0.0008</text>
<line x1="462.3" y1="524.7" x2="462.3" y2="527.6" stroke="#111" stroke-width="1.1"/>
<text x="465.7" y="532" font-size="8.2" text-anchor="end" transform="rotate(-45 465.7 532)">IRS1</text>
<rect x="473.1" y="483.8" width="6.7" height="40.9" fill="#629dd6"/>
<rect x="483.1" y="522.8" width="5.8" height="1.9" fill="#ea8a75"/>
<line x1="476.4" y1="499" x2="476.4" y2="467.4" stroke="#111" stroke-width="0.7"/>
<line x1="475.2" y1="467.4" x2="477.6" y2="467.4" stroke="#111" stroke-width="0.7"/>
<line x1="475.2" y1="499" x2="477.6" y2="499" stroke="#111" stroke-width="0.7"/>
<line x1="486" y1="523.5" x2="486" y2="522.4" stroke="#111" stroke-width="0.7"/>
<line x1="484.8" y1="522.4" x2="487.2" y2="522.4" stroke="#111" stroke-width="0.7"/>
<line x1="484.8" y1="523.5" x2="487.2" y2="523.5" stroke="#111" stroke-width="0.7"/>
<circle cx="476.4" cy="498" r="1.1" fill="#111"/>
<circle cx="485.1" cy="523.5" r="0.9" fill="#111"/>
<circle cx="476.6" cy="483.8" r="1.1" fill="#111"/>
<circle cx="486.5" cy="522.9" r="0.9" fill="#111"/>
<circle cx="476.3" cy="468.9" r="1.1" fill="#111"/>
<circle cx="486.7" cy="522.4" r="0.9" fill="#111"/>
<path d="M476.4 464.5 V462.7 H486 V464.5" fill="none" stroke="#222" stroke-width="0.6"/>
<text x="483.2" y="461.2" font-size="5.0" fill="#111" transform="rotate(-90 483.2 461.2)"><tspan font-style="italic">p</tspan> = 0.0120</text>
<line x1="481.3" y1="524.7" x2="481.3" y2="527.6" stroke="#111" stroke-width="1.1"/>
<text x="484.7" y="532" font-size="8.2" text-anchor="end" transform="rotate(-45 484.7 532)">CDK6</text>
<rect x="492.1" y="502.5" width="6.7" height="22.2" fill="#629dd6"/>
<rect x="502.1" y="521.9" width="5.8" height="2.8" fill="#ea8a75"/>
<line x1="495.4" y1="504.1" x2="495.4" y2="500.1" stroke="#111" stroke-width="0.7"/>
<line x1="494.2" y1="500.1" x2="496.6" y2="500.1" stroke="#111" stroke-width="0.7"/>
<line x1="494.2" y1="504.1" x2="496.6" y2="504.1" stroke="#111" stroke-width="0.7"/>
<line x1="505" y1="524" x2="505" y2="520" stroke="#111" stroke-width="0.7"/>
<line x1="503.8" y1="520" x2="506.2" y2="520" stroke="#111" stroke-width="0.7"/>
<line x1="503.8" y1="524" x2="506.2" y2="524" stroke="#111" stroke-width="0.7"/>
<circle cx="496" cy="504" r="1.1" fill="#111"/>
<circle cx="505.1" cy="524" r="0.9" fill="#111"/>
<circle cx="495.7" cy="502.5" r="1.1" fill="#111"/>
<circle cx="504.2" cy="522" r="0.9" fill="#111"/>
<circle cx="494.8" cy="500.3" r="1.1" fill="#111"/>
<circle cx="506" cy="520" r="0.9" fill="#111"/>
<path d="M495.4 498.4 V496.6 H505 V498.4" fill="none" stroke="#222" stroke-width="0.6"/>
<text x="502.2" y="495.1" font-size="5.0" fill="#111" transform="rotate(-90 502.2 495.1)"><tspan font-style="italic">p</tspan> = 0.0033</text>
<line x1="500.3" y1="524.7" x2="500.3" y2="527.6" stroke="#111" stroke-width="1.1"/>
<text x="503.7" y="532" font-size="8.2" text-anchor="end" transform="rotate(-45 503.7 532)">PIK3CB</text>
<rect x="511.1" y="489.6" width="6.7" height="35.1" fill="#629dd6"/>
<rect x="521.1" y="521.2" width="5.8" height="3.5" fill="#ea8a75"/>
<line x1="514.4" y1="494.3" x2="514.4" y2="483.8" stroke="#111" stroke-width="0.7"/>
<line x1="513.2" y1="483.8" x2="515.6" y2="483.8" stroke="#111" stroke-width="0.7"/>
<line x1="513.2" y1="494.3" x2="515.6" y2="494.3" stroke="#111" stroke-width="0.7"/>
<line x1="524" y1="523.8" x2="524" y2="517.7" stroke="#111" stroke-width="0.7"/>
<line x1="522.8" y1="517.7" x2="525.2" y2="517.7" stroke="#111" stroke-width="0.7"/>
<line x1="522.8" y1="523.8" x2="525.2" y2="523.8" stroke="#111" stroke-width="0.7"/>
<circle cx="514.1" cy="494" r="1.1" fill="#111"/>
<circle cx="523.4" cy="523.8" r="0.9" fill="#111"/>
<circle cx="515" cy="489.6" r="1.1" fill="#111"/>
<circle cx="524.5" cy="520.7" r="0.9" fill="#111"/>
<circle cx="513.9" cy="484.3" r="1.1" fill="#111"/>
<circle cx="523.6" cy="517.7" r="0.9" fill="#111"/>
<path d="M514.4 482 V480.2 H524 V482" fill="none" stroke="#222" stroke-width="0.6"/>
<text x="521.2" y="478.7" font-size="5.0" fill="#111" transform="rotate(-90 521.2 478.7)"><tspan font-style="italic">p</tspan> = 0.0010</text>
<line x1="519.3" y1="524.7" x2="519.3" y2="527.6" stroke="#111" stroke-width="1.1"/>
<text x="522.7" y="532" font-size="8.2" text-anchor="end" transform="rotate(-45 522.7 532)">PCK2</text>
<rect x="530.1" y="517.7" width="6.7" height="7" fill="#629dd6"/>
<rect x="540.1" y="522.4" width="5.8" height="2.3" fill="#ea8a75"/>
<line x1="533.4" y1="520" x2="533.4" y2="514.2" stroke="#111" stroke-width="0.7"/>
<line x1="532.2" y1="514.2" x2="534.6" y2="514.2" stroke="#111" stroke-width="0.7"/>
<line x1="532.2" y1="520" x2="534.6" y2="520" stroke="#111" stroke-width="0.7"/>
<line x1="543" y1="522.8" x2="543" y2="521.9" stroke="#111" stroke-width="0.7"/>
<line x1="541.8" y1="521.9" x2="544.2" y2="521.9" stroke="#111" stroke-width="0.7"/>
<line x1="541.8" y1="522.8" x2="544.2" y2="522.8" stroke="#111" stroke-width="0.7"/>
<circle cx="533.1" cy="519.8" r="1.1" fill="#111"/>
<circle cx="542.5" cy="522.8" r="0.9" fill="#111"/>
<circle cx="532.8" cy="517.7" r="1.1" fill="#111"/>
<circle cx="543" cy="522.4" r="0.9" fill="#111"/>
<circle cx="533.2" cy="514.5" r="1.1" fill="#111"/>
<circle cx="542.8" cy="521.9" r="0.9" fill="#111"/>
<path d="M533.4 513.4 V511.6 H543 V513.4" fill="none" stroke="#222" stroke-width="0.6"/>
<text x="540.2" y="510.1" font-size="5.0" fill="#111" transform="rotate(-90 540.2 510.1)"><tspan font-style="italic">p</tspan> = 0.0298</text>
<line x1="538.3" y1="524.7" x2="538.3" y2="527.6" stroke="#111" stroke-width="1.1"/>
<text x="541.7" y="532" font-size="8.2" text-anchor="end" transform="rotate(-45 541.7 532)">F2R</text>
<rect x="549.1" y="513" width="6.7" height="11.7" fill="#629dd6"/>
<rect x="559.1" y="521.9" width="5.8" height="2.8" fill="#ea8a75"/>
<line x1="552.4" y1="515.3" x2="552.4" y2="509.3" stroke="#111" stroke-width="0.7"/>
<line x1="551.2" y1="509.3" x2="553.6" y2="509.3" stroke="#111" stroke-width="0.7"/>
<line x1="551.2" y1="515.3" x2="553.6" y2="515.3" stroke="#111" stroke-width="0.7"/>
<line x1="562" y1="523.8" x2="562" y2="520" stroke="#111" stroke-width="0.7"/>
<line x1="560.8" y1="520" x2="563.2" y2="520" stroke="#111" stroke-width="0.7"/>
<line x1="560.8" y1="523.8" x2="563.2" y2="523.8" stroke="#111" stroke-width="0.7"/>
<circle cx="552" cy="515.2" r="1.1" fill="#111"/>
<circle cx="561.2" cy="523.8" r="0.9" fill="#111"/>
<circle cx="551.8" cy="513" r="1.1" fill="#111"/>
<circle cx="562.7" cy="521.9" r="0.9" fill="#111"/>
<circle cx="552.8" cy="509.6" r="1.1" fill="#111"/>
<circle cx="562.1" cy="520" r="0.9" fill="#111"/>
<path d="M552.4 507.3 V505.5 H562 V507.3" fill="none" stroke="#222" stroke-width="0.6"/>
<text x="559.2" y="504" font-size="5.0" fill="#111" transform="rotate(-90 559.2 504)"><tspan font-style="italic">p</tspan> = 0.0045</text>
<line x1="557.3" y1="524.7" x2="557.3" y2="527.6" stroke="#111" stroke-width="1.1"/>
<text x="560.7" y="532" font-size="8.2" text-anchor="end" transform="rotate(-45 560.7 532)">PPP2R2C</text>
<rect x="568.1" y="515.3" width="6.7" height="9.4" fill="#629dd6"/>
<rect x="578.1" y="522.4" width="5.8" height="2.3" fill="#ea8a75"/>
<line x1="571.4" y1="516" x2="571.4" y2="514.4" stroke="#111" stroke-width="0.7"/>
<line x1="570.2" y1="514.4" x2="572.6" y2="514.4" stroke="#111" stroke-width="0.7"/>
<line x1="570.2" y1="516" x2="572.6" y2="516" stroke="#111" stroke-width="0.7"/>
<line x1="581" y1="523.3" x2="581" y2="521" stroke="#111" stroke-width="0.7"/>
<line x1="579.8" y1="521" x2="582.2" y2="521" stroke="#111" stroke-width="0.7"/>
<line x1="579.8" y1="523.3" x2="582.2" y2="523.3" stroke="#111" stroke-width="0.7"/>
<circle cx="570.9" cy="516" r="1.1" fill="#111"/>
<circle cx="580.3" cy="523.3" r="0.9" fill="#111"/>
<circle cx="570.9" cy="515.3" r="1.1" fill="#111"/>
<circle cx="580.6" cy="522.1" r="0.9" fill="#111"/>
<circle cx="570.8" cy="514.5" r="1.1" fill="#111"/>
<circle cx="580.6" cy="521" r="0.9" fill="#111"/>
<path d="M571.4 512.9 V511.1 H581 V512.9" fill="none" stroke="#222" stroke-width="0.6"/>
<text x="578.2" y="509.6" font-size="5.0" fill="#111" transform="rotate(-90 578.2 509.6)"><tspan font-style="italic">p</tspan> = 0.0009</text>
<line x1="576.3" y1="524.7" x2="576.3" y2="527.6" stroke="#111" stroke-width="1.1"/>
<text x="579.7" y="532" font-size="8.2" text-anchor="end" transform="rotate(-45 579.7 532)">EGFR</text>
<rect x="587.1" y="517.2" width="6.7" height="7.5" fill="#629dd6"/>
<rect x="597.1" y="522.6" width="5.8" height="2.1" fill="#ea8a75"/>
<line x1="590.4" y1="518.9" x2="590.4" y2="515.3" stroke="#111" stroke-width="0.7"/>
<line x1="589.2" y1="515.3" x2="591.6" y2="515.3" stroke="#111" stroke-width="0.7"/>
<line x1="589.2" y1="518.9" x2="591.6" y2="518.9" stroke="#111" stroke-width="0.7"/>
<line x1="600" y1="523.1" x2="600" y2="522.1" stroke="#111" stroke-width="0.7"/>
<line x1="598.8" y1="522.1" x2="601.2" y2="522.1" stroke="#111" stroke-width="0.7"/>
<line x1="598.8" y1="523.1" x2="601.2" y2="523.1" stroke="#111" stroke-width="0.7"/>
<circle cx="590" cy="518.7" r="1.1" fill="#111"/>
<circle cx="599.4" cy="523.1" r="0.9" fill="#111"/>
<circle cx="590.7" cy="517.2" r="1.1" fill="#111"/>
<circle cx="599.9" cy="522.6" r="0.9" fill="#111"/>
<circle cx="590.4" cy="515.5" r="1.1" fill="#111"/>
<circle cx="599.7" cy="522.1" r="0.9" fill="#111"/>
<path d="M590.4 513.4 V511.6 H600 V513.4" fill="none" stroke="#222" stroke-width="0.6"/>
<text x="597.2" y="510.1" font-size="5.0" fill="#111" transform="rotate(-90 597.2 510.1)"><tspan font-style="italic">p</tspan> = 0.0065</text>
<line x1="595.3" y1="524.7" x2="595.3" y2="527.6" stroke="#111" stroke-width="1.1"/>
<text x="598.7" y="532" font-size="8.2" text-anchor="end" transform="rotate(-45 598.7 532)">RXRA</text>
<rect x="606.1" y="524" width="6.7" height="0.7" fill="#629dd6"/>
<rect x="616.1" y="521.9" width="5.8" height="2.8" fill="#ea8a75"/>
<line x1="609.4" y1="524.5" x2="609.4" y2="523.5" stroke="#111" stroke-width="0.7"/>
<line x1="608.2" y1="523.5" x2="610.6" y2="523.5" stroke="#111" stroke-width="0.7"/>
<line x1="608.2" y1="524.5" x2="610.6" y2="524.5" stroke="#111" stroke-width="0.7"/>
<line x1="619" y1="524.2" x2="619" y2="518.1" stroke="#111" stroke-width="0.7"/>
<line x1="617.8" y1="518.1" x2="620.2" y2="518.1" stroke="#111" stroke-width="0.7"/>
<line x1="617.8" y1="524.2" x2="620.2" y2="524.2" stroke="#111" stroke-width="0.7"/>
<circle cx="609.5" cy="524.4" r="1.1" fill="#111"/>
<circle cx="619.6" cy="524.2" r="0.9" fill="#111"/>
<circle cx="609.2" cy="524" r="1.1" fill="#111"/>
<circle cx="618.1" cy="521.2" r="0.9" fill="#111"/>
<circle cx="609.4" cy="523.6" r="1.1" fill="#111"/>
<circle cx="618.8" cy="518.1" r="0.9" fill="#111"/>
<path d="M609.4 516.4 V514.6 H619 V516.4" fill="none" stroke="#222" stroke-width="0.6"/>
<text x="616.2" y="513.1" font-size="5.0" fill="#111" transform="rotate(-90 616.2 513.1)"><tspan font-style="italic">p</tspan> = 0.3056</text>
<line x1="614.3" y1="524.7" x2="614.3" y2="527.6" stroke="#111" stroke-width="1.1"/>
<text x="617.7" y="532" font-size="8.2" text-anchor="end" transform="rotate(-45 617.7 532)">ITGA3</text>
<rect x="625.1" y="524.5" width="6.7" height="0.2" fill="#629dd6"/>
<rect x="635.1" y="522.6" width="5.8" height="2.1" fill="#ea8a75"/>
<line x1="628.4" y1="524.7" x2="628.4" y2="524.2" stroke="#111" stroke-width="0.7"/>
<line x1="627.2" y1="524.2" x2="629.6" y2="524.2" stroke="#111" stroke-width="0.7"/>
<line x1="627.2" y1="524.7" x2="629.6" y2="524.7" stroke="#111" stroke-width="0.7"/>
<line x1="638" y1="523.1" x2="638" y2="522.1" stroke="#111" stroke-width="0.7"/>
<line x1="636.8" y1="522.1" x2="639.2" y2="522.1" stroke="#111" stroke-width="0.7"/>
<line x1="636.8" y1="523.1" x2="639.2" y2="523.1" stroke="#111" stroke-width="0.7"/>
<circle cx="628.8" cy="524.7" r="1.1" fill="#111"/>
<circle cx="637.2" cy="523.1" r="0.9" fill="#111"/>
<circle cx="629" cy="524.5" r="1.1" fill="#111"/>
<circle cx="637" cy="522.6" r="0.9" fill="#111"/>
<circle cx="628.5" cy="524.3" r="1.1" fill="#111"/>
<circle cx="637.9" cy="522.1" r="0.9" fill="#111"/>
<path d="M628.4 517.6 V515.8 H638 V517.6" fill="none" stroke="#222" stroke-width="0.6"/>
<text x="635.2" y="514.3" font-size="5.0" fill="#111" transform="rotate(-90 635.2 514.3)"><tspan font-style="italic">p</tspan> = 0.0003</text>
<line x1="633.3" y1="524.7" x2="633.3" y2="527.6" stroke="#111" stroke-width="1.1"/>
<text x="636.7" y="532" font-size="8.2" text-anchor="end" transform="rotate(-45 636.7 532)">ITGB1</text>
<rect x="644.1" y="524.2" width="6.7" height="0.5" fill="#629dd6"/>
<rect x="654.1" y="522.6" width="5.8" height="2.1" fill="#ea8a75"/>
<line x1="647.4" y1="524.5" x2="647.4" y2="524" stroke="#111" stroke-width="0.7"/>
<line x1="646.2" y1="524" x2="648.6" y2="524" stroke="#111" stroke-width="0.7"/>
<line x1="646.2" y1="524.5" x2="648.6" y2="524.5" stroke="#111" stroke-width="0.7"/>
<line x1="657" y1="523.1" x2="657" y2="522.1" stroke="#111" stroke-width="0.7"/>
<line x1="655.8" y1="522.1" x2="658.2" y2="522.1" stroke="#111" stroke-width="0.7"/>
<line x1="655.8" y1="523.1" x2="658.2" y2="523.1" stroke="#111" stroke-width="0.7"/>
<circle cx="647.2" cy="524.5" r="1.1" fill="#111"/>
<circle cx="657.8" cy="523.1" r="0.9" fill="#111"/>
<circle cx="647.7" cy="524.2" r="1.1" fill="#111"/>
<circle cx="656.3" cy="522.6" r="0.9" fill="#111"/>
<circle cx="647.4" cy="524" r="1.1" fill="#111"/>
<circle cx="657.2" cy="522.1" r="0.9" fill="#111"/>
<path d="M647.4 519 V517.2 H657 V519" fill="none" stroke="#222" stroke-width="0.6"/>
<text x="654.2" y="515.7" font-size="5.0" fill="#111" transform="rotate(-90 654.2 515.7)"><tspan font-style="italic">p</tspan> = 0.0045</text>
<line x1="652.3" y1="524.7" x2="652.3" y2="527.6" stroke="#111" stroke-width="1.1"/>
<text x="655.7" y="532" font-size="8.2" text-anchor="end" transform="rotate(-45 655.7 532)">ITGB3</text>
<rect x="663.1" y="523.5" width="6.7" height="1.2" fill="#629dd6"/>
<rect x="673.1" y="522.4" width="5.8" height="2.3" fill="#ea8a75"/>
<line x1="666.4" y1="524" x2="666.4" y2="523.1" stroke="#111" stroke-width="0.7"/>
<line x1="665.2" y1="523.1" x2="667.6" y2="523.1" stroke="#111" stroke-width="0.7"/>
<line x1="665.2" y1="524" x2="667.6" y2="524" stroke="#111" stroke-width="0.7"/>
<line x1="676" y1="523.1" x2="676" y2="521.7" stroke="#111" stroke-width="0.7"/>
<line x1="674.8" y1="521.7" x2="677.2" y2="521.7" stroke="#111" stroke-width="0.7"/>
<line x1="674.8" y1="523.1" x2="677.2" y2="523.1" stroke="#111" stroke-width="0.7"/>
<circle cx="665.8" cy="524" r="1.1" fill="#111"/>
<circle cx="675.2" cy="523.1" r="0.9" fill="#111"/>
<circle cx="666.6" cy="523.5" r="1.1" fill="#111"/>
<circle cx="676.5" cy="522.4" r="0.9" fill="#111"/>
<circle cx="666.4" cy="523.1" r="1.1" fill="#111"/>
<circle cx="675.8" cy="521.7" r="0.9" fill="#111"/>
<path d="M666.4 519 V517.2 H676 V519" fill="none" stroke="#222" stroke-width="0.6"/>
<text x="673.2" y="515.7" font-size="5.0" fill="#111" transform="rotate(-90 673.2 515.7)"><tspan font-style="italic">p</tspan> = 0.2225</text>
<line x1="671.3" y1="524.7" x2="671.3" y2="527.6" stroke="#111" stroke-width="1.1"/>
<text x="674.7" y="532" font-size="8.2" text-anchor="end" transform="rotate(-45 674.7 532)">ITGB4</text>
<rect x="500.9" y="430.6" width="7.4" height="4" fill="#ea8a75"/>
<text x="510.6" y="435.3" font-size="8.6">IgG</text>
<rect x="530" y="430.6" width="7.4" height="4" fill="#629dd6"/>
<text x="539.7" y="435.3" font-size="8.6">hnRNPL ChIP</text>
<text x="0.5" y="570.3" font-size="11" font-weight="bold" fill="#000">k</text>
<circle cx="96.5" cy="606.7" r="24" fill="#e6c995"/>
<circle cx="121.3" cy="606.9" r="32.5" fill="#bea3d3"/>
<g clip-path="url(#ctan)">
<circle cx="121.3" cy="606.9" r="32.5" fill="#d3a993"/>
</g>
<circle cx="96.5" cy="606.7" r="24" fill="none" stroke="#ffffff" stroke-width="0.8"/>
<circle cx="121.3" cy="606.9" r="32.5" fill="none" stroke="#ffffff" stroke-width="0.8"/>
<text x="71.5" y="579" font-size="8.6" text-anchor="middle">hnRNPL</text>
<text x="152" y="579" font-size="8.6">Pol II</text>
<text x="80.1" y="610.5" font-size="7.3" text-anchor="middle" fill="#1f1f1f">469</text>
<text x="105.3" y="610.7" font-size="8.8" text-anchor="middle">5818</text>
<text x="137.9" y="610.6" font-size="7.3" text-anchor="middle" fill="#1f1f1f">28541</text>
<text x="0.5" y="653.8" font-size="11" font-weight="bold" fill="#000">l</text>
<line x1="83.4" y1="655.3" x2="83.4" y2="722.2" stroke="#555" stroke-width="0.6" stroke-dasharray="1.2 1.2"/>
<path d="M47.2 718.4 L47.8 718.4 L48.4 718.4 L49 718.3 L49.6 718.3 L50.2 718.3 L50.8 718.3 L51.4 718.3 L52 718.2 L52.6 718.2 L53.2 718.2 L53.8 718.2 L54.4 718.2 L55 718.1 L55.6 718.1 L56.2 718.1 L56.9 718 L57.5 718 L58.1 718 L58.7 717.9 L59.3 717.9 L59.9 717.8 L60.5 717.8 L61.1 717.7 L61.7 717.7 L62.3 717.6 L62.9 717.6 L63.5 717.5 L64.1 717.4 L64.7 717.4 L65.3 717.3 L65.9 717.2 L66.5 717.1 L67.1 717 L67.7 716.9 L68.3 716.7 L68.9 716.6 L69.5 716.4 L70.1 716.2 L70.7 715.9 L71.3 715.5 L71.9 715.1 L72.5 714.5 L73.1 713.8 L73.7 712.8 L74.3 711.7 L75 710.2 L75.6 708.4 L76.2 706.2 L76.8 703.6 L77.4 700.5 L78 697 L78.6 693 L79.2 688.6 L79.8 684 L80.4 679.3 L81 674.6 L81.6 670.4 L82.2 666.7 L82.8 664.1 L83.4 663 L84 664.1 L84.6 666.7 L85.2 670.4 L85.8 674.6 L86.4 679.3 L87 684 L87.6 688.6 L88.2 693 L88.8 697 L89.4 700.5 L90 703.6 L90.6 706.2 L91.2 708.4 L91.8 710.2 L92.4 711.7 L93.1 712.8 L93.7 713.8 L94.3 714.5 L94.9 715.1 L95.5 715.5 L96.1 715.9 L96.7 716.2 L97.3 716.4 L97.9 716.6 L98.5 716.7 L99.1 716.9 L99.7 717 L100.3 717.1 L100.9 717.2 L101.5 717.3 L102.1 717.4 L102.7 717.4 L103.3 717.5 L103.9 717.6 L104.5 717.6 L105.1 717.7 L105.7 717.7 L106.3 717.8 L106.9 717.8 L107.5 717.9 L108.1 717.9 L108.7 718 L109.3 718 L109.9 718 L110.5 718.1 L111.2 718.1 L111.8 718.1 L112.4 718.2 L113 718.2 L113.6 718.2 L114.2 718.2 L114.8 718.2 L115.4 718.3 L116 718.3 L116.6 718.3 L117.2 718.3 L117.8 718.3 L118.4 718.4 L119 718.4 L119.6 718.4" fill="none" stroke="#4a6cc8" stroke-width="0.9" stroke-linejoin="round"/>
<rect x="47.2" y="655.3" width="72.4" height="66.9" fill="none" stroke="#333" stroke-width="0.9"/>
<line x1="45.2" y1="705.3" x2="47.2" y2="705.3" stroke="#333" stroke-width="0.6"/>
<text x="44.4" y="707.9" font-size="7.2" text-anchor="end" fill="#1f1f1f">20</text>
<line x1="45.2" y1="684.9" x2="47.2" y2="684.9" stroke="#333" stroke-width="0.6"/>
<text x="44.4" y="687.5" font-size="7.2" text-anchor="end" fill="#1f1f1f">40</text>
<line x1="45.2" y1="664.5" x2="47.2" y2="664.5" stroke="#333" stroke-width="0.6"/>
<text x="44.4" y="667.1" font-size="7.2" text-anchor="end" fill="#1f1f1f">60</text>
<line x1="47.2" y1="722.2" x2="47.2" y2="724.2" stroke="#333" stroke-width="0.7"/>
<text x="47.2" y="733" font-size="7" fill="#1f1f1f">-5.0</text>
<line x1="83.4" y1="722.2" x2="83.4" y2="724.2" stroke="#333" stroke-width="0.7"/>
<text x="83.4" y="733" font-size="7" text-anchor="middle" fill="#1f1f1f">Pol II peak</text>
<line x1="119.6" y1="722.2" x2="119.6" y2="724.2" stroke="#333" stroke-width="0.7"/>
<text x="119.6" y="733" font-size="7" text-anchor="end" fill="#1f1f1f">5.0</text>
<text x="83.4" y="652.9" font-size="8.6" text-anchor="middle">hnRNPL-1</text>
<line x1="163.4" y1="655.3" x2="163.4" y2="722.2" stroke="#555" stroke-width="0.6" stroke-dasharray="1.2 1.2"/>
<path d="M126.6 718.4 L127.2 718.4 L127.8 718.3 L128.4 718.3 L129.1 718.3 L129.7 718.3 L130.3 718.3 L130.9 718.2 L131.5 718.2 L132.1 718.2 L132.7 718.2 L133.3 718.1 L134 718.1 L134.6 718.1 L135.2 718.1 L135.8 718 L136.4 718 L137 718 L137.6 717.9 L138.3 717.9 L138.9 717.8 L139.5 717.8 L140.1 717.7 L140.7 717.7 L141.3 717.6 L141.9 717.6 L142.5 717.5 L143.2 717.5 L143.8 717.4 L144.4 717.3 L145 717.2 L145.6 717.1 L146.2 717 L146.8 716.9 L147.5 716.8 L148.1 716.6 L148.7 716.5 L149.3 716.3 L149.9 716.1 L150.5 715.8 L151.1 715.4 L151.7 714.9 L152.4 714.4 L153 713.6 L153.6 712.7 L154.2 711.5 L154.8 710 L155.4 708.1 L156 705.8 L156.7 703 L157.3 699.7 L157.9 696 L158.5 691.7 L159.1 687 L159.7 682 L160.3 676.8 L160.9 671.7 L161.6 667 L162.2 663 L162.8 660.2 L163.4 658.9 L164 660.2 L164.6 663 L165.2 667 L165.9 671.7 L166.5 676.8 L167.1 682 L167.7 687 L168.3 691.7 L168.9 696 L169.5 699.7 L170.1 703 L170.8 705.8 L171.4 708.1 L172 710 L172.6 711.5 L173.2 712.7 L173.8 713.6 L174.4 714.4 L175.1 714.9 L175.7 715.4 L176.3 715.8 L176.9 716.1 L177.5 716.3 L178.1 716.5 L178.7 716.6 L179.3 716.8 L180 716.9 L180.6 717 L181.2 717.1 L181.8 717.2 L182.4 717.3 L183 717.4 L183.6 717.5 L184.3 717.5 L184.9 717.6 L185.5 717.6 L186.1 717.7 L186.7 717.7 L187.3 717.8 L187.9 717.8 L188.5 717.9 L189.2 717.9 L189.8 718 L190.4 718 L191 718 L191.6 718.1 L192.2 718.1 L192.8 718.1 L193.5 718.1 L194.1 718.2 L194.7 718.2 L195.3 718.2 L195.9 718.2 L196.5 718.3 L197.1 718.3 L197.7 718.3 L198.4 718.3 L199 718.3 L199.6 718.4 L200.2 718.4" fill="none" stroke="#4a6cc8" stroke-width="0.9" stroke-linejoin="round"/>
<rect x="126.6" y="655.3" width="73.6" height="66.9" fill="none" stroke="#333" stroke-width="0.9"/>
<line x1="124.6" y1="705.3" x2="126.6" y2="705.3" stroke="#333" stroke-width="0.6"/>
<line x1="124.6" y1="684.9" x2="126.6" y2="684.9" stroke="#333" stroke-width="0.6"/>
<line x1="124.6" y1="664.5" x2="126.6" y2="664.5" stroke="#333" stroke-width="0.6"/>
<line x1="126.6" y1="722.2" x2="126.6" y2="724.2" stroke="#333" stroke-width="0.7"/>
<text x="126.6" y="733" font-size="7" fill="#1f1f1f">-5.0</text>
<line x1="163.4" y1="722.2" x2="163.4" y2="724.2" stroke="#333" stroke-width="0.7"/>
<text x="163.4" y="733" font-size="7" text-anchor="middle" fill="#1f1f1f">Pol II peak</text>
<line x1="200.2" y1="722.2" x2="200.2" y2="724.2" stroke="#333" stroke-width="0.7"/>
<text x="200.2" y="733" font-size="7" text-anchor="end" fill="#1f1f1f">5.0</text>
<text x="163.4" y="652.9" font-size="8.6" text-anchor="middle">hnRNPL-2</text>
<text x="125.7" y="741.9" font-size="8.6" text-anchor="middle">Gene distance (kb)</text>
<text x="30.6" y="687.5" font-size="8.6" text-anchor="middle" transform="rotate(-90 30.6 687.5)">Enrichment</text>
<text x="223" y="569.6" font-size="11" font-weight="bold" fill="#000">m</text>
<rect x="264.1" y="570.5" width="197.8" height="77.1" fill="#ffffff" stroke="#8a8a8a" stroke-width="0.9"/>
<rect x="451.4" y="576" width="6.6" height="56.3" fill="#ecd2cd"/>
<line x1="265.1" y1="584.5" x2="461.4" y2="584.5" stroke="#f2a4a4" stroke-width="1.1"/>
<path d="M453.3 584.5 L454.1 581.5 L454.6 579 L455.1 581.8 L455.9 584.5Z" fill="#e8262a"/>
<text x="265.9" y="579.1" font-size="6.4">[0 - 45]</text>
<line x1="265.1" y1="596.8" x2="461.4" y2="596.8" stroke="#f2a4a4" stroke-width="1.1"/>
<path d="M453.3 596.8 L454.1 593.8 L454.6 591.3 L455.1 594 L455.9 596.8Z" fill="#e8262a"/>
<text x="265.9" y="590.4" font-size="6.4">[0 - 45]</text>
<line x1="265.1" y1="610.4" x2="461.4" y2="610.4" stroke="#b6bfe6" stroke-width="1.1"/>
<path d="M453.3 610.4 L454.1 607.8 L454.6 605.7 L455.1 608.1 L455.9 610.4Z" fill="#2b3ea5"/>
<text x="265.9" y="604.4" font-size="6.4">[0 - 45]</text>
<line x1="265.1" y1="622.3" x2="461.4" y2="622.3" stroke="#8591d4" stroke-width="1.1"/>
<path d="M453.3 622.3 L454.1 619.7 L454.6 617.6 L455.1 620 L455.9 622.3Z" fill="#2b3ea5"/>
<text x="265.9" y="615.5" font-size="6.4">[0 - 45]</text>
<line x1="265" y1="632.3" x2="455" y2="632.3" stroke="#3545a8" stroke-width="0.8"/>
<rect x="268" y="631.3" width="0.6" height="2" fill="#2a3a9e"/>
<rect x="275" y="631.3" width="0.6" height="2" fill="#2a3a9e"/>
<rect x="282" y="631.3" width="0.6" height="2" fill="#2a3a9e"/>
<rect x="289" y="631.3" width="0.6" height="2" fill="#2a3a9e"/>
<rect x="296" y="631.3" width="0.6" height="2" fill="#2a3a9e"/>
<rect x="303" y="631.3" width="0.6" height="2" fill="#2a3a9e"/>
<rect x="310" y="631.3" width="0.6" height="2" fill="#2a3a9e"/>
<rect x="317" y="631.3" width="0.6" height="2" fill="#2a3a9e"/>
<rect x="324" y="631.3" width="0.6" height="2" fill="#2a3a9e"/>
<rect x="331" y="631.3" width="0.6" height="2" fill="#2a3a9e"/>
<rect x="338" y="631.3" width="0.6" height="2" fill="#2a3a9e"/>
<rect x="345" y="631.3" width="0.6" height="2" fill="#2a3a9e"/>
<rect x="352" y="631.3" width="0.6" height="2" fill="#2a3a9e"/>
<rect x="359" y="631.3" width="0.6" height="2" fill="#2a3a9e"/>
<rect x="366" y="631.3" width="0.6" height="2" fill="#2a3a9e"/>
<rect x="373" y="631.3" width="0.6" height="2" fill="#2a3a9e"/>
<rect x="380" y="631.3" width="0.6" height="2" fill="#2a3a9e"/>
<rect x="387" y="631.3" width="0.6" height="2" fill="#2a3a9e"/>
<rect x="394" y="631.3" width="0.6" height="2" fill="#2a3a9e"/>
<rect x="401" y="631.3" width="0.6" height="2" fill="#2a3a9e"/>
<rect x="408" y="631.3" width="0.6" height="2" fill="#2a3a9e"/>
<rect x="415" y="631.3" width="0.6" height="2" fill="#2a3a9e"/>
<rect x="422" y="631.3" width="0.6" height="2" fill="#2a3a9e"/>
<rect x="429" y="631.3" width="0.6" height="2" fill="#2a3a9e"/>
<rect x="436" y="631.3" width="0.6" height="2" fill="#2a3a9e"/>
<rect x="443" y="631.3" width="0.6" height="2" fill="#2a3a9e"/>
<rect x="450" y="631.3" width="0.6" height="2" fill="#2a3a9e"/>
<text x="365" y="644.7" font-size="8.7" text-anchor="middle">PIK3CB</text>
<text x="253.6" y="606.9" font-size="8.45" text-anchor="middle" transform="rotate(-90 253.6 606.9)" dy="3.0"><tspan fill="#3448b3">shhnRNPL </tspan><tspan fill="#e8262a">shNC</tspan></text>
<rect x="474.3" y="570.5" width="198" height="77.1" fill="#ffffff" stroke="#8a8a8a" stroke-width="0.9"/>
<rect x="476.2" y="576" width="6.6" height="56.3" fill="#ecd2cd"/>
<line x1="475.3" y1="584.8" x2="671.8" y2="584.8" stroke="#f2a4a4" stroke-width="1.1"/>
<rect x="665.3" y="583.8" width="0.8" height="1" fill="#e8262a"/>
<rect x="494.4" y="583.8" width="0.8" height="1" fill="#e8262a"/>
<rect x="618.5" y="583.8" width="0.8" height="1" fill="#e8262a"/>
<rect x="573.8" y="583.8" width="0.8" height="1" fill="#e8262a"/>
<rect x="658.5" y="583.8" width="0.8" height="1" fill="#e8262a"/>
<rect x="559.6" y="583.8" width="0.8" height="1" fill="#e8262a"/>
<rect x="654.4" y="583.8" width="0.8" height="1" fill="#e8262a"/>
<rect x="513.7" y="583.8" width="0.8" height="1" fill="#e8262a"/>
<rect x="668.3" y="583.8" width="0.8" height="1" fill="#e8262a"/>
<rect x="560.7" y="583.8" width="0.8" height="1" fill="#e8262a"/>
<rect x="518.2" y="583.8" width="0.8" height="1" fill="#e8262a"/>
<rect x="548.3" y="583.8" width="0.8" height="1" fill="#e8262a"/>
<rect x="601" y="583.8" width="0.8" height="1" fill="#e8262a"/>
<rect x="490.6" y="583.8" width="0.8" height="1" fill="#e8262a"/>
<rect x="555.9" y="583.8" width="0.8" height="1" fill="#e8262a"/>
<rect x="486.4" y="583.8" width="0.8" height="1" fill="#e8262a"/>
<rect x="497.1" y="583.8" width="0.8" height="1" fill="#e8262a"/>
<rect x="515.8" y="583.8" width="0.8" height="1" fill="#e8262a"/>
<rect x="527" y="583.8" width="0.8" height="1" fill="#e8262a"/>
<rect x="535.1" y="583.8" width="0.8" height="1" fill="#e8262a"/>
<rect x="628.3" y="583.8" width="0.8" height="1" fill="#e8262a"/>
<rect x="561.3" y="583.8" width="0.8" height="1" fill="#e8262a"/>
<path d="M477.2 584.8 L478.4 580.9 L479 577.8 L479.6 581.3 L480.8 584.8Z" fill="#e8262a"/>
<path d="M545.4 584.8 L546.3 576.8 L547.2 584.8Z" fill="#e8262a"/>
<path d="M613.6 584.8 L614.4 581.4 L615.2 584.8Z" fill="#e8262a"/>
<path d="M564.5 584.8 L566 583.3 L567.5 584.8Z" fill="#e8262a"/>
<path d="M659.8 584.8 L661 583 L662.2 584.8Z" fill="#e8262a"/>
<text x="476.1" y="579.4" font-size="6.4">[0 - 20]</text>
<line x1="475.3" y1="597.2" x2="671.8" y2="597.2" stroke="#f2a4a4" stroke-width="1.1"/>
<rect x="642.9" y="596.2" width="0.8" height="1" fill="#e8262a"/>
<rect x="650.5" y="596.2" width="0.8" height="1" fill="#e8262a"/>
<rect x="649.9" y="596.2" width="0.8" height="1" fill="#e8262a"/>
<rect x="659.6" y="596.2" width="0.8" height="1" fill="#e8262a"/>
<rect x="590.8" y="596.2" width="0.8" height="1" fill="#e8262a"/>
<rect x="608.5" y="596.2" width="0.8" height="1" fill="#e8262a"/>
<rect x="647.4" y="596.2" width="0.8" height="1" fill="#e8262a"/>
<rect x="584.9" y="596.2" width="0.8" height="1" fill="#e8262a"/>
<rect x="510.6" y="596.2" width="0.8" height="1" fill="#e8262a"/>
<rect x="580.6" y="596.2" width="0.8" height="1" fill="#e8262a"/>
<rect x="582.4" y="596.2" width="0.8" height="1" fill="#e8262a"/>
<rect x="517.5" y="596.2" width="0.8" height="1" fill="#e8262a"/>
<rect x="501.5" y="596.2" width="0.8" height="1" fill="#e8262a"/>
<rect x="518.4" y="596.2" width="0.8" height="1" fill="#e8262a"/>
<rect x="613.3" y="596.2" width="0.8" height="1" fill="#e8262a"/>
<rect x="634.6" y="596.2" width="0.8" height="1" fill="#e8262a"/>
<rect x="605.8" y="596.2" width="0.8" height="1" fill="#e8262a"/>
<rect x="563.2" y="596.2" width="0.8" height="1" fill="#e8262a"/>
<rect x="489.6" y="596.2" width="0.8" height="1" fill="#e8262a"/>
<rect x="485.1" y="596.2" width="0.8" height="1" fill="#e8262a"/>
<rect x="605.5" y="596.2" width="0.8" height="1" fill="#e8262a"/>
<rect x="582.3" y="596.2" width="0.8" height="1" fill="#e8262a"/>
<path d="M477.2 597.2 L478.4 593.4 L479 590.2 L479.6 593.7 L480.8 597.2Z" fill="#e8262a"/>
<path d="M545.4 597.2 L546.3 589.2 L547.2 597.2Z" fill="#e8262a"/>
<path d="M613.6 597.2 L614.4 593.8 L615.2 597.2Z" fill="#e8262a"/>
<path d="M564.5 597.2 L566 595.7 L567.5 597.2Z" fill="#e8262a"/>
<path d="M659.8 597.2 L661 595.4 L662.2 597.2Z" fill="#e8262a"/>
<text x="476.1" y="590.8" font-size="6.4">[0 - 20]</text>
<line x1="475.3" y1="610.4" x2="671.8" y2="610.4" stroke="#b6bfe6" stroke-width="1.1"/>
<rect x="568.8" y="609.4" width="0.8" height="1" fill="#2b3ea5"/>
<rect x="516" y="609.4" width="0.8" height="1" fill="#2b3ea5"/>
<rect x="507.1" y="609.4" width="0.8" height="1" fill="#2b3ea5"/>
<rect x="517.6" y="609.4" width="0.8" height="1" fill="#2b3ea5"/>
<rect x="508.1" y="609.4" width="0.8" height="1" fill="#2b3ea5"/>
<rect x="595.2" y="609.4" width="0.8" height="1" fill="#2b3ea5"/>
<rect x="541.1" y="609.4" width="0.8" height="1" fill="#2b3ea5"/>
<rect x="586.9" y="609.4" width="0.8" height="1" fill="#2b3ea5"/>
<rect x="563.7" y="609.4" width="0.8" height="1" fill="#2b3ea5"/>
<rect x="585.7" y="609.4" width="0.8" height="1" fill="#2b3ea5"/>
<rect x="622" y="609.4" width="0.8" height="1" fill="#2b3ea5"/>
<rect x="628.7" y="609.4" width="0.8" height="1" fill="#2b3ea5"/>
<rect x="512" y="609.4" width="0.8" height="1" fill="#2b3ea5"/>
<rect x="661.9" y="609.4" width="0.8" height="1" fill="#2b3ea5"/>
<rect x="642.1" y="609.4" width="0.8" height="1" fill="#2b3ea5"/>
<rect x="636" y="609.4" width="0.8" height="1" fill="#2b3ea5"/>
<rect x="568.1" y="609.4" width="0.8" height="1" fill="#2b3ea5"/>
<rect x="660.4" y="609.4" width="0.8" height="1" fill="#2b3ea5"/>
<rect x="634.6" y="609.4" width="0.8" height="1" fill="#2b3ea5"/>
<rect x="528.5" y="609.4" width="0.8" height="1" fill="#2b3ea5"/>
<rect x="611.4" y="609.4" width="0.8" height="1" fill="#2b3ea5"/>
<rect x="641.4" y="609.4" width="0.8" height="1" fill="#2b3ea5"/>
<path d="M477.2 610.4 L478.4 607.1 L479 604.4 L479.6 607.4 L480.8 610.4Z" fill="#2b3ea5"/>
<path d="M545.4 610.4 L546.3 602.4 L547.2 610.4Z" fill="#2b3ea5"/>
<path d="M613.6 610.4 L614.4 607 L615.2 610.4Z" fill="#2b3ea5"/>
<path d="M564.5 610.4 L566 608.9 L567.5 610.4Z" fill="#2b3ea5"/>
<path d="M659.8 610.4 L661 608.6 L662.2 610.4Z" fill="#2b3ea5"/>
<text x="476.1" y="604.4" font-size="6.4">[0 - 20]</text>
<line x1="475.3" y1="622.3" x2="671.8" y2="622.3" stroke="#8591d4" stroke-width="1.1"/>
<rect x="623.6" y="621.3" width="0.8" height="1" fill="#2b3ea5"/>
<rect x="650.7" y="621.3" width="0.8" height="1" fill="#2b3ea5"/>
<rect x="582.2" y="621.3" width="0.8" height="1" fill="#2b3ea5"/>
<rect x="608.5" y="621.3" width="0.8" height="1" fill="#2b3ea5"/>
<rect x="498.4" y="621.3" width="0.8" height="1" fill="#2b3ea5"/>
<rect x="607.1" y="621.3" width="0.8" height="1" fill="#2b3ea5"/>
<rect x="511.4" y="621.3" width="0.8" height="1" fill="#2b3ea5"/>
<rect x="618.3" y="621.3" width="0.8" height="1" fill="#2b3ea5"/>
<rect x="651.2" y="621.3" width="0.8" height="1" fill="#2b3ea5"/>
<rect x="553" y="621.3" width="0.8" height="1" fill="#2b3ea5"/>
<rect x="497.3" y="621.3" width="0.8" height="1" fill="#2b3ea5"/>
<rect x="492.3" y="621.3" width="0.8" height="1" fill="#2b3ea5"/>
<rect x="579.9" y="621.3" width="0.8" height="1" fill="#2b3ea5"/>
<rect x="513.1" y="621.3" width="0.8" height="1" fill="#2b3ea5"/>
<rect x="621" y="621.3" width="0.8" height="1" fill="#2b3ea5"/>
<rect x="597.1" y="621.3" width="0.8" height="1" fill="#2b3ea5"/>
<rect x="576.8" y="621.3" width="0.8" height="1" fill="#2b3ea5"/>
<rect x="608.5" y="621.3" width="0.8" height="1" fill="#2b3ea5"/>
<rect x="512.2" y="621.3" width="0.8" height="1" fill="#2b3ea5"/>
<rect x="569.1" y="621.3" width="0.8" height="1" fill="#2b3ea5"/>
<rect x="492.8" y="621.3" width="0.8" height="1" fill="#2b3ea5"/>
<rect x="585.6" y="621.3" width="0.8" height="1" fill="#2b3ea5"/>
<path d="M477.2 622.3 L478.4 619 L479 616.3 L479.6 619.3 L480.8 622.3Z" fill="#2b3ea5"/>
<path d="M545.4 622.3 L546.3 614.3 L547.2 622.3Z" fill="#2b3ea5"/>
<path d="M613.6 622.3 L614.4 618.9 L615.2 622.3Z" fill="#2b3ea5"/>
<path d="M564.5 622.3 L566 620.8 L567.5 622.3Z" fill="#2b3ea5"/>
<path d="M659.8 622.3 L661 620.5 L662.2 622.3Z" fill="#2b3ea5"/>
<text x="476.1" y="615.5" font-size="6.4">[0 - 20]</text>
<line x1="480" y1="632.3" x2="670" y2="632.3" stroke="#3545a8" stroke-width="0.8"/>
<rect x="484" y="631.2" width="0.6" height="2.2" fill="#2a3a9e"/>
<rect x="491" y="631.2" width="0.6" height="2.2" fill="#2a3a9e"/>
<rect x="498" y="631.2" width="0.6" height="2.2" fill="#2a3a9e"/>
<rect x="505" y="631.2" width="0.6" height="2.2" fill="#2a3a9e"/>
<rect x="512" y="631.2" width="0.6" height="2.2" fill="#2a3a9e"/>
<rect x="519" y="631.2" width="0.6" height="2.2" fill="#2a3a9e"/>
<rect x="526" y="631.2" width="0.6" height="2.2" fill="#2a3a9e"/>
<rect x="533" y="631.2" width="0.6" height="2.2" fill="#2a3a9e"/>
<rect x="540" y="631.2" width="0.6" height="2.2" fill="#2a3a9e"/>
<rect x="547" y="631.2" width="0.6" height="2.2" fill="#2a3a9e"/>
<rect x="554" y="631.2" width="0.6" height="2.2" fill="#2a3a9e"/>
<rect x="561" y="631.2" width="0.6" height="2.2" fill="#2a3a9e"/>
<rect x="568" y="631.2" width="0.6" height="2.2" fill="#2a3a9e"/>
<rect x="575" y="631.2" width="0.6" height="2.2" fill="#2a3a9e"/>
<rect x="582" y="631.2" width="0.6" height="2.2" fill="#2a3a9e"/>
<rect x="589" y="631.2" width="0.6" height="2.2" fill="#2a3a9e"/>
<rect x="596" y="631.2" width="0.6" height="2.2" fill="#2a3a9e"/>
<rect x="603" y="631.2" width="0.6" height="2.2" fill="#2a3a9e"/>
<rect x="610" y="631.2" width="0.6" height="2.2" fill="#2a3a9e"/>
<rect x="617" y="631.2" width="0.6" height="2.2" fill="#2a3a9e"/>
<rect x="624" y="631.2" width="0.6" height="2.2" fill="#2a3a9e"/>
<rect x="631" y="631.2" width="0.6" height="2.2" fill="#2a3a9e"/>
<rect x="638" y="631.2" width="0.6" height="2.2" fill="#2a3a9e"/>
<rect x="645" y="631.2" width="0.6" height="2.2" fill="#2a3a9e"/>
<rect x="652" y="631.2" width="0.6" height="2.2" fill="#2a3a9e"/>
<rect x="659" y="631.2" width="0.6" height="2.2" fill="#2a3a9e"/>
<rect x="480" y="630.7" width="1" height="3.2" fill="#2a3a9e"/>
<rect x="546" y="631.1" width="2" height="2.4" fill="#2a3a9e"/>
<rect x="552" y="631.1" width="1.5" height="2.4" fill="#2a3a9e"/>
<rect x="613" y="631" width="1.5" height="2.6" fill="#2a3a9e"/>
<rect x="663" y="630.9" width="7" height="2.8" fill="#2a3a9e"/>
<text x="575" y="644.7" font-size="8.7" text-anchor="middle">RXRA</text>
<rect x="264.3" y="655.2" width="197.3" height="86.9" fill="#ffffff" stroke="#8a8a8a" stroke-width="0.9"/>
<rect x="265" y="657.3" width="6.1" height="56.2" fill="#ecd2cd"/>
<line x1="265.3" y1="668.4" x2="461.1" y2="668.4" stroke="#f2a4a4" stroke-width="1.1"/>
<rect x="388" y="667.4" width="0.8" height="1" fill="#e8262a"/>
<rect x="438.4" y="667.4" width="0.8" height="1" fill="#e8262a"/>
<rect x="358.4" y="667.4" width="0.8" height="1" fill="#e8262a"/>
<rect x="405.4" y="667.4" width="0.8" height="1" fill="#e8262a"/>
<rect x="447" y="667.4" width="0.8" height="1" fill="#e8262a"/>
<rect x="370.2" y="667.4" width="0.8" height="1" fill="#e8262a"/>
<rect x="409.5" y="667.4" width="0.8" height="1" fill="#e8262a"/>
<rect x="408.5" y="667.4" width="0.8" height="1" fill="#e8262a"/>
<rect x="432.5" y="667.4" width="0.8" height="1" fill="#e8262a"/>
<rect x="281.1" y="667.4" width="0.8" height="1" fill="#e8262a"/>
<rect x="305.5" y="667.4" width="0.8" height="1" fill="#e8262a"/>
<rect x="458" y="667.4" width="0.8" height="1" fill="#e8262a"/>
<rect x="411.9" y="667.4" width="0.8" height="1" fill="#e8262a"/>
<rect x="322.4" y="667.4" width="0.8" height="1" fill="#e8262a"/>
<rect x="411.1" y="667.4" width="0.8" height="1" fill="#e8262a"/>
<rect x="305.5" y="667.4" width="0.8" height="1" fill="#e8262a"/>
<rect x="340.7" y="667.4" width="0.8" height="1" fill="#e8262a"/>
<rect x="355.6" y="667.4" width="0.8" height="1" fill="#e8262a"/>
<rect x="316.5" y="667.4" width="0.8" height="1" fill="#e8262a"/>
<rect x="299.8" y="667.4" width="0.8" height="1" fill="#e8262a"/>
<rect x="367.8" y="667.4" width="0.8" height="1" fill="#e8262a"/>
<rect x="393.5" y="667.4" width="0.8" height="1" fill="#e8262a"/>
<path d="M265.7 668.4 L266.7 665.1 L267.3 662.4 L267.9 665.4 L268.9 668.4Z" fill="#e8262a"/>
<path d="M381 668.4 L381.7 665.6 L382.4 668.4Z" fill="#e8262a"/>
<text x="266.1" y="661.6" font-size="5.9">[0 - 10.00]</text>
<line x1="265.3" y1="680.2" x2="461.1" y2="680.2" stroke="#f2a4a4" stroke-width="1.1"/>
<rect x="333" y="679.2" width="0.8" height="1" fill="#e8262a"/>
<rect x="396" y="679.2" width="0.8" height="1" fill="#e8262a"/>
<rect x="455.3" y="679.2" width="0.8" height="1" fill="#e8262a"/>
<rect x="284.5" y="679.2" width="0.8" height="1" fill="#e8262a"/>
<rect x="325.6" y="679.2" width="0.8" height="1" fill="#e8262a"/>
<rect x="291" y="679.2" width="0.8" height="1" fill="#e8262a"/>
<rect x="399.1" y="679.2" width="0.8" height="1" fill="#e8262a"/>
<rect x="350.3" y="679.2" width="0.8" height="1" fill="#e8262a"/>
<rect x="355.3" y="679.2" width="0.8" height="1" fill="#e8262a"/>
<rect x="319.8" y="679.2" width="0.8" height="1" fill="#e8262a"/>
<rect x="417.5" y="679.2" width="0.8" height="1" fill="#e8262a"/>
<rect x="414.2" y="679.2" width="0.8" height="1" fill="#e8262a"/>
<rect x="356.8" y="679.2" width="0.8" height="1" fill="#e8262a"/>
<rect x="426.3" y="679.2" width="0.8" height="1" fill="#e8262a"/>
<rect x="316.9" y="679.2" width="0.8" height="1" fill="#e8262a"/>
<rect x="337.7" y="679.2" width="0.8" height="1" fill="#e8262a"/>
<rect x="450.8" y="679.2" width="0.8" height="1" fill="#e8262a"/>
<rect x="316.3" y="679.2" width="0.8" height="1" fill="#e8262a"/>
<rect x="300.8" y="679.2" width="0.8" height="1" fill="#e8262a"/>
<rect x="280.2" y="679.2" width="0.8" height="1" fill="#e8262a"/>
<rect x="398.2" y="679.2" width="0.8" height="1" fill="#e8262a"/>
<rect x="425.6" y="679.2" width="0.8" height="1" fill="#e8262a"/>
<path d="M265.7 680.2 L266.7 676.9 L267.3 674.2 L267.9 677.2 L268.9 680.2Z" fill="#e8262a"/>
<path d="M381 680.2 L381.7 677.4 L382.4 680.2Z" fill="#e8262a"/>
<text x="266.1" y="673.2" font-size="5.9">[0 - 10.00]</text>
<line x1="265.3" y1="693.6" x2="461.1" y2="693.6" stroke="#b6bfe6" stroke-width="1.1"/>
<rect x="283.8" y="692.6" width="0.8" height="1" fill="#2b3ea5"/>
<rect x="362.4" y="692.6" width="0.8" height="1" fill="#2b3ea5"/>
<rect x="347.4" y="692.6" width="0.8" height="1" fill="#2b3ea5"/>
<rect x="334.7" y="692.6" width="0.8" height="1" fill="#2b3ea5"/>
<rect x="317.6" y="692.6" width="0.8" height="1" fill="#2b3ea5"/>
<rect x="345.1" y="692.6" width="0.8" height="1" fill="#2b3ea5"/>
<rect x="300.3" y="692.6" width="0.8" height="1" fill="#2b3ea5"/>
<rect x="444.2" y="692.6" width="0.8" height="1" fill="#2b3ea5"/>
<rect x="311" y="692.6" width="0.8" height="1" fill="#2b3ea5"/>
<rect x="372.9" y="692.6" width="0.8" height="1" fill="#2b3ea5"/>
<rect x="392.4" y="692.6" width="0.8" height="1" fill="#2b3ea5"/>
<rect x="395.5" y="692.6" width="0.8" height="1" fill="#2b3ea5"/>
<rect x="361.7" y="692.6" width="0.8" height="1" fill="#2b3ea5"/>
<rect x="370.7" y="692.6" width="0.8" height="1" fill="#2b3ea5"/>
<rect x="446.9" y="692.6" width="0.8" height="1" fill="#2b3ea5"/>
<rect x="306.3" y="692.6" width="0.8" height="1" fill="#2b3ea5"/>
<rect x="311.3" y="692.6" width="0.8" height="1" fill="#2b3ea5"/>
<rect x="330" y="692.6" width="0.8" height="1" fill="#2b3ea5"/>
<rect x="410.7" y="692.6" width="0.8" height="1" fill="#2b3ea5"/>
<rect x="352.4" y="692.6" width="0.8" height="1" fill="#2b3ea5"/>
<rect x="346.1" y="692.6" width="0.8" height="1" fill="#2b3ea5"/>
<rect x="288.6" y="692.6" width="0.8" height="1" fill="#2b3ea5"/>
<path d="M265.7 693.6 L266.7 690.8 L267.3 688.5 L267.9 691.1 L268.9 693.6Z" fill="#2b3ea5"/>
<path d="M381 693.6 L381.7 690.8 L382.4 693.6Z" fill="#2b3ea5"/>
<text x="266.1" y="685.3" font-size="5.9">[0 - 10.00]</text>
<line x1="265.3" y1="705.9" x2="461.1" y2="705.9" stroke="#8591d4" stroke-width="1.1"/>
<rect x="297.6" y="704.9" width="0.8" height="1" fill="#2b3ea5"/>
<rect x="394.4" y="704.9" width="0.8" height="1" fill="#2b3ea5"/>
<rect x="316.5" y="704.9" width="0.8" height="1" fill="#2b3ea5"/>
<rect x="359.2" y="704.9" width="0.8" height="1" fill="#2b3ea5"/>
<rect x="318.1" y="704.9" width="0.8" height="1" fill="#2b3ea5"/>
<rect x="331.6" y="704.9" width="0.8" height="1" fill="#2b3ea5"/>
<rect x="309.6" y="704.9" width="0.8" height="1" fill="#2b3ea5"/>
<rect x="441.6" y="704.9" width="0.8" height="1" fill="#2b3ea5"/>
<rect x="389.3" y="704.9" width="0.8" height="1" fill="#2b3ea5"/>
<rect x="364" y="704.9" width="0.8" height="1" fill="#2b3ea5"/>
<rect x="316.5" y="704.9" width="0.8" height="1" fill="#2b3ea5"/>
<rect x="428.5" y="704.9" width="0.8" height="1" fill="#2b3ea5"/>
<rect x="377.8" y="704.9" width="0.8" height="1" fill="#2b3ea5"/>
<rect x="299" y="704.9" width="0.8" height="1" fill="#2b3ea5"/>
<rect x="307.6" y="704.9" width="0.8" height="1" fill="#2b3ea5"/>
<rect x="449.4" y="704.9" width="0.8" height="1" fill="#2b3ea5"/>
<rect x="333.6" y="704.9" width="0.8" height="1" fill="#2b3ea5"/>
<rect x="350" y="704.9" width="0.8" height="1" fill="#2b3ea5"/>
<rect x="292.1" y="704.9" width="0.8" height="1" fill="#2b3ea5"/>
<rect x="435.3" y="704.9" width="0.8" height="1" fill="#2b3ea5"/>
<rect x="319.6" y="704.9" width="0.8" height="1" fill="#2b3ea5"/>
<rect x="378.2" y="704.9" width="0.8" height="1" fill="#2b3ea5"/>
<path d="M265.7 705.9 L266.7 703.1 L267.3 700.8 L267.9 703.4 L268.9 705.9Z" fill="#2b3ea5"/>
<path d="M381 705.9 L381.7 703.1 L382.4 705.9Z" fill="#2b3ea5"/>
<text x="266.1" y="699.2" font-size="5.9">[0 - 10.00]</text>
<line x1="266" y1="726.1" x2="461" y2="726.1" stroke="#3545a8" stroke-width="0.8"/>
<rect x="268.2" y="725" width="1.5" height="2.2" fill="#2a3a9e"/>
<rect x="273" y="725" width="1.5" height="2.2" fill="#2a3a9e"/>
<rect x="277.7" y="725" width="1" height="2.2" fill="#2a3a9e"/>
<rect x="280.1" y="725" width="1.2" height="2.2" fill="#2a3a9e"/>
<rect x="280.6" y="725" width="0.6" height="2.2" fill="#2a3a9e"/>
<rect x="282" y="725" width="1.1" height="2.2" fill="#2a3a9e"/>
<rect x="283.5" y="725" width="1.2" height="2.2" fill="#2a3a9e"/>
<rect x="284.3" y="725" width="0.9" height="2.2" fill="#2a3a9e"/>
<rect x="289" y="725" width="1" height="2.2" fill="#2a3a9e"/>
<rect x="292.3" y="725" width="1.4" height="2.2" fill="#2a3a9e"/>
<rect x="299.6" y="725" width="0.7" height="2.2" fill="#2a3a9e"/>
<rect x="307.1" y="725" width="1.1" height="2.2" fill="#2a3a9e"/>
<rect x="315.1" y="725" width="0.7" height="2.2" fill="#2a3a9e"/>
<rect x="319" y="725" width="1" height="2.2" fill="#2a3a9e"/>
<rect x="321.4" y="725" width="1.5" height="2.2" fill="#2a3a9e"/>
<rect x="326.7" y="725" width="1.2" height="2.2" fill="#2a3a9e"/>
<rect x="327.8" y="725" width="0.6" height="2.2" fill="#2a3a9e"/>
<rect x="332.1" y="725" width="1.5" height="2.2" fill="#2a3a9e"/>
<rect x="341.4" y="725" width="1.3" height="2.2" fill="#2a3a9e"/>
<rect x="345.6" y="725" width="1.1" height="2.2" fill="#2a3a9e"/>
<rect x="361.2" y="725" width="0.9" height="2.2" fill="#2a3a9e"/>
<rect x="381.7" y="725" width="0.9" height="2.2" fill="#2a3a9e"/>
<rect x="387.9" y="725" width="0.8" height="2.2" fill="#2a3a9e"/>
<rect x="391.4" y="725" width="1.2" height="2.2" fill="#2a3a9e"/>
<rect x="394.8" y="725" width="0.6" height="2.2" fill="#2a3a9e"/>
<rect x="402.6" y="725" width="1.5" height="2.2" fill="#2a3a9e"/>
<rect x="405.9" y="725" width="0.7" height="2.2" fill="#2a3a9e"/>
<rect x="408.7" y="725" width="1.2" height="2.2" fill="#2a3a9e"/>
<rect x="409.7" y="725" width="1.2" height="2.2" fill="#2a3a9e"/>
<rect x="411" y="725" width="1" height="2.2" fill="#2a3a9e"/>
<rect x="411.4" y="725" width="0.9" height="2.2" fill="#2a3a9e"/>
<rect x="412.5" y="725" width="1" height="2.2" fill="#2a3a9e"/>
<rect x="417.1" y="725" width="0.9" height="2.2" fill="#2a3a9e"/>
<rect x="421" y="725" width="1.6" height="2.2" fill="#2a3a9e"/>
<rect x="424" y="725" width="1.2" height="2.2" fill="#2a3a9e"/>
<rect x="431.4" y="725" width="1.1" height="2.2" fill="#2a3a9e"/>
<rect x="435.2" y="725" width="1.3" height="2.2" fill="#2a3a9e"/>
<rect x="436.9" y="725" width="1.1" height="2.2" fill="#2a3a9e"/>
<rect x="446" y="725" width="0.7" height="2.2" fill="#2a3a9e"/>
<rect x="453.7" y="725" width="0.6" height="2.2" fill="#2a3a9e"/>
<rect x="369" y="724.9" width="11" height="2.4" fill="#2a3a9e"/>
<rect x="385" y="724.9" width="15" height="2.4" fill="#2a3a9e"/>
<rect x="440" y="724.8" width="21" height="2.6" fill="#2a3a9e"/>
<text x="362" y="739.2" font-size="8.7" text-anchor="middle">EGFR</text>
<text x="254.7" y="689" font-size="8.45" text-anchor="middle" transform="rotate(-90 254.7 689)" dy="3.0"><tspan fill="#3448b3">shhnRNPL </tspan><tspan fill="#e8262a">shNC</tspan></text>
<rect x="474.8" y="654.9" width="198.1" height="87" fill="#ffffff" stroke="#8a8a8a" stroke-width="0.9"/>
<rect x="660" y="658.9" width="7" height="56.4" fill="#ecd2cd"/>
<line x1="475.8" y1="668.3" x2="672.4" y2="668.3" stroke="#f2a4a4" stroke-width="1.1"/>
<rect x="653.9" y="667.3" width="0.8" height="1" fill="#e8262a"/>
<rect x="510.2" y="667.3" width="0.8" height="1" fill="#e8262a"/>
<rect x="587.7" y="667.3" width="0.8" height="1" fill="#e8262a"/>
<rect x="574.2" y="667.3" width="0.8" height="1" fill="#e8262a"/>
<rect x="662.3" y="667.3" width="0.8" height="1" fill="#e8262a"/>
<rect x="555.2" y="667.3" width="0.8" height="1" fill="#e8262a"/>
<rect x="567.4" y="667.3" width="0.8" height="1" fill="#e8262a"/>
<rect x="591.7" y="667.3" width="0.8" height="1" fill="#e8262a"/>
<path d="M660 668.3 L660.3 662.8 L661 661.8 L661.6 662.5 L662.2 661.1 L662.8 661.7 L663.3 659.8 L663.7 658.1 L664.1 662.3 L664.4 668.3Z" fill="#e8262a"/>
<text x="476.6" y="661.5" font-size="5.9">[0 - 10.00]</text>
<line x1="475.8" y1="680.3" x2="672.4" y2="680.3" stroke="#f2a4a4" stroke-width="1.1"/>
<rect x="555.5" y="679.3" width="0.8" height="1" fill="#e8262a"/>
<rect x="653.6" y="679.3" width="0.8" height="1" fill="#e8262a"/>
<rect x="647.4" y="679.3" width="0.8" height="1" fill="#e8262a"/>
<rect x="618.8" y="679.3" width="0.8" height="1" fill="#e8262a"/>
<rect x="495.2" y="679.3" width="0.8" height="1" fill="#e8262a"/>
<rect x="668" y="679.3" width="0.8" height="1" fill="#e8262a"/>
<rect x="586.4" y="679.3" width="0.8" height="1" fill="#e8262a"/>
<rect x="595.4" y="679.3" width="0.8" height="1" fill="#e8262a"/>
<path d="M660 680.3 L660.3 675.1 L661 674.1 L661.6 674.8 L662.2 673.5 L662.8 674 L663.3 672.2 L663.7 670.6 L664.1 674.6 L664.4 680.3Z" fill="#e8262a"/>
<text x="476.6" y="673.3" font-size="5.9">[0 - 10.00]</text>
<line x1="475.8" y1="693.7" x2="672.4" y2="693.7" stroke="#b6bfe6" stroke-width="1.1"/>
<rect x="585.1" y="692.7" width="0.8" height="1" fill="#2b3ea5"/>
<rect x="580.3" y="692.7" width="0.8" height="1" fill="#2b3ea5"/>
<rect x="657.1" y="692.7" width="0.8" height="1" fill="#2b3ea5"/>
<rect x="535.4" y="692.7" width="0.8" height="1" fill="#2b3ea5"/>
<rect x="511.2" y="692.7" width="0.8" height="1" fill="#2b3ea5"/>
<rect x="669.8" y="692.7" width="0.8" height="1" fill="#2b3ea5"/>
<rect x="533.1" y="692.7" width="0.8" height="1" fill="#2b3ea5"/>
<rect x="536.3" y="692.7" width="0.8" height="1" fill="#2b3ea5"/>
<path d="M660 693.7 L660.3 689.7 L661 689 L661.6 689.5 L662.2 688.5 L662.8 688.9 L663.3 687.6 L663.7 686.4 L664.1 689.4 L664.4 693.7Z" fill="#2b3ea5"/>
<text x="476.6" y="685.4" font-size="5.9">[0 - 10.00]</text>
<line x1="475.8" y1="706.3" x2="672.4" y2="706.3" stroke="#8591d4" stroke-width="1.1"/>
<rect x="565.8" y="705.3" width="0.8" height="1" fill="#2b3ea5"/>
<rect x="650.9" y="705.3" width="0.8" height="1" fill="#2b3ea5"/>
<rect x="554.4" y="705.3" width="0.8" height="1" fill="#2b3ea5"/>
<rect x="487.1" y="705.3" width="0.8" height="1" fill="#2b3ea5"/>
<rect x="534" y="705.3" width="0.8" height="1" fill="#2b3ea5"/>
<rect x="527.2" y="705.3" width="0.8" height="1" fill="#2b3ea5"/>
<rect x="488.6" y="705.3" width="0.8" height="1" fill="#2b3ea5"/>
<rect x="650" y="705.3" width="0.8" height="1" fill="#2b3ea5"/>
<path d="M660 706.3 L660.3 702.3 L661 701.6 L661.6 702.1 L662.2 701.1 L662.8 701.5 L663.3 700.2 L663.7 699 L664.1 702 L664.4 706.3Z" fill="#2b3ea5"/>
<text x="476.6" y="699.6" font-size="5.9">[0 - 10.00]</text>
<line x1="477" y1="725.5" x2="663.7" y2="725.5" stroke="#3545a8" stroke-width="0.8"/>
<rect x="490" y="724.4" width="0.6" height="2.2" fill="#2a3a9e"/>
<rect x="496" y="724.4" width="0.6" height="2.2" fill="#2a3a9e"/>
<rect x="502" y="724.4" width="0.6" height="2.2" fill="#2a3a9e"/>
<rect x="508" y="724.4" width="0.6" height="2.2" fill="#2a3a9e"/>
<rect x="514" y="724.4" width="0.6" height="2.2" fill="#2a3a9e"/>
<rect x="520" y="724.4" width="0.6" height="2.2" fill="#2a3a9e"/>
<rect x="526" y="724.4" width="0.6" height="2.2" fill="#2a3a9e"/>
<rect x="532" y="724.4" width="0.6" height="2.2" fill="#2a3a9e"/>
<rect x="538" y="724.4" width="0.6" height="2.2" fill="#2a3a9e"/>
<rect x="544" y="724.4" width="0.6" height="2.2" fill="#2a3a9e"/>
<rect x="550" y="724.4" width="0.6" height="2.2" fill="#2a3a9e"/>
<rect x="556" y="724.4" width="0.6" height="2.2" fill="#2a3a9e"/>
<rect x="562" y="724.4" width="0.6" height="2.2" fill="#2a3a9e"/>
<rect x="568" y="724.4" width="0.6" height="2.2" fill="#2a3a9e"/>
<rect x="574" y="724.4" width="0.6" height="2.2" fill="#2a3a9e"/>
<rect x="580" y="724.4" width="0.6" height="2.2" fill="#2a3a9e"/>
<rect x="586" y="724.4" width="0.6" height="2.2" fill="#2a3a9e"/>
<rect x="592" y="724.4" width="0.6" height="2.2" fill="#2a3a9e"/>
<rect x="598" y="724.4" width="0.6" height="2.2" fill="#2a3a9e"/>
<rect x="604" y="724.4" width="0.6" height="2.2" fill="#2a3a9e"/>
<rect x="610" y="724.4" width="0.6" height="2.2" fill="#2a3a9e"/>
<rect x="616" y="724.4" width="0.6" height="2.2" fill="#2a3a9e"/>
<rect x="622" y="724.4" width="0.6" height="2.2" fill="#2a3a9e"/>
<rect x="628" y="724.4" width="0.6" height="2.2" fill="#2a3a9e"/>
<rect x="634" y="724.4" width="0.6" height="2.2" fill="#2a3a9e"/>
<rect x="640" y="724.4" width="0.6" height="2.2" fill="#2a3a9e"/>
<rect x="646" y="724.4" width="0.6" height="2.2" fill="#2a3a9e"/>
<rect x="652" y="724.4" width="0.6" height="2.2" fill="#2a3a9e"/>
<rect x="658" y="724.4" width="0.6" height="2.2" fill="#2a3a9e"/>
<rect x="477" y="724.1" width="9.3" height="2.8" fill="#2a3a9e"/>
<text x="577.6" y="738.5" font-size="8.7" text-anchor="middle">CDK6</text>
</svg>
</body></html>
